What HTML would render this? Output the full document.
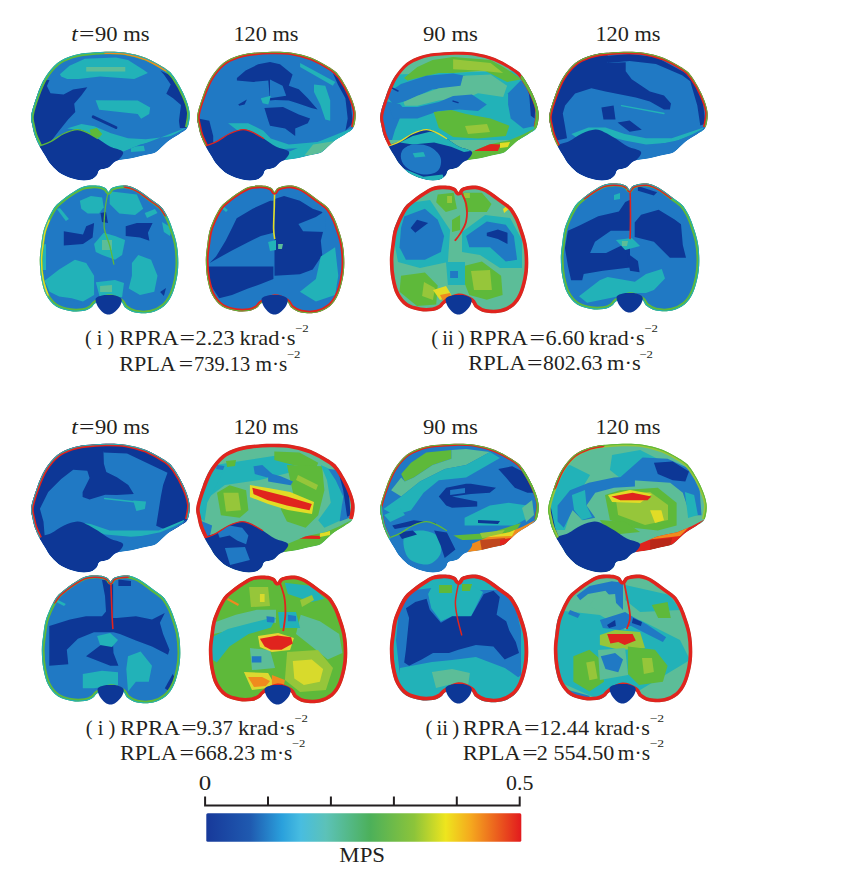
<!DOCTYPE html>
<html><head><meta charset="utf-8"><style>
html,body{margin:0;padding:0;background:#fff;}
svg{display:block;}
text{font-family:"Liberation Serif",serif;fill:#231f20;}
</style></head><body>
<svg width="843" height="876" viewBox="0 0 843 876">
<g transform="translate(0,0)"><clipPath id="sc1"><path d="M31.3,115.0 C30.5,120.1 31.9,122.5 32.5,126.0 C33.1,129.5 33.8,132.7 35.0,136.0 C36.2,139.3 37.8,142.8 39.5,146.0 C41.2,149.2 43.1,152.4 45.0,155.5 C46.9,158.6 48.4,161.7 51.1,164.8 C53.9,167.9 57.1,171.5 61.5,174.0 C65.8,176.5 72.4,178.8 77.2,179.8 C82.0,180.8 86.9,180.6 90.2,179.8 C93.5,179.0 95.3,176.8 96.8,175.2 C98.3,173.6 97.5,171.3 99.4,170.0 C101.4,168.7 105.7,168.9 108.5,167.4 C111.3,165.9 112.4,162.5 116.0,161.0 C119.6,159.5 125.3,159.5 130.2,158.5 C135.1,157.5 141.1,156.0 145.3,155.0 C149.5,154.0 152.4,154.0 155.4,152.4 C158.4,150.8 161.1,147.4 163.4,145.4 C165.8,143.4 166.6,142.3 169.5,140.3 C172.4,138.3 177.6,135.5 180.6,133.3 C183.6,131.1 186.1,130.8 187.6,127.2 C189.1,123.7 190.1,117.3 189.5,112.0 C188.9,106.7 186.9,101.2 184.3,95.4 C181.8,89.6 177.2,81.7 174.2,77.3 C171.2,72.9 170.9,72.4 166.2,69.2 C161.5,66.0 152.7,60.9 146.0,58.1 C139.3,55.4 132.5,53.8 125.8,52.7 C119.1,51.6 112.4,51.6 105.7,51.7 C99.0,51.8 91.2,52.4 85.5,53.1 C79.8,53.8 76.1,54.4 71.4,56.1 C66.7,57.8 61.7,59.6 57.3,63.1 C52.9,66.6 48.6,71.9 45.2,77.3 C41.8,82.7 39.4,89.1 37.1,95.4 C34.8,101.7 32.1,109.9 31.3,115.0Z"/></clipPath><clipPath id="cc1"><path d="M39.5,146.0 C40.5,143.6 47.0,143.4 51.1,141.3 C55.2,139.2 59.6,135.4 64.0,133.5 C68.3,131.6 73.5,129.8 77.2,129.6 C80.9,129.4 82.8,130.7 86.3,132.2 C89.8,133.7 94.1,136.3 98.0,138.7 C101.9,141.1 105.6,144.3 109.8,146.5 C114.0,148.7 121.5,149.5 122.9,151.8 C124.3,154.1 120.4,157.9 118.0,160.5 C115.6,163.1 111.6,165.8 108.5,167.4 C105.4,169.0 101.4,168.7 99.4,170.0 C97.5,171.3 98.3,173.6 96.8,175.2 C95.3,176.8 93.5,179.0 90.2,179.8 C86.9,180.6 82.0,180.8 77.2,179.8 C72.4,178.8 65.8,176.5 61.5,174.0 C57.1,171.5 53.9,167.9 51.1,164.8 C48.4,161.7 46.9,158.6 45.0,155.5 C43.1,152.4 38.5,148.4 39.5,146.0Z"/></clipPath><clipPath id="uc1"><path d="M122.9,151.8 L140.2,144.4 L150.3,142.3 L160.4,140.3 L174.5,134.3 L188.0,127.2 L180.6,133.3 L169.5,140.3 L163.4,145.4 L155.4,152.4 L145.3,155.0 L130.2,158.5 L118.0,160.5Z"/></clipPath><g clip-path="url(#sc1)"><path d="M31.3,115.0 C30.5,120.1 31.9,122.5 32.5,126.0 C33.1,129.5 33.8,132.7 35.0,136.0 C36.2,139.3 37.8,142.8 39.5,146.0 C41.2,149.2 43.1,152.4 45.0,155.5 C46.9,158.6 48.4,161.7 51.1,164.8 C53.9,167.9 57.1,171.5 61.5,174.0 C65.8,176.5 72.4,178.8 77.2,179.8 C82.0,180.8 86.9,180.6 90.2,179.8 C93.5,179.0 95.3,176.8 96.8,175.2 C98.3,173.6 97.5,171.3 99.4,170.0 C101.4,168.7 105.7,168.9 108.5,167.4 C111.3,165.9 112.4,162.5 116.0,161.0 C119.6,159.5 125.3,159.5 130.2,158.5 C135.1,157.5 141.1,156.0 145.3,155.0 C149.5,154.0 152.4,154.0 155.4,152.4 C158.4,150.8 161.1,147.4 163.4,145.4 C165.8,143.4 166.6,142.3 169.5,140.3 C172.4,138.3 177.6,135.5 180.6,133.3 C183.6,131.1 186.1,130.8 187.6,127.2 C189.1,123.7 190.1,117.3 189.5,112.0 C188.9,106.7 186.9,101.2 184.3,95.4 C181.8,89.6 177.2,81.7 174.2,77.3 C171.2,72.9 170.9,72.4 166.2,69.2 C161.5,66.0 152.7,60.9 146.0,58.1 C139.3,55.4 132.5,53.8 125.8,52.7 C119.1,51.6 112.4,51.6 105.7,51.7 C99.0,51.8 91.2,52.4 85.5,53.1 C79.8,53.8 76.1,54.4 71.4,56.1 C66.7,57.8 61.7,59.6 57.3,63.1 C52.9,66.6 48.6,71.9 45.2,77.3 C41.8,82.7 39.4,89.1 37.1,95.4 C34.8,101.7 32.1,109.9 31.3,115.0Z" fill="#2079c4"/><path d="M30.9,79.9 L49.5,79.9 L46.9,86.1 L50.5,93.2 L63.6,94.4 L73.0,89.5 L87.3,87.2 L81.3,95.5 L74.2,103.8 L75.3,112.0 L68.3,119.2 L58.9,131.0 L51.6,140.6 L40.1,150.0 L27.9,139.9 L27.9,90.0Z" fill="#0d3796"/><path d="M59.9,74.2 L69.5,65.8 L84.9,58.8 L115.9,57.5 L128.0,59.9 L143.4,69.7 L147.9,73.1 L134.2,78.9 L100.1,76.5 L78.9,78.9 L67.2,78.9 L61.2,76.5Z" fill="#22b2b8"/><path d="M86.2,66.9 L125.3,66.9 L125.3,71.6 L86.2,71.6Z" fill="#5cbd98"/><path d="M95.6,100.2 L137.7,100.4 L150.2,107.5 L149.2,114.1 L141.1,118.8 L137.7,114.1 L99.2,109.8Z" fill="#22b2b8"/><path d="M93.2,116.9 L115.9,127.5" fill="none" stroke="#0d3796" stroke-width="3.0" stroke-linecap="round"/><path d="M160.5,70.7 L170.7,75.4 L182.3,91.5 L187.8,105.1 L186.8,128.0 L179.9,128.0 L178.9,121.1 L181.0,105.1 L173.1,98.3 L166.3,93.8 L170.7,84.6 L163.9,74.4Z" fill="#0d3796"/><path d="M67.0,128.6 L81.5,123.9 L94.3,126.3 L111.0,133.3 L128.0,138.2 L145.8,139.3 L173.1,135.9 L188.0,126.9 L122.9,151.9 L109.7,146.5 L97.9,138.9 L86.2,132.2 L77.2,129.7Z" fill="#22b2b8"/><path d="M89.6,129.7 L96.9,128.0 L102.2,134.0 L99.0,137.8 L91.5,136.1Z" fill="#5eb93a"/><path d="M122.9,151.8 L140.2,144.4 L150.3,142.3 L160.4,140.3 L174.5,134.3 L188.0,127.2 L180.6,133.3 L169.5,140.3 L163.4,145.4 L155.4,152.4 L145.3,155.0 L130.2,158.5 L118.0,160.5Z" fill="#2079c4"/><g clip-path="url(#uc1)"><path d="M131.0,146.8 L143.8,145.7 L144.9,151.0 L131.0,152.1Z" fill="#22b2b8"/></g><path d="M39.5,146.0 C40.5,143.6 47.0,143.4 51.1,141.3 C55.2,139.2 59.6,135.4 64.0,133.5 C68.3,131.6 73.5,129.8 77.2,129.6 C80.9,129.4 82.8,130.7 86.3,132.2 C89.8,133.7 94.1,136.3 98.0,138.7 C101.9,141.1 105.6,144.3 109.8,146.5 C114.0,148.7 121.5,149.5 122.9,151.8 C124.3,154.1 120.4,157.9 118.0,160.5 C115.6,163.1 111.6,165.8 108.5,167.4 C105.4,169.0 101.4,168.7 99.4,170.0 C97.5,171.3 98.3,173.6 96.8,175.2 C95.3,176.8 93.5,179.0 90.2,179.8 C86.9,180.6 82.0,180.8 77.2,179.8 C72.4,178.8 65.8,176.5 61.5,174.0 C57.1,171.5 53.9,167.9 51.1,164.8 C48.4,161.7 46.9,158.6 45.0,155.5 C43.1,152.4 38.5,148.4 39.5,146.0Z" fill="#0d3796"/><g clip-path="url(#cc1)"></g><path d="M39.5,146.0 C41.4,145.2 47.0,143.4 51.1,141.3 C55.2,139.2 59.6,135.4 64.0,133.5 C68.3,131.6 73.5,129.8 77.2,129.6 C80.9,129.4 82.8,130.7 86.3,132.2 C89.8,133.7 96.0,137.6 98.0,138.7" fill="none" stroke="#5eb93a" stroke-width="1.3"/><path d="M39.5,146.0 C38.8,144.3 36.2,139.3 35.0,136.0 C33.8,132.7 33.1,129.5 32.5,126.0 C31.9,122.5 30.5,120.1 31.3,115.0 C32.1,109.9 34.8,101.7 37.1,95.4 C39.4,89.1 41.8,82.7 45.2,77.3 C48.6,71.9 52.9,66.6 57.3,63.1 C61.7,59.6 66.7,57.8 71.4,56.1 C76.1,54.4 79.8,53.8 85.5,53.1 C91.2,52.4 99.0,51.8 105.7,51.7 C112.4,51.6 119.1,51.6 125.8,52.7 C132.5,53.8 139.3,55.4 146.0,58.1 C152.7,60.9 161.5,66.0 166.2,69.2 C170.9,72.4 171.2,72.9 174.2,77.3 C177.2,81.7 181.8,89.6 184.3,95.4 C186.9,101.2 188.9,106.7 189.5,112.0 C190.1,117.3 187.9,124.7 187.6,127.2" fill="none" stroke="#5eb93a" stroke-width="5.2"/><path d="M105.7,51.7 C109.0,51.9 119.1,51.6 125.8,52.7 C132.5,53.8 139.3,55.4 146.0,58.1 C152.7,60.9 162.8,67.4 166.2,69.2" fill="none" stroke="#f08a1e" stroke-width="4.42" stroke-linecap="round"/><path d="M39.5,146.0 C38.8,144.3 36.2,139.3 35.0,136.0 C33.8,132.7 33.1,129.5 32.5,126.0 C31.9,122.5 30.5,120.1 31.3,115.0 C32.1,109.9 34.8,101.7 37.1,95.4 C39.4,89.1 41.8,82.7 45.2,77.3 C48.6,71.9 52.9,66.6 57.3,63.1 C61.7,59.6 66.7,57.8 71.4,56.1 C76.1,54.4 79.8,53.8 85.5,53.1 C91.2,52.4 99.0,51.8 105.7,51.7 C112.4,51.6 119.1,51.6 125.8,52.7 C132.5,53.8 139.3,55.4 146.0,58.1 C152.7,60.9 161.5,66.0 166.2,69.2 C170.9,72.4 171.2,72.9 174.2,77.3 C177.2,81.7 181.8,89.6 184.3,95.4 C186.9,101.2 188.9,106.7 189.5,112.0 C190.1,117.3 187.9,124.7 187.6,127.2" fill="none" stroke="#22b2b8" stroke-width="2.0"/></g></g><g transform="translate(166,0)"><clipPath id="sc2"><path d="M31.3,115.0 C30.5,120.1 31.9,122.5 32.5,126.0 C33.1,129.5 33.8,132.7 35.0,136.0 C36.2,139.3 37.8,142.8 39.5,146.0 C41.2,149.2 43.1,152.4 45.0,155.5 C46.9,158.6 48.4,161.7 51.1,164.8 C53.9,167.9 57.1,171.5 61.5,174.0 C65.8,176.5 72.4,178.8 77.2,179.8 C82.0,180.8 86.9,180.6 90.2,179.8 C93.5,179.0 95.3,176.8 96.8,175.2 C98.3,173.6 97.5,171.3 99.4,170.0 C101.4,168.7 105.7,168.9 108.5,167.4 C111.3,165.9 112.4,162.5 116.0,161.0 C119.6,159.5 125.3,159.5 130.2,158.5 C135.1,157.5 141.1,156.0 145.3,155.0 C149.5,154.0 152.4,154.0 155.4,152.4 C158.4,150.8 161.1,147.4 163.4,145.4 C165.8,143.4 166.6,142.3 169.5,140.3 C172.4,138.3 177.6,135.5 180.6,133.3 C183.6,131.1 186.1,130.8 187.6,127.2 C189.1,123.7 190.1,117.3 189.5,112.0 C188.9,106.7 186.9,101.2 184.3,95.4 C181.8,89.6 177.2,81.7 174.2,77.3 C171.2,72.9 170.9,72.4 166.2,69.2 C161.5,66.0 152.7,60.9 146.0,58.1 C139.3,55.4 132.5,53.8 125.8,52.7 C119.1,51.6 112.4,51.6 105.7,51.7 C99.0,51.8 91.2,52.4 85.5,53.1 C79.8,53.8 76.1,54.4 71.4,56.1 C66.7,57.8 61.7,59.6 57.3,63.1 C52.9,66.6 48.6,71.9 45.2,77.3 C41.8,82.7 39.4,89.1 37.1,95.4 C34.8,101.7 32.1,109.9 31.3,115.0Z"/></clipPath><clipPath id="cc2"><path d="M39.5,146.0 C40.5,143.6 47.0,143.4 51.1,141.3 C55.2,139.2 59.6,135.4 64.0,133.5 C68.3,131.6 73.5,129.8 77.2,129.6 C80.9,129.4 82.8,130.7 86.3,132.2 C89.8,133.7 94.1,136.3 98.0,138.7 C101.9,141.1 105.6,144.3 109.8,146.5 C114.0,148.7 121.5,149.5 122.9,151.8 C124.3,154.1 120.4,157.9 118.0,160.5 C115.6,163.1 111.6,165.8 108.5,167.4 C105.4,169.0 101.4,168.7 99.4,170.0 C97.5,171.3 98.3,173.6 96.8,175.2 C95.3,176.8 93.5,179.0 90.2,179.8 C86.9,180.6 82.0,180.8 77.2,179.8 C72.4,178.8 65.8,176.5 61.5,174.0 C57.1,171.5 53.9,167.9 51.1,164.8 C48.4,161.7 46.9,158.6 45.0,155.5 C43.1,152.4 38.5,148.4 39.5,146.0Z"/></clipPath><clipPath id="uc2"><path d="M122.9,151.8 L140.2,144.4 L150.3,142.3 L160.4,140.3 L174.5,134.3 L188.0,127.2 L180.6,133.3 L169.5,140.3 L163.4,145.4 L155.4,152.4 L145.3,155.0 L130.2,158.5 L118.0,160.5Z"/></clipPath><g clip-path="url(#sc2)"><path d="M31.3,115.0 C30.5,120.1 31.9,122.5 32.5,126.0 C33.1,129.5 33.8,132.7 35.0,136.0 C36.2,139.3 37.8,142.8 39.5,146.0 C41.2,149.2 43.1,152.4 45.0,155.5 C46.9,158.6 48.4,161.7 51.1,164.8 C53.9,167.9 57.1,171.5 61.5,174.0 C65.8,176.5 72.4,178.8 77.2,179.8 C82.0,180.8 86.9,180.6 90.2,179.8 C93.5,179.0 95.3,176.8 96.8,175.2 C98.3,173.6 97.5,171.3 99.4,170.0 C101.4,168.7 105.7,168.9 108.5,167.4 C111.3,165.9 112.4,162.5 116.0,161.0 C119.6,159.5 125.3,159.5 130.2,158.5 C135.1,157.5 141.1,156.0 145.3,155.0 C149.5,154.0 152.4,154.0 155.4,152.4 C158.4,150.8 161.1,147.4 163.4,145.4 C165.8,143.4 166.6,142.3 169.5,140.3 C172.4,138.3 177.6,135.5 180.6,133.3 C183.6,131.1 186.1,130.8 187.6,127.2 C189.1,123.7 190.1,117.3 189.5,112.0 C188.9,106.7 186.9,101.2 184.3,95.4 C181.8,89.6 177.2,81.7 174.2,77.3 C171.2,72.9 170.9,72.4 166.2,69.2 C161.5,66.0 152.7,60.9 146.0,58.1 C139.3,55.4 132.5,53.8 125.8,52.7 C119.1,51.6 112.4,51.6 105.7,51.7 C99.0,51.8 91.2,52.4 85.5,53.1 C79.8,53.8 76.1,54.4 71.4,56.1 C66.7,57.8 61.7,59.6 57.3,63.1 C52.9,66.6 48.6,71.9 45.2,77.3 C41.8,82.7 39.4,89.1 37.1,95.4 C34.8,101.7 32.1,109.9 31.3,115.0Z" fill="#2079c4"/><path d="M70.9,78.0 L79.6,70.5 L92.2,64.3 L104.0,62.0 L114.0,64.3 L126.6,74.4 L122.8,85.7 L132.8,89.3 L141.8,98.3 L151.6,109.4 L145.4,108.1 L131.5,103.2 L122.8,100.6 L109.1,100.0 L104.0,100.6 L102.3,80.6 L87.3,81.9 L70.9,80.6Z" fill="#0d3796"/><path d="M104.0,79.5 L116.6,85.7 L120.2,95.7 L104.0,98.3Z" fill="#2079c4"/><path d="M98.4,108.1 L117.0,107.0 L132.8,114.5 L144.1,118.4 L141.8,123.3 L129.2,128.4 L129.2,135.9 L119.1,128.4 L104.0,125.8 L102.3,120.7Z" fill="#0d3796"/><path d="M72.2,104.5 L80.9,99.6 L78.6,104.5 L73.4,105.8Z" fill="#0d3796"/><path d="M29.0,117.9 L43.3,120.7 L47.2,135.9 L47.2,143.3 L43.3,147.2 L29.0,139.9Z" fill="#0d3796"/><path d="M94.8,98.3 L104.8,95.7 L102.3,104.5 L96.7,103.2Z" fill="#22b2b8"/><path d="M134.1,63.1 L169.3,81.9 L166.8,85.7 L134.1,66.9Z" fill="#22b2b8"/><path d="M148.0,84.4 L159.3,85.7 L164.2,100.6 L164.2,120.7 L159.3,119.4 L154.2,104.5 L148.0,91.9Z" fill="#22b2b8"/><path d="M166.8,73.1 L175.5,80.6 L184.3,98.3 L186.8,123.3 L179.4,130.7 L181.7,118.4 L179.4,98.3 L171.9,84.4Z" fill="#0d3796"/><path d="M62.1,123.3 L82.2,123.3 L97.4,130.7 L104.8,138.4 L122.8,144.6 L151.6,142.1 L185.5,128.4 L184.3,133.3 L151.6,147.2 L125.3,148.5 L104.0,150.0 L83.9,139.9Z" fill="#22b2b8"/><path d="M122.9,151.8 L140.2,144.4 L150.3,142.3 L160.4,140.3 L174.5,134.3 L188.0,127.2 L180.6,133.3 L169.5,140.3 L163.4,145.4 L155.4,152.4 L145.3,155.0 L130.2,158.5 L118.0,160.5Z" fill="#22b2b8"/><g clip-path="url(#uc2)"><path d="M147.1,144.6 L172.7,140.4 L155.7,155.3 L138.6,155.3Z" fill="#5cbd98"/></g><path d="M39.5,146.0 C40.5,143.6 47.0,143.4 51.1,141.3 C55.2,139.2 59.6,135.4 64.0,133.5 C68.3,131.6 73.5,129.8 77.2,129.6 C80.9,129.4 82.8,130.7 86.3,132.2 C89.8,133.7 94.1,136.3 98.0,138.7 C101.9,141.1 105.6,144.3 109.8,146.5 C114.0,148.7 121.5,149.5 122.9,151.8 C124.3,154.1 120.4,157.9 118.0,160.5 C115.6,163.1 111.6,165.8 108.5,167.4 C105.4,169.0 101.4,168.7 99.4,170.0 C97.5,171.3 98.3,173.6 96.8,175.2 C95.3,176.8 93.5,179.0 90.2,179.8 C86.9,180.6 82.0,180.8 77.2,179.8 C72.4,178.8 65.8,176.5 61.5,174.0 C57.1,171.5 53.9,167.9 51.1,164.8 C48.4,161.7 46.9,158.6 45.0,155.5 C43.1,152.4 38.5,148.4 39.5,146.0Z" fill="#0d3796"/><g clip-path="url(#cc2)"></g><path d="M39.5,146.0 C41.4,145.2 47.0,143.4 51.1,141.3 C55.2,139.2 59.6,135.4 64.0,133.5 C68.3,131.6 73.5,129.8 77.2,129.6 C80.9,129.4 82.8,130.7 86.3,132.2 C89.8,133.7 96.0,137.6 98.0,138.7" fill="none" stroke="#e0241e" stroke-width="1.3"/><path d="M39.5,146.0 C38.8,144.3 36.2,139.3 35.0,136.0 C33.8,132.7 33.1,129.5 32.5,126.0 C31.9,122.5 30.5,120.1 31.3,115.0 C32.1,109.9 34.8,101.7 37.1,95.4 C39.4,89.1 41.8,82.7 45.2,77.3 C48.6,71.9 52.9,66.6 57.3,63.1 C61.7,59.6 66.7,57.8 71.4,56.1 C76.1,54.4 79.8,53.8 85.5,53.1 C91.2,52.4 99.0,51.8 105.7,51.7 C112.4,51.6 119.1,51.6 125.8,52.7 C132.5,53.8 139.3,55.4 146.0,58.1 C152.7,60.9 161.5,66.0 166.2,69.2 C170.9,72.4 171.2,72.9 174.2,77.3 C177.2,81.7 181.8,89.6 184.3,95.4 C186.9,101.2 188.9,106.7 189.5,112.0 C190.1,117.3 187.9,124.7 187.6,127.2" fill="none" stroke="#e0241e" stroke-width="5.2"/><path d="M39.5,146.0 C38.8,144.3 36.2,139.3 35.0,136.0 C33.8,132.7 33.1,129.5 32.5,126.0 C31.9,122.5 30.5,120.1 31.3,115.0 C32.1,109.9 34.8,101.7 37.1,95.4 C39.4,89.1 41.8,82.7 45.2,77.3 C48.6,71.9 52.9,66.6 57.3,63.1 C61.7,59.6 66.7,57.8 71.4,56.1 C76.1,54.4 79.8,53.8 85.5,53.1 C91.2,52.4 99.0,51.8 105.7,51.7 C112.4,51.6 119.1,51.6 125.8,52.7 C132.5,53.8 139.3,55.4 146.0,58.1 C152.7,60.9 161.5,66.0 166.2,69.2 C170.9,72.4 171.2,72.9 174.2,77.3 C177.2,81.7 181.8,89.6 184.3,95.4 C186.9,101.2 188.9,106.7 189.5,112.0 C190.1,117.3 187.9,124.7 187.6,127.2" fill="none" stroke="#5eb93a" stroke-width="2.0"/></g></g><g transform="translate(349,0)"><clipPath id="sc3"><path d="M31.3,115.0 C30.5,120.1 31.9,122.5 32.5,126.0 C33.1,129.5 33.8,132.7 35.0,136.0 C36.2,139.3 37.8,142.8 39.5,146.0 C41.2,149.2 43.1,152.4 45.0,155.5 C46.9,158.6 48.4,161.7 51.1,164.8 C53.9,167.9 57.1,171.5 61.5,174.0 C65.8,176.5 72.4,178.8 77.2,179.8 C82.0,180.8 86.9,180.6 90.2,179.8 C93.5,179.0 95.3,176.8 96.8,175.2 C98.3,173.6 97.5,171.3 99.4,170.0 C101.4,168.7 105.7,168.9 108.5,167.4 C111.3,165.9 112.4,162.5 116.0,161.0 C119.6,159.5 125.3,159.5 130.2,158.5 C135.1,157.5 141.1,156.0 145.3,155.0 C149.5,154.0 152.4,154.0 155.4,152.4 C158.4,150.8 161.1,147.4 163.4,145.4 C165.8,143.4 166.6,142.3 169.5,140.3 C172.4,138.3 177.6,135.5 180.6,133.3 C183.6,131.1 186.1,130.8 187.6,127.2 C189.1,123.7 190.1,117.3 189.5,112.0 C188.9,106.7 186.9,101.2 184.3,95.4 C181.8,89.6 177.2,81.7 174.2,77.3 C171.2,72.9 170.9,72.4 166.2,69.2 C161.5,66.0 152.7,60.9 146.0,58.1 C139.3,55.4 132.5,53.8 125.8,52.7 C119.1,51.6 112.4,51.6 105.7,51.7 C99.0,51.8 91.2,52.4 85.5,53.1 C79.8,53.8 76.1,54.4 71.4,56.1 C66.7,57.8 61.7,59.6 57.3,63.1 C52.9,66.6 48.6,71.9 45.2,77.3 C41.8,82.7 39.4,89.1 37.1,95.4 C34.8,101.7 32.1,109.9 31.3,115.0Z"/></clipPath><clipPath id="cc3"><path d="M39.5,146.0 C40.5,143.6 47.0,143.4 51.1,141.3 C55.2,139.2 59.6,135.4 64.0,133.5 C68.3,131.6 73.5,129.8 77.2,129.6 C80.9,129.4 82.8,130.7 86.3,132.2 C89.8,133.7 94.1,136.3 98.0,138.7 C101.9,141.1 105.6,144.3 109.8,146.5 C114.0,148.7 121.5,149.5 122.9,151.8 C124.3,154.1 120.4,157.9 118.0,160.5 C115.6,163.1 111.6,165.8 108.5,167.4 C105.4,169.0 101.4,168.7 99.4,170.0 C97.5,171.3 98.3,173.6 96.8,175.2 C95.3,176.8 93.5,179.0 90.2,179.8 C86.9,180.6 82.0,180.8 77.2,179.8 C72.4,178.8 65.8,176.5 61.5,174.0 C57.1,171.5 53.9,167.9 51.1,164.8 C48.4,161.7 46.9,158.6 45.0,155.5 C43.1,152.4 38.5,148.4 39.5,146.0Z"/></clipPath><clipPath id="uc3"><path d="M122.9,151.8 L140.2,144.4 L150.3,142.3 L160.4,140.3 L174.5,134.3 L188.0,127.2 L180.6,133.3 L169.5,140.3 L163.4,145.4 L155.4,152.4 L145.3,155.0 L130.2,158.5 L118.0,160.5Z"/></clipPath><g clip-path="url(#sc3)"><path d="M31.3,115.0 C30.5,120.1 31.9,122.5 32.5,126.0 C33.1,129.5 33.8,132.7 35.0,136.0 C36.2,139.3 37.8,142.8 39.5,146.0 C41.2,149.2 43.1,152.4 45.0,155.5 C46.9,158.6 48.4,161.7 51.1,164.8 C53.9,167.9 57.1,171.5 61.5,174.0 C65.8,176.5 72.4,178.8 77.2,179.8 C82.0,180.8 86.9,180.6 90.2,179.8 C93.5,179.0 95.3,176.8 96.8,175.2 C98.3,173.6 97.5,171.3 99.4,170.0 C101.4,168.7 105.7,168.9 108.5,167.4 C111.3,165.9 112.4,162.5 116.0,161.0 C119.6,159.5 125.3,159.5 130.2,158.5 C135.1,157.5 141.1,156.0 145.3,155.0 C149.5,154.0 152.4,154.0 155.4,152.4 C158.4,150.8 161.1,147.4 163.4,145.4 C165.8,143.4 166.6,142.3 169.5,140.3 C172.4,138.3 177.6,135.5 180.6,133.3 C183.6,131.1 186.1,130.8 187.6,127.2 C189.1,123.7 190.1,117.3 189.5,112.0 C188.9,106.7 186.9,101.2 184.3,95.4 C181.8,89.6 177.2,81.7 174.2,77.3 C171.2,72.9 170.9,72.4 166.2,69.2 C161.5,66.0 152.7,60.9 146.0,58.1 C139.3,55.4 132.5,53.8 125.8,52.7 C119.1,51.6 112.4,51.6 105.7,51.7 C99.0,51.8 91.2,52.4 85.5,53.1 C79.8,53.8 76.1,54.4 71.4,56.1 C66.7,57.8 61.7,59.6 57.3,63.1 C52.9,66.6 48.6,71.9 45.2,77.3 C41.8,82.7 39.4,89.1 37.1,95.4 C34.8,101.7 32.1,109.9 31.3,115.0Z" fill="#5cbd98"/><path d="M28.9,75.0 L191.0,69.9 L191.0,139.9 L28.9,139.9Z" fill="#22b2b8"/><path d="M55.0,78.0 L68.4,66.9 L83.6,60.1 L104.1,57.1 L141.6,60.1 L154.2,66.9 L169.4,76.9 L171.7,79.5 L158.1,81.9 L135.4,70.5 L104.1,73.1 L89.8,73.1 L68.4,78.0 L58.4,80.6Z" fill="#5eb93a"/><path d="M104.1,59.2 L141.6,63.1 L154.2,73.1 L129.0,70.5 L104.1,69.3Z" fill="#96c63a"/><path d="M35.9,95.1 L52.0,84.0 L77.2,75.7 L104.1,73.5 L117.1,76.1 L117.1,87.0 L89.8,89.3 L83.6,89.3 L58.4,100.6 L44.7,104.5Z" fill="#2079c4"/><path d="M31.0,100.0 L50.9,104.1 L56.0,110.0 L50.9,117.9 L46.0,130.1 L43.0,139.9 L33.0,139.9Z" fill="#2079c4"/><path d="M54.5,101.9 L68.4,95.7 L89.8,88.3 L111.5,85.7 L114.1,75.7 L141.6,74.4 L158.1,85.7 L154.2,97.0 L129.0,93.2 L117.1,98.3 L89.8,100.6 L68.4,105.8 L55.8,105.8Z" fill="#5cbd98"/><path d="M39.6,107.0 L68.4,107.0 L89.8,101.9 L104.1,95.9 L122.9,94.4 L137.8,104.5 L129.0,110.9 L110.3,109.4 L89.8,110.9 L68.4,118.4 L44.7,118.4Z" fill="#2079c4"/><path d="M84.6,112.0 L102.4,110.0 L117.1,114.1 L141.6,118.4 L160.4,125.8 L156.8,135.9 L129.0,138.4 L104.1,136.9 L89.8,128.0Z" fill="#5eb93a"/><path d="M116.0,126.0 L138.0,123.9 L141.0,132.0 L119.0,134.0Z" fill="#96c63a"/><path d="M159.1,93.2 L171.7,80.6 L179.2,84.4 L185.6,104.5 L186.7,125.8 L174.3,128.4 L161.7,118.4 L159.1,104.5Z" fill="#2079c4"/><path d="M179.2,89.3 L186.7,101.9 L185.6,118.4 L181.8,115.8 L180.5,98.3Z" fill="#0d3796"/><path d="M43.0,88.0 L49.0,91.0" fill="none" stroke="#0d3796" stroke-width="1.5" stroke-linecap="round"/><path d="M104.1,101.1 L109.0,102.6" fill="none" stroke="#0d3796" stroke-width="1.5" stroke-linecap="round"/><path d="M122.9,151.8 L140.2,144.4 L150.3,142.3 L160.4,140.3 L174.5,134.3 L188.0,127.2 L180.6,133.3 L169.5,140.3 L163.4,145.4 L155.4,152.4 L145.3,155.0 L130.2,158.5 L118.0,160.5Z" fill="#5eb93a"/><g clip-path="url(#uc3)"><path d="M124.1,143.3 L151.7,144.6 L148.9,151.0 L126.1,151.0Z" fill="#e0241e"/><path d="M116.0,142.1 L123.9,142.1 L123.9,148.0 L116.0,148.0Z" fill="#e2dc26"/><path d="M151.0,142.9 L161.1,142.1 L158.9,147.0 L151.0,148.0Z" fill="#e2dc26"/></g><path d="M39.5,146.0 C40.5,143.6 47.0,143.4 51.1,141.3 C55.2,139.2 59.6,135.4 64.0,133.5 C68.3,131.6 73.5,129.8 77.2,129.6 C80.9,129.4 82.8,130.7 86.3,132.2 C89.8,133.7 94.1,136.3 98.0,138.7 C101.9,141.1 105.6,144.3 109.8,146.5 C114.0,148.7 121.5,149.5 122.9,151.8 C124.3,154.1 120.4,157.9 118.0,160.5 C115.6,163.1 111.6,165.8 108.5,167.4 C105.4,169.0 101.4,168.7 99.4,170.0 C97.5,171.3 98.3,173.6 96.8,175.2 C95.3,176.8 93.5,179.0 90.2,179.8 C86.9,180.6 82.0,180.8 77.2,179.8 C72.4,178.8 65.8,176.5 61.5,174.0 C57.1,171.5 53.9,167.9 51.1,164.8 C48.4,161.7 46.9,158.6 45.0,155.5 C43.1,152.4 38.5,148.4 39.5,146.0Z" fill="#0d3796"/><g clip-path="url(#cc3)"><path d="M50.9,142.5 L63.7,136.1 L80.8,131.8 L95.7,134.0 L110.7,142.5 L121.4,151.0 L115.0,152.1 L102.1,146.8 L85.1,142.5 L63.7,144.6Z" fill="#22b2b8"/><path d="M53.0,151.0 C54.8,148.2 59.1,145.3 63.7,144.6 C68.3,143.9 76.2,144.6 80.8,146.8 C85.4,148.9 90.0,153.5 91.5,157.4 C92.9,161.4 91.8,167.4 89.3,170.2 C86.8,173.1 81.1,174.5 76.5,174.5 C71.9,174.5 65.5,172.4 61.6,170.2 C57.7,168.1 54.5,164.9 53.0,161.7 C51.6,158.5 51.2,153.9 53.0,151.0Z" fill="#2079c4"/><path d="M63.7,153.2 L74.4,152.1 L76.5,156.4 L65.8,157.4Z" fill="#22b2b8"/><path d="M53.0,168.1 L74.4,176.7 L93.6,174.5 L95.7,180.9 L74.4,183.1 L53.0,176.7Z" fill="#22b2b8"/></g><path d="M39.5,146.0 C41.4,145.2 47.0,143.4 51.1,141.3 C55.2,139.2 59.6,135.4 64.0,133.5 C68.3,131.6 73.5,129.8 77.2,129.6 C80.9,129.4 82.8,130.7 86.3,132.2 C89.8,133.7 96.0,137.6 98.0,138.7" fill="none" stroke="#e2dc26" stroke-width="1.3"/><path d="M39.5,146.0 C38.8,144.3 36.2,139.3 35.0,136.0 C33.8,132.7 33.1,129.5 32.5,126.0 C31.9,122.5 30.5,120.1 31.3,115.0 C32.1,109.9 34.8,101.7 37.1,95.4 C39.4,89.1 41.8,82.7 45.2,77.3 C48.6,71.9 52.9,66.6 57.3,63.1 C61.7,59.6 66.7,57.8 71.4,56.1 C76.1,54.4 79.8,53.8 85.5,53.1 C91.2,52.4 99.0,51.8 105.7,51.7 C112.4,51.6 119.1,51.6 125.8,52.7 C132.5,53.8 139.3,55.4 146.0,58.1 C152.7,60.9 161.5,66.0 166.2,69.2 C170.9,72.4 171.2,72.9 174.2,77.3 C177.2,81.7 181.8,89.6 184.3,95.4 C186.9,101.2 188.9,106.7 189.5,112.0 C190.1,117.3 187.9,124.7 187.6,127.2" fill="none" stroke="#e0241e" stroke-width="6"/><path d="M174.2,77.3 C175.9,80.3 181.8,89.6 184.3,95.4 C186.9,101.2 188.9,106.7 189.5,112.0 C190.1,117.3 187.9,124.7 187.6,127.2" fill="none" stroke="#5eb93a" stroke-width="5.1" stroke-linecap="round"/></g></g><g transform="translate(518,0)"><clipPath id="sc4"><path d="M31.3,115.0 C30.5,120.1 31.9,122.5 32.5,126.0 C33.1,129.5 33.8,132.7 35.0,136.0 C36.2,139.3 37.8,142.8 39.5,146.0 C41.2,149.2 43.1,152.4 45.0,155.5 C46.9,158.6 48.4,161.7 51.1,164.8 C53.9,167.9 57.1,171.5 61.5,174.0 C65.8,176.5 72.4,178.8 77.2,179.8 C82.0,180.8 86.9,180.6 90.2,179.8 C93.5,179.0 95.3,176.8 96.8,175.2 C98.3,173.6 97.5,171.3 99.4,170.0 C101.4,168.7 105.7,168.9 108.5,167.4 C111.3,165.9 112.4,162.5 116.0,161.0 C119.6,159.5 125.3,159.5 130.2,158.5 C135.1,157.5 141.1,156.0 145.3,155.0 C149.5,154.0 152.4,154.0 155.4,152.4 C158.4,150.8 161.1,147.4 163.4,145.4 C165.8,143.4 166.6,142.3 169.5,140.3 C172.4,138.3 177.6,135.5 180.6,133.3 C183.6,131.1 186.1,130.8 187.6,127.2 C189.1,123.7 190.1,117.3 189.5,112.0 C188.9,106.7 186.9,101.2 184.3,95.4 C181.8,89.6 177.2,81.7 174.2,77.3 C171.2,72.9 170.9,72.4 166.2,69.2 C161.5,66.0 152.7,60.9 146.0,58.1 C139.3,55.4 132.5,53.8 125.8,52.7 C119.1,51.6 112.4,51.6 105.7,51.7 C99.0,51.8 91.2,52.4 85.5,53.1 C79.8,53.8 76.1,54.4 71.4,56.1 C66.7,57.8 61.7,59.6 57.3,63.1 C52.9,66.6 48.6,71.9 45.2,77.3 C41.8,82.7 39.4,89.1 37.1,95.4 C34.8,101.7 32.1,109.9 31.3,115.0Z"/></clipPath><clipPath id="cc4"><path d="M39.5,146.0 C40.5,143.6 47.0,143.4 51.1,141.3 C55.2,139.2 59.6,135.4 64.0,133.5 C68.3,131.6 73.5,129.8 77.2,129.6 C80.9,129.4 82.8,130.7 86.3,132.2 C89.8,133.7 94.1,136.3 98.0,138.7 C101.9,141.1 105.6,144.3 109.8,146.5 C114.0,148.7 121.5,149.5 122.9,151.8 C124.3,154.1 120.4,157.9 118.0,160.5 C115.6,163.1 111.6,165.8 108.5,167.4 C105.4,169.0 101.4,168.7 99.4,170.0 C97.5,171.3 98.3,173.6 96.8,175.2 C95.3,176.8 93.5,179.0 90.2,179.8 C86.9,180.6 82.0,180.8 77.2,179.8 C72.4,178.8 65.8,176.5 61.5,174.0 C57.1,171.5 53.9,167.9 51.1,164.8 C48.4,161.7 46.9,158.6 45.0,155.5 C43.1,152.4 38.5,148.4 39.5,146.0Z"/></clipPath><clipPath id="uc4"><path d="M122.9,151.8 L140.2,144.4 L150.3,142.3 L160.4,140.3 L174.5,134.3 L188.0,127.2 L180.6,133.3 L169.5,140.3 L163.4,145.4 L155.4,152.4 L145.3,155.0 L130.2,158.5 L118.0,160.5Z"/></clipPath><g clip-path="url(#sc4)"><path d="M31.3,115.0 C30.5,120.1 31.9,122.5 32.5,126.0 C33.1,129.5 33.8,132.7 35.0,136.0 C36.2,139.3 37.8,142.8 39.5,146.0 C41.2,149.2 43.1,152.4 45.0,155.5 C46.9,158.6 48.4,161.7 51.1,164.8 C53.9,167.9 57.1,171.5 61.5,174.0 C65.8,176.5 72.4,178.8 77.2,179.8 C82.0,180.8 86.9,180.6 90.2,179.8 C93.5,179.0 95.3,176.8 96.8,175.2 C98.3,173.6 97.5,171.3 99.4,170.0 C101.4,168.7 105.7,168.9 108.5,167.4 C111.3,165.9 112.4,162.5 116.0,161.0 C119.6,159.5 125.3,159.5 130.2,158.5 C135.1,157.5 141.1,156.0 145.3,155.0 C149.5,154.0 152.4,154.0 155.4,152.4 C158.4,150.8 161.1,147.4 163.4,145.4 C165.8,143.4 166.6,142.3 169.5,140.3 C172.4,138.3 177.6,135.5 180.6,133.3 C183.6,131.1 186.1,130.8 187.6,127.2 C189.1,123.7 190.1,117.3 189.5,112.0 C188.9,106.7 186.9,101.2 184.3,95.4 C181.8,89.6 177.2,81.7 174.2,77.3 C171.2,72.9 170.9,72.4 166.2,69.2 C161.5,66.0 152.7,60.9 146.0,58.1 C139.3,55.4 132.5,53.8 125.8,52.7 C119.1,51.6 112.4,51.6 105.7,51.7 C99.0,51.8 91.2,52.4 85.5,53.1 C79.8,53.8 76.1,54.4 71.4,56.1 C66.7,57.8 61.7,59.6 57.3,63.1 C52.9,66.6 48.6,71.9 45.2,77.3 C41.8,82.7 39.4,89.1 37.1,95.4 C34.8,101.7 32.1,109.9 31.3,115.0Z" fill="#2079c4"/><path d="M87.5,56.0 L111.6,54.1 L137.9,57.1 L168.2,73.3 L184.2,95.5 L187.4,123.7 L182.3,125.6 L179.3,105.6 L172.2,81.2 L164.1,75.2 L137.9,64.1 L111.6,61.1 L89.6,63.1Z" fill="#0d3796"/><path d="M27.7,115.6 L31.9,91.2 L42.6,69.9 L64.0,54.9 L89.6,50.7 L89.6,63.1 L107.7,62.2 L107.7,71.2 L113.7,79.3 L131.9,91.5 L146.0,95.5 L153.0,103.4 L151.9,109.6 L146.0,109.6 L131.9,101.5 L117.8,97.4 L107.7,95.5 L87.5,91.5 L73.4,88.3 L57.1,93.4 L47.1,105.6 L44.8,113.5 L46.9,125.4 L49.0,138.2 L38.4,140.4 L31.9,129.7Z" fill="#0d3796"/><path d="M83.4,107.5 L95.6,105.6 L97.5,119.6 L85.5,119.6Z" fill="#0d3796"/><path d="M99.6,122.6 L111.6,120.5 L123.8,129.7 L111.6,131.8Z" fill="#0d3796"/><path d="M103.5,105.6 L146.0,113.5" fill="none" stroke="#22b2b8" stroke-width="1.3" stroke-linecap="round"/><path d="M53.3,134.0 L70.4,127.5 L87.5,127.5 L106.7,134.0 L128.0,138.2 L153.7,138.2 L185.7,127.5 L183.5,131.8 L153.7,142.5 L128.0,144.6 L106.7,140.4 L81.1,134.0 L59.7,138.2Z" fill="#22b2b8"/><path d="M122.9,151.8 L140.2,144.4 L150.3,142.3 L160.4,140.3 L174.5,134.3 L188.0,127.2 L180.6,133.3 L169.5,140.3 L163.4,145.4 L155.4,152.4 L145.3,155.0 L130.2,158.5 L118.0,160.5Z" fill="#2079c4"/><g clip-path="url(#uc4)"></g><path d="M39.5,146.0 C40.5,143.6 47.0,143.4 51.1,141.3 C55.2,139.2 59.6,135.4 64.0,133.5 C68.3,131.6 73.5,129.8 77.2,129.6 C80.9,129.4 82.8,130.7 86.3,132.2 C89.8,133.7 94.1,136.3 98.0,138.7 C101.9,141.1 105.6,144.3 109.8,146.5 C114.0,148.7 121.5,149.5 122.9,151.8 C124.3,154.1 120.4,157.9 118.0,160.5 C115.6,163.1 111.6,165.8 108.5,167.4 C105.4,169.0 101.4,168.7 99.4,170.0 C97.5,171.3 98.3,173.6 96.8,175.2 C95.3,176.8 93.5,179.0 90.2,179.8 C86.9,180.6 82.0,180.8 77.2,179.8 C72.4,178.8 65.8,176.5 61.5,174.0 C57.1,171.5 53.9,167.9 51.1,164.8 C48.4,161.7 46.9,158.6 45.0,155.5 C43.1,152.4 38.5,148.4 39.5,146.0Z" fill="#0d3796"/><g clip-path="url(#cc4)"></g><path d="M39.5,146.0 C38.8,144.3 36.2,139.3 35.0,136.0 C33.8,132.7 33.1,129.5 32.5,126.0 C31.9,122.5 30.5,120.1 31.3,115.0 C32.1,109.9 34.8,101.7 37.1,95.4 C39.4,89.1 41.8,82.7 45.2,77.3 C48.6,71.9 52.9,66.6 57.3,63.1 C61.7,59.6 66.7,57.8 71.4,56.1 C76.1,54.4 79.8,53.8 85.5,53.1 C91.2,52.4 99.0,51.8 105.7,51.7 C112.4,51.6 119.1,51.6 125.8,52.7 C132.5,53.8 139.3,55.4 146.0,58.1 C152.7,60.9 161.5,66.0 166.2,69.2 C170.9,72.4 171.2,72.9 174.2,77.3 C177.2,81.7 181.8,89.6 184.3,95.4 C186.9,101.2 188.9,106.7 189.5,112.0 C190.1,117.3 187.9,124.7 187.6,127.2" fill="none" stroke="#e0241e" stroke-width="5.2"/><path d="M39.5,146.0 C38.8,144.3 36.2,139.3 35.0,136.0 C33.8,132.7 33.1,129.5 32.5,126.0 C31.9,122.5 30.5,120.1 31.3,115.0 C32.1,109.9 34.8,101.7 37.1,95.4 C39.4,89.1 41.8,82.7 45.2,77.3 C48.6,71.9 52.9,66.6 57.3,63.1 C61.7,59.6 66.7,57.8 71.4,56.1 C76.1,54.4 79.8,53.8 85.5,53.1 C91.2,52.4 99.0,51.8 105.7,51.7 C112.4,51.6 119.1,51.6 125.8,52.7 C132.5,53.8 139.3,55.4 146.0,58.1 C152.7,60.9 161.5,66.0 166.2,69.2 C170.9,72.4 171.2,72.9 174.2,77.3 C177.2,81.7 181.8,89.6 184.3,95.4 C186.9,101.2 188.9,106.7 189.5,112.0 C190.1,117.3 187.9,124.7 187.6,127.2" fill="none" stroke="#5eb93a" stroke-width="2.0"/></g></g><g transform="translate(0,0)"><clipPath id="kc5"><path d="M108.6,192.0 C109.4,192.0 109.8,189.4 111.0,188.5 C112.2,187.6 113.6,187.0 116.0,186.5 C118.4,186.0 122.8,185.4 125.6,185.6 C128.4,185.8 130.6,186.6 133.0,187.5 C135.4,188.4 137.2,189.4 140.0,191.2 C142.8,193.0 146.6,195.9 150.0,198.5 C153.4,201.1 158.0,203.9 160.7,206.5 C163.4,209.1 164.4,211.2 166.0,214.0 C167.6,216.8 168.5,218.1 170.3,223.1 C172.1,228.1 175.4,237.2 176.7,243.9 C178.0,250.6 178.3,257.2 178.3,263.1 C178.3,269.0 177.8,273.7 176.7,279.0 C175.6,284.3 174.0,290.5 171.9,295.0 C169.8,299.5 167.4,303.3 163.9,306.2 C160.4,309.1 155.9,311.5 151.1,312.6 C146.3,313.7 139.3,313.4 135.1,312.6 C130.8,311.8 128.0,309.7 125.6,307.8 C123.2,305.9 123.6,303.2 120.8,301.4 C118.0,299.6 112.8,296.7 108.6,297.0 C104.4,297.3 98.7,301.2 95.7,303.0 C92.8,304.8 93.0,306.5 90.9,307.8 C88.8,309.1 86.4,310.5 82.9,311.0 C79.4,311.5 74.6,311.8 70.1,311.0 C65.6,310.2 59.8,308.9 55.8,306.2 C51.8,303.5 48.6,299.5 46.2,295.0 C43.8,290.5 42.5,284.9 41.4,279.0 C40.3,273.1 39.8,265.8 39.8,259.9 C39.8,254.0 40.8,248.7 41.4,243.9 C42.0,239.1 42.5,235.0 43.5,231.1 C44.5,227.2 45.9,224.0 47.3,220.7 C48.7,217.4 50.4,213.9 52.0,211.2 C53.6,208.5 54.9,206.6 56.8,204.6 C58.7,202.6 60.8,201.0 63.5,198.9 C66.2,196.8 69.8,194.2 73.0,192.2 C76.2,190.2 79.2,188.1 82.4,187.0 C85.6,185.9 88.9,185.7 92.0,185.6 C95.1,185.5 98.7,185.7 101.0,186.2 C103.3,186.7 104.7,187.5 106.0,188.5 C107.3,189.5 107.8,192.0 108.6,192.0Z"/></clipPath><g clip-path="url(#kc5)"><path d="M108.6,192.0 C109.4,192.0 109.8,189.4 111.0,188.5 C112.2,187.6 113.6,187.0 116.0,186.5 C118.4,186.0 122.8,185.4 125.6,185.6 C128.4,185.8 130.6,186.6 133.0,187.5 C135.4,188.4 137.2,189.4 140.0,191.2 C142.8,193.0 146.6,195.9 150.0,198.5 C153.4,201.1 158.0,203.9 160.7,206.5 C163.4,209.1 164.4,211.2 166.0,214.0 C167.6,216.8 168.5,218.1 170.3,223.1 C172.1,228.1 175.4,237.2 176.7,243.9 C178.0,250.6 178.3,257.2 178.3,263.1 C178.3,269.0 177.8,273.7 176.7,279.0 C175.6,284.3 174.0,290.5 171.9,295.0 C169.8,299.5 167.4,303.3 163.9,306.2 C160.4,309.1 155.9,311.5 151.1,312.6 C146.3,313.7 139.3,313.4 135.1,312.6 C130.8,311.8 128.0,309.7 125.6,307.8 C123.2,305.9 123.6,303.2 120.8,301.4 C118.0,299.6 112.8,296.7 108.6,297.0 C104.4,297.3 98.7,301.2 95.7,303.0 C92.8,304.8 93.0,306.5 90.9,307.8 C88.8,309.1 86.4,310.5 82.9,311.0 C79.4,311.5 74.6,311.8 70.1,311.0 C65.6,310.2 59.8,308.9 55.8,306.2 C51.8,303.5 48.6,299.5 46.2,295.0 C43.8,290.5 42.5,284.9 41.4,279.0 C40.3,273.1 39.8,265.8 39.8,259.9 C39.8,254.0 40.8,248.7 41.4,243.9 C42.0,239.1 42.5,235.0 43.5,231.1 C44.5,227.2 45.9,224.0 47.3,220.7 C48.7,217.4 50.4,213.9 52.0,211.2 C53.6,208.5 54.9,206.6 56.8,204.6 C58.7,202.6 60.8,201.0 63.5,198.9 C66.2,196.8 69.8,194.2 73.0,192.2 C76.2,190.2 79.2,188.1 82.4,187.0 C85.6,185.9 88.9,185.7 92.0,185.6 C95.1,185.5 98.7,185.7 101.0,186.2 C103.3,186.7 104.7,187.5 106.0,188.5 C107.3,189.5 107.8,192.0 108.6,192.0Z" fill="#2079c4"/><path d="M79.8,200.8 L90.9,195.9 L102.2,197.6 L103.7,207.2 L99.0,213.4 L87.7,213.4 L81.3,208.7Z" fill="#22b2b8"/><path d="M56.9,209.0 L59.9,208.1 L68.9,219.0 L65.9,220.9Z" fill="#22b2b8"/><path d="M109.7,191.2 L136.8,194.4 L143.2,208.7 L135.1,215.1 L119.3,213.4 L109.7,204.0Z" fill="#22b2b8"/><path d="M144.7,213.0 L154.9,209.0 L157.5,213.0 L147.0,217.9Z" fill="#22b2b8"/><path d="M63.8,231.2 L83.0,234.4 L86.2,226.2 L94.1,223.0 L92.6,237.6 L83.0,244.0 L63.8,245.5Z" fill="#0d3796"/><path d="M100.5,213.0 L106.0,211.9 L108.0,223.0 L102.0,222.0Z" fill="#0d3796"/><path d="M125.7,226.2 L136.8,223.0 L152.6,223.0 L147.9,232.7 L149.4,240.8 L140.0,237.6 L125.7,235.9Z" fill="#0d3796"/><path d="M94.1,244.0 L103.7,232.7 L115.0,235.9 L125.1,239.9 L122.1,255.1 L115.0,259.8 L102.2,255.1 L95.8,251.9Z" fill="#22b2b8"/><path d="M102.0,239.9 L112.0,239.9 L112.0,249.9 L102.0,249.9Z" fill="#5cbd98"/><path d="M44.6,280.7 L59.1,269.4 L74.9,259.8 L86.2,263.0 L94.1,275.8 L94.1,295.0 L83.0,301.4 L71.7,298.2 L59.1,296.5 L49.5,291.8Z" fill="#22b2b8"/><path d="M55.0,299.1 L70.0,299.9 L84.9,304.0 L70.0,306.1 L56.1,302.9Z" fill="#2079c4"/><path d="M131.9,263.0 L138.3,255.1 L151.1,259.8 L157.5,275.8 L154.3,291.8 L140.0,295.0 L128.7,288.6 L131.9,275.8Z" fill="#22b2b8"/><path d="M95.8,282.2 L115.0,280.1 L124.0,283.0 L122.1,296.9 L100.1,298.2Z" fill="#22b2b8"/><path d="M100.1,286.0 L112.0,285.0 L112.0,292.0 L100.1,292.0Z" fill="#5cbd98"/><path d="M42.0,245.0 L46.0,244.0 L46.0,270.0 L42.0,270.0Z" fill="#22b2b8"/><path d="M162.0,222.0 L172.0,228.0 L169.9,236.1 L163.9,232.0Z" fill="#22b2b8"/><path d="M160.1,292.0 L166.0,288.0 L163.9,296.1Z" fill="#0d3796"/><path d="M108.6,189.9 C108.1,192.8 106.1,200.6 105.4,207.0 C104.7,213.4 103.6,222.0 104.3,228.4 C105.1,234.8 108.1,239.4 109.7,245.5 C111.3,251.5 113.2,261.5 114.0,264.7" fill="none" stroke="#5eb93a" stroke-width="1.3"/><path d="M108.6,192.0 C109.4,192.0 109.8,189.4 111.0,188.5 C112.2,187.6 113.6,187.0 116.0,186.5 C118.4,186.0 122.8,185.4 125.6,185.6 C128.4,185.8 130.6,186.6 133.0,187.5 C135.4,188.4 137.2,189.4 140.0,191.2 C142.8,193.0 146.6,195.9 150.0,198.5 C153.4,201.1 158.0,203.9 160.7,206.5 C163.4,209.1 164.4,211.2 166.0,214.0 C167.6,216.8 168.5,218.1 170.3,223.1 C172.1,228.1 175.4,237.2 176.7,243.9 C178.0,250.6 178.3,257.2 178.3,263.1 C178.3,269.0 177.8,273.7 176.7,279.0 C175.6,284.3 174.0,290.5 171.9,295.0 C169.8,299.5 167.4,303.3 163.9,306.2 C160.4,309.1 155.9,311.5 151.1,312.6 C146.3,313.7 139.3,313.4 135.1,312.6 C130.8,311.8 128.0,309.7 125.6,307.8 C123.2,305.9 123.6,303.2 120.8,301.4 C118.0,299.6 112.8,296.7 108.6,297.0 C104.4,297.3 98.7,301.2 95.7,303.0 C92.8,304.8 93.0,306.5 90.9,307.8 C88.8,309.1 86.4,310.5 82.9,311.0 C79.4,311.5 74.6,311.8 70.1,311.0 C65.6,310.2 59.8,308.9 55.8,306.2 C51.8,303.5 48.6,299.5 46.2,295.0 C43.8,290.5 42.5,284.9 41.4,279.0 C40.3,273.1 39.8,265.8 39.8,259.9 C39.8,254.0 40.8,248.7 41.4,243.9 C42.0,239.1 42.5,235.0 43.5,231.1 C44.5,227.2 45.9,224.0 47.3,220.7 C48.7,217.4 50.4,213.9 52.0,211.2 C53.6,208.5 54.9,206.6 56.8,204.6 C58.7,202.6 60.8,201.0 63.5,198.9 C66.2,196.8 69.8,194.2 73.0,192.2 C76.2,190.2 79.2,188.1 82.4,187.0 C85.6,185.9 88.9,185.7 92.0,185.6 C95.1,185.5 98.7,185.7 101.0,186.2 C103.3,186.7 104.7,187.5 106.0,188.5 C107.3,189.5 107.8,192.0 108.6,192.0Z" fill="none" stroke="#5eb93a" stroke-width="5.6"/><path d="M46.2,295.0 C45.4,292.3 42.5,284.9 41.4,279.0 C40.3,273.1 39.8,265.8 39.8,259.9 C39.8,254.0 40.8,248.7 41.4,243.9 C42.0,239.1 42.5,235.0 43.5,231.1 C44.5,227.2 46.7,222.4 47.3,220.7" fill="none" stroke="#e2dc26" stroke-width="4.76" stroke-linecap="round"/><path d="M125.6,185.6 C126.8,185.9 130.6,186.6 133.0,187.5 C135.4,188.4 137.2,189.4 140.0,191.2 C142.8,193.0 146.6,195.9 150.0,198.5 C153.4,201.1 158.0,203.9 160.7,206.5 C163.4,209.1 165.1,212.8 166.0,214.0" fill="none" stroke="#e0241e" stroke-width="4.76" stroke-linecap="round"/><path d="M108.6,192.0 C109.4,192.0 109.8,189.4 111.0,188.5 C112.2,187.6 113.6,187.0 116.0,186.5 C118.4,186.0 122.8,185.4 125.6,185.6 C128.4,185.8 130.6,186.6 133.0,187.5 C135.4,188.4 137.2,189.4 140.0,191.2 C142.8,193.0 146.6,195.9 150.0,198.5 C153.4,201.1 158.0,203.9 160.7,206.5 C163.4,209.1 164.4,211.2 166.0,214.0 C167.6,216.8 168.5,218.1 170.3,223.1 C172.1,228.1 175.4,237.2 176.7,243.9 C178.0,250.6 178.3,257.2 178.3,263.1 C178.3,269.0 177.8,273.7 176.7,279.0 C175.6,284.3 174.0,290.5 171.9,295.0 C169.8,299.5 167.4,303.3 163.9,306.2 C160.4,309.1 155.9,311.5 151.1,312.6 C146.3,313.7 139.3,313.4 135.1,312.6 C130.8,311.8 128.0,309.7 125.6,307.8 C123.2,305.9 123.6,303.2 120.8,301.4 C118.0,299.6 112.8,296.7 108.6,297.0 C104.4,297.3 98.7,301.2 95.7,303.0 C92.8,304.8 93.0,306.5 90.9,307.8 C88.8,309.1 86.4,310.5 82.9,311.0 C79.4,311.5 74.6,311.8 70.1,311.0 C65.6,310.2 59.8,308.9 55.8,306.2 C51.8,303.5 48.6,299.5 46.2,295.0 C43.8,290.5 42.5,284.9 41.4,279.0 C40.3,273.1 39.8,265.8 39.8,259.9 C39.8,254.0 40.8,248.7 41.4,243.9 C42.0,239.1 42.5,235.0 43.5,231.1 C44.5,227.2 45.9,224.0 47.3,220.7 C48.7,217.4 50.4,213.9 52.0,211.2 C53.6,208.5 54.9,206.6 56.8,204.6 C58.7,202.6 60.8,201.0 63.5,198.9 C66.2,196.8 69.8,194.2 73.0,192.2 C76.2,190.2 79.2,188.1 82.4,187.0 C85.6,185.9 88.9,185.7 92.0,185.6 C95.1,185.5 98.7,185.7 101.0,186.2 C103.3,186.7 104.7,187.5 106.0,188.5 C107.3,189.5 107.8,192.0 108.6,192.0Z" fill="none" stroke="#22b2b8" stroke-width="2.0"/></g><path d="M95.7,298.5 C96.5,296.8 99.8,296.1 102.0,295.5 C104.2,294.9 106.4,295.0 108.6,295.0 C110.8,295.0 112.8,294.8 115.0,295.5 C117.2,296.2 120.7,297.2 121.5,299.0 C122.3,300.8 121.2,303.8 120.0,306.0 C118.8,308.2 115.9,311.1 114.0,312.5 C112.1,313.9 110.4,314.5 108.6,314.5 C106.8,314.5 104.8,313.9 103.0,312.5 C101.2,311.1 98.7,308.3 97.5,306.0 C96.3,303.7 95.0,300.2 95.7,298.5Z" fill="#0d3796"/></g><g transform="translate(166,0)"><clipPath id="kc6"><path d="M108.6,192.0 C109.4,192.0 109.8,189.4 111.0,188.5 C112.2,187.6 113.6,187.0 116.0,186.5 C118.4,186.0 122.8,185.4 125.6,185.6 C128.4,185.8 130.6,186.6 133.0,187.5 C135.4,188.4 137.2,189.4 140.0,191.2 C142.8,193.0 146.6,195.9 150.0,198.5 C153.4,201.1 158.0,203.9 160.7,206.5 C163.4,209.1 164.4,211.2 166.0,214.0 C167.6,216.8 168.5,218.1 170.3,223.1 C172.1,228.1 175.4,237.2 176.7,243.9 C178.0,250.6 178.3,257.2 178.3,263.1 C178.3,269.0 177.8,273.7 176.7,279.0 C175.6,284.3 174.0,290.5 171.9,295.0 C169.8,299.5 167.4,303.3 163.9,306.2 C160.4,309.1 155.9,311.5 151.1,312.6 C146.3,313.7 139.3,313.4 135.1,312.6 C130.8,311.8 128.0,309.7 125.6,307.8 C123.2,305.9 123.6,303.2 120.8,301.4 C118.0,299.6 112.8,296.7 108.6,297.0 C104.4,297.3 98.7,301.2 95.7,303.0 C92.8,304.8 93.0,306.5 90.9,307.8 C88.8,309.1 86.4,310.5 82.9,311.0 C79.4,311.5 74.6,311.8 70.1,311.0 C65.6,310.2 59.8,308.9 55.8,306.2 C51.8,303.5 48.6,299.5 46.2,295.0 C43.8,290.5 42.5,284.9 41.4,279.0 C40.3,273.1 39.8,265.8 39.8,259.9 C39.8,254.0 40.8,248.7 41.4,243.9 C42.0,239.1 42.5,235.0 43.5,231.1 C44.5,227.2 45.9,224.0 47.3,220.7 C48.7,217.4 50.4,213.9 52.0,211.2 C53.6,208.5 54.9,206.6 56.8,204.6 C58.7,202.6 60.8,201.0 63.5,198.9 C66.2,196.8 69.8,194.2 73.0,192.2 C76.2,190.2 79.2,188.1 82.4,187.0 C85.6,185.9 88.9,185.7 92.0,185.6 C95.1,185.5 98.7,185.7 101.0,186.2 C103.3,186.7 104.7,187.5 106.0,188.5 C107.3,189.5 107.8,192.0 108.6,192.0Z"/></clipPath><g clip-path="url(#kc6)"><path d="M108.6,192.0 C109.4,192.0 109.8,189.4 111.0,188.5 C112.2,187.6 113.6,187.0 116.0,186.5 C118.4,186.0 122.8,185.4 125.6,185.6 C128.4,185.8 130.6,186.6 133.0,187.5 C135.4,188.4 137.2,189.4 140.0,191.2 C142.8,193.0 146.6,195.9 150.0,198.5 C153.4,201.1 158.0,203.9 160.7,206.5 C163.4,209.1 164.4,211.2 166.0,214.0 C167.6,216.8 168.5,218.1 170.3,223.1 C172.1,228.1 175.4,237.2 176.7,243.9 C178.0,250.6 178.3,257.2 178.3,263.1 C178.3,269.0 177.8,273.7 176.7,279.0 C175.6,284.3 174.0,290.5 171.9,295.0 C169.8,299.5 167.4,303.3 163.9,306.2 C160.4,309.1 155.9,311.5 151.1,312.6 C146.3,313.7 139.3,313.4 135.1,312.6 C130.8,311.8 128.0,309.7 125.6,307.8 C123.2,305.9 123.6,303.2 120.8,301.4 C118.0,299.6 112.8,296.7 108.6,297.0 C104.4,297.3 98.7,301.2 95.7,303.0 C92.8,304.8 93.0,306.5 90.9,307.8 C88.8,309.1 86.4,310.5 82.9,311.0 C79.4,311.5 74.6,311.8 70.1,311.0 C65.6,310.2 59.8,308.9 55.8,306.2 C51.8,303.5 48.6,299.5 46.2,295.0 C43.8,290.5 42.5,284.9 41.4,279.0 C40.3,273.1 39.8,265.8 39.8,259.9 C39.8,254.0 40.8,248.7 41.4,243.9 C42.0,239.1 42.5,235.0 43.5,231.1 C44.5,227.2 45.9,224.0 47.3,220.7 C48.7,217.4 50.4,213.9 52.0,211.2 C53.6,208.5 54.9,206.6 56.8,204.6 C58.7,202.6 60.8,201.0 63.5,198.9 C66.2,196.8 69.8,194.2 73.0,192.2 C76.2,190.2 79.2,188.1 82.4,187.0 C85.6,185.9 88.9,185.7 92.0,185.6 C95.1,185.5 98.7,185.7 101.0,186.2 C103.3,186.7 104.7,187.5 106.0,188.5 C107.3,189.5 107.8,192.0 108.6,192.0Z" fill="#2079c4"/><path d="M70.7,218.3 L86.7,208.7 L104.2,200.8 L107.4,200.8 L107.4,232.7 L94.8,235.9 L82.0,242.3 L66.0,250.4 L43.6,263.0 L50.0,256.6 L59.6,240.8 L66.0,228.0Z" fill="#0d3796"/><path d="M41.0,266.6 L107.4,266.6 L107.4,279.0 L94.8,283.9 L82.0,288.6 L66.0,295.0 L53.2,298.2 L46.8,288.6 L41.0,275.8Z" fill="#0d3796"/><path d="M108.5,199.1 L118.1,195.9 L133.9,200.8 L146.7,208.7 L156.3,211.9 L158.0,228.0 L154.8,240.8 L156.3,255.1 L146.7,269.4 L133.9,274.3 L108.5,275.8Z" fill="#0d3796"/><path d="M132.4,223.9 L149.9,217.1 L159.1,211.1 L159.9,232.0 L137.1,231.2Z" fill="#2079c4"/><path d="M154.8,256.6 L169.1,247.2 L172.3,275.8 L169.1,295.0 L149.9,301.4 L133.9,291.8 L149.9,279.0Z" fill="#22b2b8"/><path d="M102.1,242.0 L110.0,239.9 L110.0,249.9 L104.0,251.0Z" fill="#22b2b8"/><path d="M112.1,244.0 L117.0,244.0 L115.9,249.1 L112.1,249.1Z" fill="#5cbd98"/><path d="M55.9,204.9 L61.9,210.0 L60.0,211.9 L54.0,207.0Z" fill="#22b2b8"/><path d="M108.7,188.9 C108.6,191.9 108.4,200.4 108.3,207.0 C108.1,213.6 107.5,223.0 107.6,228.4 C107.7,233.7 108.5,237.3 108.7,239.1" fill="none" stroke="#e2dc26" stroke-width="1.6"/><path d="M108.6,192.0 C109.4,192.0 109.8,189.4 111.0,188.5 C112.2,187.6 113.6,187.0 116.0,186.5 C118.4,186.0 122.8,185.4 125.6,185.6 C128.4,185.8 130.6,186.6 133.0,187.5 C135.4,188.4 137.2,189.4 140.0,191.2 C142.8,193.0 146.6,195.9 150.0,198.5 C153.4,201.1 158.0,203.9 160.7,206.5 C163.4,209.1 164.4,211.2 166.0,214.0 C167.6,216.8 168.5,218.1 170.3,223.1 C172.1,228.1 175.4,237.2 176.7,243.9 C178.0,250.6 178.3,257.2 178.3,263.1 C178.3,269.0 177.8,273.7 176.7,279.0 C175.6,284.3 174.0,290.5 171.9,295.0 C169.8,299.5 167.4,303.3 163.9,306.2 C160.4,309.1 155.9,311.5 151.1,312.6 C146.3,313.7 139.3,313.4 135.1,312.6 C130.8,311.8 128.0,309.7 125.6,307.8 C123.2,305.9 123.6,303.2 120.8,301.4 C118.0,299.6 112.8,296.7 108.6,297.0 C104.4,297.3 98.7,301.2 95.7,303.0 C92.8,304.8 93.0,306.5 90.9,307.8 C88.8,309.1 86.4,310.5 82.9,311.0 C79.4,311.5 74.6,311.8 70.1,311.0 C65.6,310.2 59.8,308.9 55.8,306.2 C51.8,303.5 48.6,299.5 46.2,295.0 C43.8,290.5 42.5,284.9 41.4,279.0 C40.3,273.1 39.8,265.8 39.8,259.9 C39.8,254.0 40.8,248.7 41.4,243.9 C42.0,239.1 42.5,235.0 43.5,231.1 C44.5,227.2 45.9,224.0 47.3,220.7 C48.7,217.4 50.4,213.9 52.0,211.2 C53.6,208.5 54.9,206.6 56.8,204.6 C58.7,202.6 60.8,201.0 63.5,198.9 C66.2,196.8 69.8,194.2 73.0,192.2 C76.2,190.2 79.2,188.1 82.4,187.0 C85.6,185.9 88.9,185.7 92.0,185.6 C95.1,185.5 98.7,185.7 101.0,186.2 C103.3,186.7 104.7,187.5 106.0,188.5 C107.3,189.5 107.8,192.0 108.6,192.0Z" fill="none" stroke="#e0241e" stroke-width="5.6"/><path d="M108.6,192.0 C109.4,192.0 109.8,189.4 111.0,188.5 C112.2,187.6 113.6,187.0 116.0,186.5 C118.4,186.0 122.8,185.4 125.6,185.6 C128.4,185.8 130.6,186.6 133.0,187.5 C135.4,188.4 137.2,189.4 140.0,191.2 C142.8,193.0 146.6,195.9 150.0,198.5 C153.4,201.1 158.0,203.9 160.7,206.5 C163.4,209.1 164.4,211.2 166.0,214.0 C167.6,216.8 168.5,218.1 170.3,223.1 C172.1,228.1 175.4,237.2 176.7,243.9 C178.0,250.6 178.3,257.2 178.3,263.1 C178.3,269.0 177.8,273.7 176.7,279.0 C175.6,284.3 174.0,290.5 171.9,295.0 C169.8,299.5 167.4,303.3 163.9,306.2 C160.4,309.1 155.9,311.5 151.1,312.6 C146.3,313.7 139.3,313.4 135.1,312.6 C130.8,311.8 128.0,309.7 125.6,307.8 C123.2,305.9 123.6,303.2 120.8,301.4 C118.0,299.6 112.8,296.7 108.6,297.0 C104.4,297.3 98.7,301.2 95.7,303.0 C92.8,304.8 93.0,306.5 90.9,307.8 C88.8,309.1 86.4,310.5 82.9,311.0 C79.4,311.5 74.6,311.8 70.1,311.0 C65.6,310.2 59.8,308.9 55.8,306.2 C51.8,303.5 48.6,299.5 46.2,295.0 C43.8,290.5 42.5,284.9 41.4,279.0 C40.3,273.1 39.8,265.8 39.8,259.9 C39.8,254.0 40.8,248.7 41.4,243.9 C42.0,239.1 42.5,235.0 43.5,231.1 C44.5,227.2 45.9,224.0 47.3,220.7 C48.7,217.4 50.4,213.9 52.0,211.2 C53.6,208.5 54.9,206.6 56.8,204.6 C58.7,202.6 60.8,201.0 63.5,198.9 C66.2,196.8 69.8,194.2 73.0,192.2 C76.2,190.2 79.2,188.1 82.4,187.0 C85.6,185.9 88.9,185.7 92.0,185.6 C95.1,185.5 98.7,185.7 101.0,186.2 C103.3,186.7 104.7,187.5 106.0,188.5 C107.3,189.5 107.8,192.0 108.6,192.0Z" fill="none" stroke="#5eb93a" stroke-width="2.0"/></g><path d="M95.7,298.5 C96.5,296.8 99.8,296.1 102.0,295.5 C104.2,294.9 106.4,295.0 108.6,295.0 C110.8,295.0 112.8,294.8 115.0,295.5 C117.2,296.2 120.7,297.2 121.5,299.0 C122.3,300.8 121.2,303.8 120.0,306.0 C118.8,308.2 115.9,311.1 114.0,312.5 C112.1,313.9 110.4,314.5 108.6,314.5 C106.8,314.5 104.8,313.9 103.0,312.5 C101.2,311.1 98.7,308.3 97.5,306.0 C96.3,303.7 95.0,300.2 95.7,298.5Z" fill="#0d3796"/></g><g transform="translate(350,0)"><clipPath id="kc7"><path d="M108.6,192.0 C109.4,192.0 109.8,189.4 111.0,188.5 C112.2,187.6 113.6,187.0 116.0,186.5 C118.4,186.0 122.8,185.4 125.6,185.6 C128.4,185.8 130.6,186.6 133.0,187.5 C135.4,188.4 137.2,189.4 140.0,191.2 C142.8,193.0 146.6,195.9 150.0,198.5 C153.4,201.1 158.0,203.9 160.7,206.5 C163.4,209.1 164.4,211.2 166.0,214.0 C167.6,216.8 168.5,218.1 170.3,223.1 C172.1,228.1 175.4,237.2 176.7,243.9 C178.0,250.6 178.3,257.2 178.3,263.1 C178.3,269.0 177.8,273.7 176.7,279.0 C175.6,284.3 174.0,290.5 171.9,295.0 C169.8,299.5 167.4,303.3 163.9,306.2 C160.4,309.1 155.9,311.5 151.1,312.6 C146.3,313.7 139.3,313.4 135.1,312.6 C130.8,311.8 128.0,309.7 125.6,307.8 C123.2,305.9 123.6,303.2 120.8,301.4 C118.0,299.6 112.8,296.7 108.6,297.0 C104.4,297.3 98.7,301.2 95.7,303.0 C92.8,304.8 93.0,306.5 90.9,307.8 C88.8,309.1 86.4,310.5 82.9,311.0 C79.4,311.5 74.6,311.8 70.1,311.0 C65.6,310.2 59.8,308.9 55.8,306.2 C51.8,303.5 48.6,299.5 46.2,295.0 C43.8,290.5 42.5,284.9 41.4,279.0 C40.3,273.1 39.8,265.8 39.8,259.9 C39.8,254.0 40.8,248.7 41.4,243.9 C42.0,239.1 42.5,235.0 43.5,231.1 C44.5,227.2 45.9,224.0 47.3,220.7 C48.7,217.4 50.4,213.9 52.0,211.2 C53.6,208.5 54.9,206.6 56.8,204.6 C58.7,202.6 60.8,201.0 63.5,198.9 C66.2,196.8 69.8,194.2 73.0,192.2 C76.2,190.2 79.2,188.1 82.4,187.0 C85.6,185.9 88.9,185.7 92.0,185.6 C95.1,185.5 98.7,185.7 101.0,186.2 C103.3,186.7 104.7,187.5 106.0,188.5 C107.3,189.5 107.8,192.0 108.6,192.0Z"/></clipPath><g clip-path="url(#kc7)"><path d="M108.6,192.0 C109.4,192.0 109.8,189.4 111.0,188.5 C112.2,187.6 113.6,187.0 116.0,186.5 C118.4,186.0 122.8,185.4 125.6,185.6 C128.4,185.8 130.6,186.6 133.0,187.5 C135.4,188.4 137.2,189.4 140.0,191.2 C142.8,193.0 146.6,195.9 150.0,198.5 C153.4,201.1 158.0,203.9 160.7,206.5 C163.4,209.1 164.4,211.2 166.0,214.0 C167.6,216.8 168.5,218.1 170.3,223.1 C172.1,228.1 175.4,237.2 176.7,243.9 C178.0,250.6 178.3,257.2 178.3,263.1 C178.3,269.0 177.8,273.7 176.7,279.0 C175.6,284.3 174.0,290.5 171.9,295.0 C169.8,299.5 167.4,303.3 163.9,306.2 C160.4,309.1 155.9,311.5 151.1,312.6 C146.3,313.7 139.3,313.4 135.1,312.6 C130.8,311.8 128.0,309.7 125.6,307.8 C123.2,305.9 123.6,303.2 120.8,301.4 C118.0,299.6 112.8,296.7 108.6,297.0 C104.4,297.3 98.7,301.2 95.7,303.0 C92.8,304.8 93.0,306.5 90.9,307.8 C88.8,309.1 86.4,310.5 82.9,311.0 C79.4,311.5 74.6,311.8 70.1,311.0 C65.6,310.2 59.8,308.9 55.8,306.2 C51.8,303.5 48.6,299.5 46.2,295.0 C43.8,290.5 42.5,284.9 41.4,279.0 C40.3,273.1 39.8,265.8 39.8,259.9 C39.8,254.0 40.8,248.7 41.4,243.9 C42.0,239.1 42.5,235.0 43.5,231.1 C44.5,227.2 45.9,224.0 47.3,220.7 C48.7,217.4 50.4,213.9 52.0,211.2 C53.6,208.5 54.9,206.6 56.8,204.6 C58.7,202.6 60.8,201.0 63.5,198.9 C66.2,196.8 69.8,194.2 73.0,192.2 C76.2,190.2 79.2,188.1 82.4,187.0 C85.6,185.9 88.9,185.7 92.0,185.6 C95.1,185.5 98.7,185.7 101.0,186.2 C103.3,186.7 104.7,187.5 106.0,188.5 C107.3,189.5 107.8,192.0 108.6,192.0Z" fill="#5cbd98"/><path d="M45.0,204.9 L80.0,200.0 L100.1,230.1 L97.9,261.9 L70.0,268.1 L48.0,261.9 L42.0,230.1Z" fill="#22b2b8"/><path d="M112.0,232.0 L135.1,214.9 L160.1,217.9 L172.0,239.9 L172.0,268.1 L150.0,268.1 L130.0,255.1 L112.0,252.1Z" fill="#22b2b8"/><path d="M54.2,216.6 L74.9,208.7 L87.7,219.8 L94.1,235.9 L90.9,251.9 L74.9,259.8 L55.9,259.8 L49.5,247.2 L51.0,228.0Z" fill="#2079c4"/><path d="M60.6,228.0 L67.0,219.8 L78.1,223.0 L65.3,232.7Z" fill="#0d3796"/><path d="M87.7,194.4 L103.7,192.7 L106.9,208.7 L95.8,211.9 L86.2,202.3Z" fill="#5eb93a"/><path d="M97.1,195.9 L102.0,195.9 L102.0,203.0 L97.1,203.0Z" fill="#96c63a"/><path d="M112.9,192.7 L131.9,192.7 L141.5,204.0 L136.8,211.9 L116.1,211.9Z" fill="#5eb93a"/><path d="M114.0,192.9 L119.9,192.9 L119.9,198.1 L114.0,198.1Z" fill="#96c63a"/><path d="M116.1,235.9 L136.8,221.5 L155.8,224.8 L163.9,235.9 L167.1,259.8 L155.8,261.5 L140.0,247.2 L119.3,247.2Z" fill="#2079c4"/><path d="M136.8,232.7 L147.9,229.4 L157.5,232.7 L157.5,244.0 L147.9,239.1 L136.8,235.9Z" fill="#0d3796"/><path d="M51.0,275.8 L74.9,272.6 L87.7,285.4 L86.2,304.6 L67.0,306.1 L49.5,291.8Z" fill="#5eb93a"/><path d="M74.0,282.0 L84.9,288.0 L83.0,299.9 L72.1,296.1Z" fill="#96c63a"/><path d="M112.9,266.2 L131.9,261.5 L151.1,275.8 L152.6,295.0 L136.8,299.7 L119.3,295.0 L112.9,279.0Z" fill="#5eb93a"/><path d="M121.0,271.1 L140.0,270.0 L141.9,290.1 L124.0,290.1Z" fill="#96c63a"/><path d="M96.0,261.9 L115.0,261.9 L115.0,285.0 L97.9,285.0Z" fill="#22b2b8"/><path d="M100.1,271.1 L108.0,271.1 L108.0,277.9 L100.1,277.9Z" fill="#2079c4"/><path d="M83.0,290.1 L96.0,286.0 L102.0,296.1 L90.0,299.9Z" fill="#e2dc26"/><path d="M90.0,295.0 L100.1,293.1 L102.0,299.1 L93.0,301.0Z" fill="#f08a1e"/><path d="M153.0,209.0 L159.0,204.0 L160.1,208.1 L154.1,213.0Z" fill="#e2dc26"/><path d="M102.0,220.1 L110.1,214.9 L110.1,230.1 L102.0,232.0Z" fill="#5eb93a"/><path d="M109.7,189.5 C110.7,191.9 115.0,198.5 116.1,203.8 C117.2,209.2 117.2,216.5 116.1,221.5 C115.0,226.6 111.6,231.2 109.7,234.4 C107.8,237.6 105.6,239.7 104.8,240.8" fill="none" stroke="#e0241e" stroke-width="1.8"/><path d="M108.6,192.0 C109.4,192.0 109.8,189.4 111.0,188.5 C112.2,187.6 113.6,187.0 116.0,186.5 C118.4,186.0 122.8,185.4 125.6,185.6 C128.4,185.8 130.6,186.6 133.0,187.5 C135.4,188.4 137.2,189.4 140.0,191.2 C142.8,193.0 146.6,195.9 150.0,198.5 C153.4,201.1 158.0,203.9 160.7,206.5 C163.4,209.1 164.4,211.2 166.0,214.0 C167.6,216.8 168.5,218.1 170.3,223.1 C172.1,228.1 175.4,237.2 176.7,243.9 C178.0,250.6 178.3,257.2 178.3,263.1 C178.3,269.0 177.8,273.7 176.7,279.0 C175.6,284.3 174.0,290.5 171.9,295.0 C169.8,299.5 167.4,303.3 163.9,306.2 C160.4,309.1 155.9,311.5 151.1,312.6 C146.3,313.7 139.3,313.4 135.1,312.6 C130.8,311.8 128.0,309.7 125.6,307.8 C123.2,305.9 123.6,303.2 120.8,301.4 C118.0,299.6 112.8,296.7 108.6,297.0 C104.4,297.3 98.7,301.2 95.7,303.0 C92.8,304.8 93.0,306.5 90.9,307.8 C88.8,309.1 86.4,310.5 82.9,311.0 C79.4,311.5 74.6,311.8 70.1,311.0 C65.6,310.2 59.8,308.9 55.8,306.2 C51.8,303.5 48.6,299.5 46.2,295.0 C43.8,290.5 42.5,284.9 41.4,279.0 C40.3,273.1 39.8,265.8 39.8,259.9 C39.8,254.0 40.8,248.7 41.4,243.9 C42.0,239.1 42.5,235.0 43.5,231.1 C44.5,227.2 45.9,224.0 47.3,220.7 C48.7,217.4 50.4,213.9 52.0,211.2 C53.6,208.5 54.9,206.6 56.8,204.6 C58.7,202.6 60.8,201.0 63.5,198.9 C66.2,196.8 69.8,194.2 73.0,192.2 C76.2,190.2 79.2,188.1 82.4,187.0 C85.6,185.9 88.9,185.7 92.0,185.6 C95.1,185.5 98.7,185.7 101.0,186.2 C103.3,186.7 104.7,187.5 106.0,188.5 C107.3,189.5 107.8,192.0 108.6,192.0Z" fill="none" stroke="#e0241e" stroke-width="7.2"/></g><path d="M95.7,298.5 C96.5,296.8 99.8,296.1 102.0,295.5 C104.2,294.9 106.4,295.0 108.6,295.0 C110.8,295.0 112.8,294.8 115.0,295.5 C117.2,296.2 120.7,297.2 121.5,299.0 C122.3,300.8 121.2,303.8 120.0,306.0 C118.8,308.2 115.9,311.1 114.0,312.5 C112.1,313.9 110.4,314.5 108.6,314.5 C106.8,314.5 104.8,313.9 103.0,312.5 C101.2,311.1 98.7,308.3 97.5,306.0 C96.3,303.7 95.0,300.2 95.7,298.5Z" fill="#0d3796"/></g><g transform="translate(521,-2)"><clipPath id="kc8"><path d="M108.6,192.0 C109.4,192.0 109.8,189.4 111.0,188.5 C112.2,187.6 113.6,187.0 116.0,186.5 C118.4,186.0 122.8,185.4 125.6,185.6 C128.4,185.8 130.6,186.6 133.0,187.5 C135.4,188.4 137.2,189.4 140.0,191.2 C142.8,193.0 146.6,195.9 150.0,198.5 C153.4,201.1 158.0,203.9 160.7,206.5 C163.4,209.1 164.4,211.2 166.0,214.0 C167.6,216.8 168.5,218.1 170.3,223.1 C172.1,228.1 175.4,237.2 176.7,243.9 C178.0,250.6 178.3,257.2 178.3,263.1 C178.3,269.0 177.8,273.7 176.7,279.0 C175.6,284.3 174.0,290.5 171.9,295.0 C169.8,299.5 167.4,303.3 163.9,306.2 C160.4,309.1 155.9,311.5 151.1,312.6 C146.3,313.7 139.3,313.4 135.1,312.6 C130.8,311.8 128.0,309.7 125.6,307.8 C123.2,305.9 123.6,303.2 120.8,301.4 C118.0,299.6 112.8,296.7 108.6,297.0 C104.4,297.3 98.7,301.2 95.7,303.0 C92.8,304.8 93.0,306.5 90.9,307.8 C88.8,309.1 86.4,310.5 82.9,311.0 C79.4,311.5 74.6,311.8 70.1,311.0 C65.6,310.2 59.8,308.9 55.8,306.2 C51.8,303.5 48.6,299.5 46.2,295.0 C43.8,290.5 42.5,284.9 41.4,279.0 C40.3,273.1 39.8,265.8 39.8,259.9 C39.8,254.0 40.8,248.7 41.4,243.9 C42.0,239.1 42.5,235.0 43.5,231.1 C44.5,227.2 45.9,224.0 47.3,220.7 C48.7,217.4 50.4,213.9 52.0,211.2 C53.6,208.5 54.9,206.6 56.8,204.6 C58.7,202.6 60.8,201.0 63.5,198.9 C66.2,196.8 69.8,194.2 73.0,192.2 C76.2,190.2 79.2,188.1 82.4,187.0 C85.6,185.9 88.9,185.7 92.0,185.6 C95.1,185.5 98.7,185.7 101.0,186.2 C103.3,186.7 104.7,187.5 106.0,188.5 C107.3,189.5 107.8,192.0 108.6,192.0Z"/></clipPath><g clip-path="url(#kc8)"><path d="M108.6,192.0 C109.4,192.0 109.8,189.4 111.0,188.5 C112.2,187.6 113.6,187.0 116.0,186.5 C118.4,186.0 122.8,185.4 125.6,185.6 C128.4,185.8 130.6,186.6 133.0,187.5 C135.4,188.4 137.2,189.4 140.0,191.2 C142.8,193.0 146.6,195.9 150.0,198.5 C153.4,201.1 158.0,203.9 160.7,206.5 C163.4,209.1 164.4,211.2 166.0,214.0 C167.6,216.8 168.5,218.1 170.3,223.1 C172.1,228.1 175.4,237.2 176.7,243.9 C178.0,250.6 178.3,257.2 178.3,263.1 C178.3,269.0 177.8,273.7 176.7,279.0 C175.6,284.3 174.0,290.5 171.9,295.0 C169.8,299.5 167.4,303.3 163.9,306.2 C160.4,309.1 155.9,311.5 151.1,312.6 C146.3,313.7 139.3,313.4 135.1,312.6 C130.8,311.8 128.0,309.7 125.6,307.8 C123.2,305.9 123.6,303.2 120.8,301.4 C118.0,299.6 112.8,296.7 108.6,297.0 C104.4,297.3 98.7,301.2 95.7,303.0 C92.8,304.8 93.0,306.5 90.9,307.8 C88.8,309.1 86.4,310.5 82.9,311.0 C79.4,311.5 74.6,311.8 70.1,311.0 C65.6,310.2 59.8,308.9 55.8,306.2 C51.8,303.5 48.6,299.5 46.2,295.0 C43.8,290.5 42.5,284.9 41.4,279.0 C40.3,273.1 39.8,265.8 39.8,259.9 C39.8,254.0 40.8,248.7 41.4,243.9 C42.0,239.1 42.5,235.0 43.5,231.1 C44.5,227.2 45.9,224.0 47.3,220.7 C48.7,217.4 50.4,213.9 52.0,211.2 C53.6,208.5 54.9,206.6 56.8,204.6 C58.7,202.6 60.8,201.0 63.5,198.9 C66.2,196.8 69.8,194.2 73.0,192.2 C76.2,190.2 79.2,188.1 82.4,187.0 C85.6,185.9 88.9,185.7 92.0,185.6 C95.1,185.5 98.7,185.7 101.0,186.2 C103.3,186.7 104.7,187.5 106.0,188.5 C107.3,189.5 107.8,192.0 108.6,192.0Z" fill="#2079c4"/><path d="M46.9,232.7 L58.0,227.8 L77.2,218.2 L97.9,213.5 L104.3,203.9 L107.5,202.4 L109.0,202.0 L109.0,232.7 L89.8,232.7 L74.0,243.8 L69.1,254.9 L85.1,254.9 L97.9,248.7 L109.0,243.8 L109.0,269.5 L81.9,272.7 L62.7,275.9 L61.2,282.3 L50.1,282.3 L46.9,267.7 L43.9,250.0Z" fill="#0d3796"/><path d="M116.9,188.1 L136.1,194.3 L132.9,197.5 L116.9,192.8Z" fill="#0d3796"/><path d="M113.7,224.6 L120.1,216.7 L137.6,211.8 L153.6,221.4 L160.0,226.3 L161.8,247.0 L165.0,259.8 L148.9,259.8 L132.9,243.8 L113.7,239.1Z" fill="#0d3796"/><path d="M105.8,254.9 L116.9,263.0 L118.6,274.2 L109.0,272.7Z" fill="#0d3796"/><path d="M78.7,282.3 L86.6,279.1 L113.9,283.8 L125.0,275.9 L140.8,271.0 L144.0,280.6 L132.9,291.9 L125.0,295.1 L113.9,295.1 L81.9,301.5 L66.1,304.7 L58.0,298.3Z" fill="#22b2b8"/><path d="M93.0,197.1 L99.0,194.9 L99.0,200.9 L93.0,202.0Z" fill="#22b2b8"/><path d="M94.9,241.9 L110.9,240.0 L119.1,248.1 L104.1,251.9Z" fill="#22b2b8"/><path d="M100.9,243.0 L107.1,243.0 L106.0,248.1 L100.9,248.1Z" fill="#5cbd98"/><path d="M109.0,189.8 C109.1,193.0 109.4,202.6 109.4,209.0 C109.5,215.4 109.5,222.9 109.4,228.2 C109.4,233.6 109.1,238.9 109.0,241.1" fill="none" stroke="#e0241e" stroke-width="1.6"/><path d="M108.6,192.0 C109.4,192.0 109.8,189.4 111.0,188.5 C112.2,187.6 113.6,187.0 116.0,186.5 C118.4,186.0 122.8,185.4 125.6,185.6 C128.4,185.8 130.6,186.6 133.0,187.5 C135.4,188.4 137.2,189.4 140.0,191.2 C142.8,193.0 146.6,195.9 150.0,198.5 C153.4,201.1 158.0,203.9 160.7,206.5 C163.4,209.1 164.4,211.2 166.0,214.0 C167.6,216.8 168.5,218.1 170.3,223.1 C172.1,228.1 175.4,237.2 176.7,243.9 C178.0,250.6 178.3,257.2 178.3,263.1 C178.3,269.0 177.8,273.7 176.7,279.0 C175.6,284.3 174.0,290.5 171.9,295.0 C169.8,299.5 167.4,303.3 163.9,306.2 C160.4,309.1 155.9,311.5 151.1,312.6 C146.3,313.7 139.3,313.4 135.1,312.6 C130.8,311.8 128.0,309.7 125.6,307.8 C123.2,305.9 123.6,303.2 120.8,301.4 C118.0,299.6 112.8,296.7 108.6,297.0 C104.4,297.3 98.7,301.2 95.7,303.0 C92.8,304.8 93.0,306.5 90.9,307.8 C88.8,309.1 86.4,310.5 82.9,311.0 C79.4,311.5 74.6,311.8 70.1,311.0 C65.6,310.2 59.8,308.9 55.8,306.2 C51.8,303.5 48.6,299.5 46.2,295.0 C43.8,290.5 42.5,284.9 41.4,279.0 C40.3,273.1 39.8,265.8 39.8,259.9 C39.8,254.0 40.8,248.7 41.4,243.9 C42.0,239.1 42.5,235.0 43.5,231.1 C44.5,227.2 45.9,224.0 47.3,220.7 C48.7,217.4 50.4,213.9 52.0,211.2 C53.6,208.5 54.9,206.6 56.8,204.6 C58.7,202.6 60.8,201.0 63.5,198.9 C66.2,196.8 69.8,194.2 73.0,192.2 C76.2,190.2 79.2,188.1 82.4,187.0 C85.6,185.9 88.9,185.7 92.0,185.6 C95.1,185.5 98.7,185.7 101.0,186.2 C103.3,186.7 104.7,187.5 106.0,188.5 C107.3,189.5 107.8,192.0 108.6,192.0Z" fill="none" stroke="#5eb93a" stroke-width="5.6"/><path d="M63.5,198.9 C65.1,197.8 69.8,194.2 73.0,192.2 C76.2,190.2 79.2,188.1 82.4,187.0 C85.6,185.9 88.9,185.7 92.0,185.6 C95.1,185.5 98.7,185.7 101.0,186.2 C103.3,186.7 105.2,188.1 106.0,188.5" fill="none" stroke="#e0241e" stroke-width="4.76" stroke-linecap="round"/><path d="M108.6,192.0 C109.0,191.4 109.8,189.4 111.0,188.5 C112.2,187.6 113.6,187.0 116.0,186.5 C118.4,186.0 122.8,185.4 125.6,185.6 C128.4,185.8 130.6,186.6 133.0,187.5 C135.4,188.4 137.2,189.4 140.0,191.2 C142.8,193.0 148.3,197.3 150.0,198.5" fill="none" stroke="#e0241e" stroke-width="4.76" stroke-linecap="round"/><path d="M108.6,192.0 C109.4,192.0 109.8,189.4 111.0,188.5 C112.2,187.6 113.6,187.0 116.0,186.5 C118.4,186.0 122.8,185.4 125.6,185.6 C128.4,185.8 130.6,186.6 133.0,187.5 C135.4,188.4 137.2,189.4 140.0,191.2 C142.8,193.0 146.6,195.9 150.0,198.5 C153.4,201.1 158.0,203.9 160.7,206.5 C163.4,209.1 164.4,211.2 166.0,214.0 C167.6,216.8 168.5,218.1 170.3,223.1 C172.1,228.1 175.4,237.2 176.7,243.9 C178.0,250.6 178.3,257.2 178.3,263.1 C178.3,269.0 177.8,273.7 176.7,279.0 C175.6,284.3 174.0,290.5 171.9,295.0 C169.8,299.5 167.4,303.3 163.9,306.2 C160.4,309.1 155.9,311.5 151.1,312.6 C146.3,313.7 139.3,313.4 135.1,312.6 C130.8,311.8 128.0,309.7 125.6,307.8 C123.2,305.9 123.6,303.2 120.8,301.4 C118.0,299.6 112.8,296.7 108.6,297.0 C104.4,297.3 98.7,301.2 95.7,303.0 C92.8,304.8 93.0,306.5 90.9,307.8 C88.8,309.1 86.4,310.5 82.9,311.0 C79.4,311.5 74.6,311.8 70.1,311.0 C65.6,310.2 59.8,308.9 55.8,306.2 C51.8,303.5 48.6,299.5 46.2,295.0 C43.8,290.5 42.5,284.9 41.4,279.0 C40.3,273.1 39.8,265.8 39.8,259.9 C39.8,254.0 40.8,248.7 41.4,243.9 C42.0,239.1 42.5,235.0 43.5,231.1 C44.5,227.2 45.9,224.0 47.3,220.7 C48.7,217.4 50.4,213.9 52.0,211.2 C53.6,208.5 54.9,206.6 56.8,204.6 C58.7,202.6 60.8,201.0 63.5,198.9 C66.2,196.8 69.8,194.2 73.0,192.2 C76.2,190.2 79.2,188.1 82.4,187.0 C85.6,185.9 88.9,185.7 92.0,185.6 C95.1,185.5 98.7,185.7 101.0,186.2 C103.3,186.7 104.7,187.5 106.0,188.5 C107.3,189.5 107.8,192.0 108.6,192.0Z" fill="none" stroke="#22b2b8" stroke-width="2.0"/></g><path d="M95.7,298.5 C96.5,296.8 99.8,296.1 102.0,295.5 C104.2,294.9 106.4,295.0 108.6,295.0 C110.8,295.0 112.8,294.8 115.0,295.5 C117.2,296.2 120.7,297.2 121.5,299.0 C122.3,300.8 121.2,303.8 120.0,306.0 C118.8,308.2 115.9,311.1 114.0,312.5 C112.1,313.9 110.4,314.5 108.6,314.5 C106.8,314.5 104.8,313.9 103.0,312.5 C101.2,311.1 98.7,308.3 97.5,306.0 C96.3,303.7 95.0,300.2 95.7,298.5Z" fill="#0d3796"/></g><g transform="translate(0,392)"><clipPath id="sc9"><path d="M31.3,115.0 C30.5,120.1 31.9,122.5 32.5,126.0 C33.1,129.5 33.8,132.7 35.0,136.0 C36.2,139.3 37.8,142.8 39.5,146.0 C41.2,149.2 43.1,152.4 45.0,155.5 C46.9,158.6 48.4,161.7 51.1,164.8 C53.9,167.9 57.1,171.5 61.5,174.0 C65.8,176.5 72.4,178.8 77.2,179.8 C82.0,180.8 86.9,180.6 90.2,179.8 C93.5,179.0 95.3,176.8 96.8,175.2 C98.3,173.6 97.5,171.3 99.4,170.0 C101.4,168.7 105.7,168.9 108.5,167.4 C111.3,165.9 112.4,162.5 116.0,161.0 C119.6,159.5 125.3,159.5 130.2,158.5 C135.1,157.5 141.1,156.0 145.3,155.0 C149.5,154.0 152.4,154.0 155.4,152.4 C158.4,150.8 161.1,147.4 163.4,145.4 C165.8,143.4 166.6,142.3 169.5,140.3 C172.4,138.3 177.6,135.5 180.6,133.3 C183.6,131.1 186.1,130.8 187.6,127.2 C189.1,123.7 190.1,117.3 189.5,112.0 C188.9,106.7 186.9,101.2 184.3,95.4 C181.8,89.6 177.2,81.7 174.2,77.3 C171.2,72.9 170.9,72.4 166.2,69.2 C161.5,66.0 152.7,60.9 146.0,58.1 C139.3,55.4 132.5,53.8 125.8,52.7 C119.1,51.6 112.4,51.6 105.7,51.7 C99.0,51.8 91.2,52.4 85.5,53.1 C79.8,53.8 76.1,54.4 71.4,56.1 C66.7,57.8 61.7,59.6 57.3,63.1 C52.9,66.6 48.6,71.9 45.2,77.3 C41.8,82.7 39.4,89.1 37.1,95.4 C34.8,101.7 32.1,109.9 31.3,115.0Z"/></clipPath><clipPath id="cc9"><path d="M39.5,146.0 C40.5,143.6 47.0,143.4 51.1,141.3 C55.2,139.2 59.6,135.4 64.0,133.5 C68.3,131.6 73.5,129.8 77.2,129.6 C80.9,129.4 82.8,130.7 86.3,132.2 C89.8,133.7 94.1,136.3 98.0,138.7 C101.9,141.1 105.6,144.3 109.8,146.5 C114.0,148.7 121.5,149.5 122.9,151.8 C124.3,154.1 120.4,157.9 118.0,160.5 C115.6,163.1 111.6,165.8 108.5,167.4 C105.4,169.0 101.4,168.7 99.4,170.0 C97.5,171.3 98.3,173.6 96.8,175.2 C95.3,176.8 93.5,179.0 90.2,179.8 C86.9,180.6 82.0,180.8 77.2,179.8 C72.4,178.8 65.8,176.5 61.5,174.0 C57.1,171.5 53.9,167.9 51.1,164.8 C48.4,161.7 46.9,158.6 45.0,155.5 C43.1,152.4 38.5,148.4 39.5,146.0Z"/></clipPath><clipPath id="uc9"><path d="M122.9,151.8 L140.2,144.4 L150.3,142.3 L160.4,140.3 L174.5,134.3 L188.0,127.2 L180.6,133.3 L169.5,140.3 L163.4,145.4 L155.4,152.4 L145.3,155.0 L130.2,158.5 L118.0,160.5Z"/></clipPath><g clip-path="url(#sc9)"><path d="M31.3,115.0 C30.5,120.1 31.9,122.5 32.5,126.0 C33.1,129.5 33.8,132.7 35.0,136.0 C36.2,139.3 37.8,142.8 39.5,146.0 C41.2,149.2 43.1,152.4 45.0,155.5 C46.9,158.6 48.4,161.7 51.1,164.8 C53.9,167.9 57.1,171.5 61.5,174.0 C65.8,176.5 72.4,178.8 77.2,179.8 C82.0,180.8 86.9,180.6 90.2,179.8 C93.5,179.0 95.3,176.8 96.8,175.2 C98.3,173.6 97.5,171.3 99.4,170.0 C101.4,168.7 105.7,168.9 108.5,167.4 C111.3,165.9 112.4,162.5 116.0,161.0 C119.6,159.5 125.3,159.5 130.2,158.5 C135.1,157.5 141.1,156.0 145.3,155.0 C149.5,154.0 152.4,154.0 155.4,152.4 C158.4,150.8 161.1,147.4 163.4,145.4 C165.8,143.4 166.6,142.3 169.5,140.3 C172.4,138.3 177.6,135.5 180.6,133.3 C183.6,131.1 186.1,130.8 187.6,127.2 C189.1,123.7 190.1,117.3 189.5,112.0 C188.9,106.7 186.9,101.2 184.3,95.4 C181.8,89.6 177.2,81.7 174.2,77.3 C171.2,72.9 170.9,72.4 166.2,69.2 C161.5,66.0 152.7,60.9 146.0,58.1 C139.3,55.4 132.5,53.8 125.8,52.7 C119.1,51.6 112.4,51.6 105.7,51.7 C99.0,51.8 91.2,52.4 85.5,53.1 C79.8,53.8 76.1,54.4 71.4,56.1 C66.7,57.8 61.7,59.6 57.3,63.1 C52.9,66.6 48.6,71.9 45.2,77.3 C41.8,82.7 39.4,89.1 37.1,95.4 C34.8,101.7 32.1,109.9 31.3,115.0Z" fill="#2079c4"/><path d="M24.9,148.0 L24.9,48.0 L103.5,48.0 L103.5,60.4 L103.9,71.7 L106.3,80.1 L116.9,85.2 L128.3,93.1 L133.8,102.1 L116.9,103.1 L105.2,102.7 L89.6,107.4 L82.6,105.0 L82.6,100.1 L89.6,86.0 L87.3,78.8 L73.2,77.7 L61.2,87.1 L48.2,100.1 L39.9,116.8 L43.5,129.8 L45.0,148.0Z" fill="#0d3796"/><path d="M100.1,48.0 L169.9,63.0 L195.1,98.0 L195.1,148.0 L160.9,135.8 L156.2,133.7 L160.9,104.2 L163.1,93.1 L167.5,80.7 L127.0,61.5 L103.5,60.4Z" fill="#0d3796"/><path d="M104.6,106.5 L144.9,111.0" fill="none" stroke="#22b2b8" stroke-width="1.4" stroke-linecap="round"/><path d="M133.2,108.5 L146.0,109.5 L144.9,117.0 L136.4,119.1Z" fill="#22b2b8"/><path d="M73.4,129.8 L90.5,132.0 L109.7,138.4 L137.4,138.4 L158.8,138.4 L184.4,127.7 L182.3,132.0 L158.8,142.6 L131.0,144.8 L105.4,142.6 L84.1,136.2Z" fill="#22b2b8"/><path d="M122.9,151.8 L140.2,144.4 L150.3,142.3 L160.4,140.3 L174.5,134.3 L188.0,127.2 L180.6,133.3 L169.5,140.3 L163.4,145.4 L155.4,152.4 L145.3,155.0 L130.2,158.5 L118.0,160.5Z" fill="#2079c4"/><g clip-path="url(#uc9)"></g><path d="M39.5,146.0 C40.5,143.6 47.0,143.4 51.1,141.3 C55.2,139.2 59.6,135.4 64.0,133.5 C68.3,131.6 73.5,129.8 77.2,129.6 C80.9,129.4 82.8,130.7 86.3,132.2 C89.8,133.7 94.1,136.3 98.0,138.7 C101.9,141.1 105.6,144.3 109.8,146.5 C114.0,148.7 121.5,149.5 122.9,151.8 C124.3,154.1 120.4,157.9 118.0,160.5 C115.6,163.1 111.6,165.8 108.5,167.4 C105.4,169.0 101.4,168.7 99.4,170.0 C97.5,171.3 98.3,173.6 96.8,175.2 C95.3,176.8 93.5,179.0 90.2,179.8 C86.9,180.6 82.0,180.8 77.2,179.8 C72.4,178.8 65.8,176.5 61.5,174.0 C57.1,171.5 53.9,167.9 51.1,164.8 C48.4,161.7 46.9,158.6 45.0,155.5 C43.1,152.4 38.5,148.4 39.5,146.0Z" fill="#0d3796"/><g clip-path="url(#cc9)"></g><path d="M39.5,146.0 C38.8,144.3 36.2,139.3 35.0,136.0 C33.8,132.7 33.1,129.5 32.5,126.0 C31.9,122.5 30.5,120.1 31.3,115.0 C32.1,109.9 34.8,101.7 37.1,95.4 C39.4,89.1 41.8,82.7 45.2,77.3 C48.6,71.9 52.9,66.6 57.3,63.1 C61.7,59.6 66.7,57.8 71.4,56.1 C76.1,54.4 79.8,53.8 85.5,53.1 C91.2,52.4 99.0,51.8 105.7,51.7 C112.4,51.6 119.1,51.6 125.8,52.7 C132.5,53.8 139.3,55.4 146.0,58.1 C152.7,60.9 161.5,66.0 166.2,69.2 C170.9,72.4 171.2,72.9 174.2,77.3 C177.2,81.7 181.8,89.6 184.3,95.4 C186.9,101.2 188.9,106.7 189.5,112.0 C190.1,117.3 187.9,124.7 187.6,127.2" fill="none" stroke="#e0241e" stroke-width="5.2"/><path d="M39.5,146.0 C38.8,144.3 36.2,139.3 35.0,136.0 C33.8,132.7 33.1,129.5 32.5,126.0 C31.9,122.5 30.5,120.1 31.3,115.0 C32.1,109.9 34.8,101.7 37.1,95.4 C39.4,89.1 41.8,82.7 45.2,77.3 C48.6,71.9 52.9,66.6 57.3,63.1 C61.7,59.6 66.7,57.8 71.4,56.1 C76.1,54.4 79.8,53.8 85.5,53.1 C91.2,52.4 99.0,51.8 105.7,51.7 C112.4,51.6 119.1,51.6 125.8,52.7 C132.5,53.8 139.3,55.4 146.0,58.1 C152.7,60.9 161.5,66.0 166.2,69.2 C170.9,72.4 171.2,72.9 174.2,77.3 C177.2,81.7 181.8,89.6 184.3,95.4 C186.9,101.2 188.9,106.7 189.5,112.0 C190.1,117.3 187.9,124.7 187.6,127.2" fill="none" stroke="#22b2b8" stroke-width="2.0"/></g></g><g transform="translate(165,392)"><clipPath id="sc10"><path d="M31.3,115.0 C30.5,120.1 31.9,122.5 32.5,126.0 C33.1,129.5 33.8,132.7 35.0,136.0 C36.2,139.3 37.8,142.8 39.5,146.0 C41.2,149.2 43.1,152.4 45.0,155.5 C46.9,158.6 48.4,161.7 51.1,164.8 C53.9,167.9 57.1,171.5 61.5,174.0 C65.8,176.5 72.4,178.8 77.2,179.8 C82.0,180.8 86.9,180.6 90.2,179.8 C93.5,179.0 95.3,176.8 96.8,175.2 C98.3,173.6 97.5,171.3 99.4,170.0 C101.4,168.7 105.7,168.9 108.5,167.4 C111.3,165.9 112.4,162.5 116.0,161.0 C119.6,159.5 125.3,159.5 130.2,158.5 C135.1,157.5 141.1,156.0 145.3,155.0 C149.5,154.0 152.4,154.0 155.4,152.4 C158.4,150.8 161.1,147.4 163.4,145.4 C165.8,143.4 166.6,142.3 169.5,140.3 C172.4,138.3 177.6,135.5 180.6,133.3 C183.6,131.1 186.1,130.8 187.6,127.2 C189.1,123.7 190.1,117.3 189.5,112.0 C188.9,106.7 186.9,101.2 184.3,95.4 C181.8,89.6 177.2,81.7 174.2,77.3 C171.2,72.9 170.9,72.4 166.2,69.2 C161.5,66.0 152.7,60.9 146.0,58.1 C139.3,55.4 132.5,53.8 125.8,52.7 C119.1,51.6 112.4,51.6 105.7,51.7 C99.0,51.8 91.2,52.4 85.5,53.1 C79.8,53.8 76.1,54.4 71.4,56.1 C66.7,57.8 61.7,59.6 57.3,63.1 C52.9,66.6 48.6,71.9 45.2,77.3 C41.8,82.7 39.4,89.1 37.1,95.4 C34.8,101.7 32.1,109.9 31.3,115.0Z"/></clipPath><clipPath id="cc10"><path d="M39.5,146.0 C40.5,143.6 47.0,143.4 51.1,141.3 C55.2,139.2 59.6,135.4 64.0,133.5 C68.3,131.6 73.5,129.8 77.2,129.6 C80.9,129.4 82.8,130.7 86.3,132.2 C89.8,133.7 94.1,136.3 98.0,138.7 C101.9,141.1 105.6,144.3 109.8,146.5 C114.0,148.7 121.5,149.5 122.9,151.8 C124.3,154.1 120.4,157.9 118.0,160.5 C115.6,163.1 111.6,165.8 108.5,167.4 C105.4,169.0 101.4,168.7 99.4,170.0 C97.5,171.3 98.3,173.6 96.8,175.2 C95.3,176.8 93.5,179.0 90.2,179.8 C86.9,180.6 82.0,180.8 77.2,179.8 C72.4,178.8 65.8,176.5 61.5,174.0 C57.1,171.5 53.9,167.9 51.1,164.8 C48.4,161.7 46.9,158.6 45.0,155.5 C43.1,152.4 38.5,148.4 39.5,146.0Z"/></clipPath><clipPath id="uc10"><path d="M122.9,151.8 L140.2,144.4 L150.3,142.3 L160.4,140.3 L174.5,134.3 L188.0,127.2 L180.6,133.3 L169.5,140.3 L163.4,145.4 L155.4,152.4 L145.3,155.0 L130.2,158.5 L118.0,160.5Z"/></clipPath><g clip-path="url(#sc10)"><path d="M31.3,115.0 C30.5,120.1 31.9,122.5 32.5,126.0 C33.1,129.5 33.8,132.7 35.0,136.0 C36.2,139.3 37.8,142.8 39.5,146.0 C41.2,149.2 43.1,152.4 45.0,155.5 C46.9,158.6 48.4,161.7 51.1,164.8 C53.9,167.9 57.1,171.5 61.5,174.0 C65.8,176.5 72.4,178.8 77.2,179.8 C82.0,180.8 86.9,180.6 90.2,179.8 C93.5,179.0 95.3,176.8 96.8,175.2 C98.3,173.6 97.5,171.3 99.4,170.0 C101.4,168.7 105.7,168.9 108.5,167.4 C111.3,165.9 112.4,162.5 116.0,161.0 C119.6,159.5 125.3,159.5 130.2,158.5 C135.1,157.5 141.1,156.0 145.3,155.0 C149.5,154.0 152.4,154.0 155.4,152.4 C158.4,150.8 161.1,147.4 163.4,145.4 C165.8,143.4 166.6,142.3 169.5,140.3 C172.4,138.3 177.6,135.5 180.6,133.3 C183.6,131.1 186.1,130.8 187.6,127.2 C189.1,123.7 190.1,117.3 189.5,112.0 C188.9,106.7 186.9,101.2 184.3,95.4 C181.8,89.6 177.2,81.7 174.2,77.3 C171.2,72.9 170.9,72.4 166.2,69.2 C161.5,66.0 152.7,60.9 146.0,58.1 C139.3,55.4 132.5,53.8 125.8,52.7 C119.1,51.6 112.4,51.6 105.7,51.7 C99.0,51.8 91.2,52.4 85.5,53.1 C79.8,53.8 76.1,54.4 71.4,56.1 C66.7,57.8 61.7,59.6 57.3,63.1 C52.9,66.6 48.6,71.9 45.2,77.3 C41.8,82.7 39.4,89.1 37.1,95.4 C34.8,101.7 32.1,109.9 31.3,115.0Z" fill="#5cbd98"/><path d="M49.9,73.0 L115.0,63.0 L135.1,77.9 L94.9,88.0 L59.9,93.1 L40.1,108.0 L34.9,77.9Z" fill="#22b2b8"/><path d="M88.5,74.3 L97.3,73.0 L107.3,82.0 L102.2,85.6 L89.8,82.0Z" fill="#2079c4"/><path d="M52.0,73.0 L59.5,74.1 L58.0,78.1 L51.0,77.1Z" fill="#2079c4"/><path d="M34.5,98.2 L45.8,85.6 L58.4,79.4 L52.0,91.8 L42.2,110.8 L39.6,129.6 L34.5,125.8Z" fill="#22b2b8"/><path d="M34.5,128.3 L47.1,133.4 L44.6,145.8 L37.1,140.9Z" fill="#2079c4"/><path d="M52.0,100.8 L64.6,93.3 L81.1,98.2 L83.4,118.3 L74.7,125.8 L55.9,123.2Z" fill="#5eb93a"/><path d="M58.4,100.8 L73.4,100.8 L75.9,118.3 L61.0,119.6Z" fill="#96c63a"/><path d="M61.0,69.0 L71.0,67.9 L70.0,74.1 L62.1,74.9Z" fill="#5eb93a"/><path d="M109.3,59.4 L134.4,60.6 L153.2,70.7 L150.7,76.9 L128.0,73.0 L109.3,68.1Z" fill="#5eb93a"/><path d="M121.9,73.0 L157.1,74.3 L159.4,98.2 L153.2,123.2 L140.6,135.8 L121.9,129.6 L115.7,117.0 L128.0,100.8Z" fill="#5eb93a"/><path d="M103.1,80.7 L115.7,84.3 L128.0,89.5 L125.7,93.3 L103.1,89.5Z" fill="#2079c4"/><path d="M133.0,83.1 L153.0,93.1 L151.1,98.0 L131.0,88.0Z" fill="#96c63a"/><path d="M155.8,73.0 L173.3,80.7 L178.2,100.8 L175.9,128.3 L159.4,135.8 L153.2,128.3 L165.8,110.8 L162.0,88.2Z" fill="#22b2b8"/><path d="M163.3,76.9 L173.3,78.1 L184.6,98.2 L184.6,125.8 L174.6,129.6 L178.2,104.4 L170.7,88.2Z" fill="#2079c4"/><path d="M173.3,79.4 L183.3,95.7 L185.7,123.2 L182.1,124.7 L178.2,98.2Z" fill="#0d3796"/><path d="M84.9,93.1 L103.1,96.1 L125.1,99.9 L149.0,110.0 L147.0,121.9 L122.9,118.1 L103.1,112.1 L84.9,105.0Z" fill="#e2dc26"/><path d="M87.3,95.7 L97.3,98.2 L121.9,104.4 L146.8,112.1 L144.5,118.3 L121.9,113.4 L102.2,108.0 L88.5,102.1Z" fill="#e0241e"/><path d="M122.9,151.8 L140.2,144.4 L150.3,142.3 L160.4,140.3 L174.5,134.3 L188.0,127.2 L180.6,133.3 L169.5,140.3 L163.4,145.4 L155.4,152.4 L145.3,155.0 L130.2,158.5 L118.0,160.5Z" fill="#5eb93a"/><g clip-path="url(#uc10)"><path d="M125.7,142.4 L155.8,143.9 L154.9,146.9 L125.1,146.5Z" fill="#e0241e"/><path d="M154.9,140.9 L165.0,139.0 L165.0,143.1 L154.9,145.0Z" fill="#e2dc26"/></g><path d="M39.5,146.0 C40.5,143.6 47.0,143.4 51.1,141.3 C55.2,139.2 59.6,135.4 64.0,133.5 C68.3,131.6 73.5,129.8 77.2,129.6 C80.9,129.4 82.8,130.7 86.3,132.2 C89.8,133.7 94.1,136.3 98.0,138.7 C101.9,141.1 105.6,144.3 109.8,146.5 C114.0,148.7 121.5,149.5 122.9,151.8 C124.3,154.1 120.4,157.9 118.0,160.5 C115.6,163.1 111.6,165.8 108.5,167.4 C105.4,169.0 101.4,168.7 99.4,170.0 C97.5,171.3 98.3,173.6 96.8,175.2 C95.3,176.8 93.5,179.0 90.2,179.8 C86.9,180.6 82.0,180.8 77.2,179.8 C72.4,178.8 65.8,176.5 61.5,174.0 C57.1,171.5 53.9,167.9 51.1,164.8 C48.4,161.7 46.9,158.6 45.0,155.5 C43.1,152.4 38.5,148.4 39.5,146.0Z" fill="#0d3796"/><g clip-path="url(#cc10)"><path d="M52.0,138.4 L64.6,133.4 L77.2,135.8 L83.4,143.5 L81.1,152.2 L72.1,148.4 L64.6,143.5 L54.6,145.8Z" fill="#2079c4"/><path d="M59.9,156.1 L80.0,155.0 L84.9,168.0 L65.1,172.9Z" fill="#2079c4"/></g><path d="M39.5,146.0 C41.4,145.2 47.0,143.4 51.1,141.3 C55.2,139.2 59.6,135.4 64.0,133.5 C68.3,131.6 73.5,129.8 77.2,129.6 C80.9,129.4 82.8,130.7 86.3,132.2 C89.8,133.7 96.0,137.6 98.0,138.7" fill="none" stroke="#e0241e" stroke-width="1.3"/><path d="M39.5,146.0 C38.8,144.3 36.2,139.3 35.0,136.0 C33.8,132.7 33.1,129.5 32.5,126.0 C31.9,122.5 30.5,120.1 31.3,115.0 C32.1,109.9 34.8,101.7 37.1,95.4 C39.4,89.1 41.8,82.7 45.2,77.3 C48.6,71.9 52.9,66.6 57.3,63.1 C61.7,59.6 66.7,57.8 71.4,56.1 C76.1,54.4 79.8,53.8 85.5,53.1 C91.2,52.4 99.0,51.8 105.7,51.7 C112.4,51.6 119.1,51.6 125.8,52.7 C132.5,53.8 139.3,55.4 146.0,58.1 C152.7,60.9 161.5,66.0 166.2,69.2 C170.9,72.4 171.2,72.9 174.2,77.3 C177.2,81.7 181.8,89.6 184.3,95.4 C186.9,101.2 188.9,106.7 189.5,112.0 C190.1,117.3 187.9,124.7 187.6,127.2" fill="none" stroke="#e0241e" stroke-width="7.2"/></g></g><g transform="translate(349,392)"><clipPath id="sc11"><path d="M31.3,115.0 C30.5,120.1 31.9,122.5 32.5,126.0 C33.1,129.5 33.8,132.7 35.0,136.0 C36.2,139.3 37.8,142.8 39.5,146.0 C41.2,149.2 43.1,152.4 45.0,155.5 C46.9,158.6 48.4,161.7 51.1,164.8 C53.9,167.9 57.1,171.5 61.5,174.0 C65.8,176.5 72.4,178.8 77.2,179.8 C82.0,180.8 86.9,180.6 90.2,179.8 C93.5,179.0 95.3,176.8 96.8,175.2 C98.3,173.6 97.5,171.3 99.4,170.0 C101.4,168.7 105.7,168.9 108.5,167.4 C111.3,165.9 112.4,162.5 116.0,161.0 C119.6,159.5 125.3,159.5 130.2,158.5 C135.1,157.5 141.1,156.0 145.3,155.0 C149.5,154.0 152.4,154.0 155.4,152.4 C158.4,150.8 161.1,147.4 163.4,145.4 C165.8,143.4 166.6,142.3 169.5,140.3 C172.4,138.3 177.6,135.5 180.6,133.3 C183.6,131.1 186.1,130.8 187.6,127.2 C189.1,123.7 190.1,117.3 189.5,112.0 C188.9,106.7 186.9,101.2 184.3,95.4 C181.8,89.6 177.2,81.7 174.2,77.3 C171.2,72.9 170.9,72.4 166.2,69.2 C161.5,66.0 152.7,60.9 146.0,58.1 C139.3,55.4 132.5,53.8 125.8,52.7 C119.1,51.6 112.4,51.6 105.7,51.7 C99.0,51.8 91.2,52.4 85.5,53.1 C79.8,53.8 76.1,54.4 71.4,56.1 C66.7,57.8 61.7,59.6 57.3,63.1 C52.9,66.6 48.6,71.9 45.2,77.3 C41.8,82.7 39.4,89.1 37.1,95.4 C34.8,101.7 32.1,109.9 31.3,115.0Z"/></clipPath><clipPath id="cc11"><path d="M39.5,146.0 C40.5,143.6 47.0,143.4 51.1,141.3 C55.2,139.2 59.6,135.4 64.0,133.5 C68.3,131.6 73.5,129.8 77.2,129.6 C80.9,129.4 82.8,130.7 86.3,132.2 C89.8,133.7 94.1,136.3 98.0,138.7 C101.9,141.1 105.6,144.3 109.8,146.5 C114.0,148.7 121.5,149.5 122.9,151.8 C124.3,154.1 120.4,157.9 118.0,160.5 C115.6,163.1 111.6,165.8 108.5,167.4 C105.4,169.0 101.4,168.7 99.4,170.0 C97.5,171.3 98.3,173.6 96.8,175.2 C95.3,176.8 93.5,179.0 90.2,179.8 C86.9,180.6 82.0,180.8 77.2,179.8 C72.4,178.8 65.8,176.5 61.5,174.0 C57.1,171.5 53.9,167.9 51.1,164.8 C48.4,161.7 46.9,158.6 45.0,155.5 C43.1,152.4 38.5,148.4 39.5,146.0Z"/></clipPath><clipPath id="uc11"><path d="M122.9,151.8 L140.2,144.4 L150.3,142.3 L160.4,140.3 L174.5,134.3 L188.0,127.2 L180.6,133.3 L169.5,140.3 L163.4,145.4 L155.4,152.4 L145.3,155.0 L130.2,158.5 L118.0,160.5Z"/></clipPath><g clip-path="url(#sc11)"><path d="M31.3,115.0 C30.5,120.1 31.9,122.5 32.5,126.0 C33.1,129.5 33.8,132.7 35.0,136.0 C36.2,139.3 37.8,142.8 39.5,146.0 C41.2,149.2 43.1,152.4 45.0,155.5 C46.9,158.6 48.4,161.7 51.1,164.8 C53.9,167.9 57.1,171.5 61.5,174.0 C65.8,176.5 72.4,178.8 77.2,179.8 C82.0,180.8 86.9,180.6 90.2,179.8 C93.5,179.0 95.3,176.8 96.8,175.2 C98.3,173.6 97.5,171.3 99.4,170.0 C101.4,168.7 105.7,168.9 108.5,167.4 C111.3,165.9 112.4,162.5 116.0,161.0 C119.6,159.5 125.3,159.5 130.2,158.5 C135.1,157.5 141.1,156.0 145.3,155.0 C149.5,154.0 152.4,154.0 155.4,152.4 C158.4,150.8 161.1,147.4 163.4,145.4 C165.8,143.4 166.6,142.3 169.5,140.3 C172.4,138.3 177.6,135.5 180.6,133.3 C183.6,131.1 186.1,130.8 187.6,127.2 C189.1,123.7 190.1,117.3 189.5,112.0 C188.9,106.7 186.9,101.2 184.3,95.4 C181.8,89.6 177.2,81.7 174.2,77.3 C171.2,72.9 170.9,72.4 166.2,69.2 C161.5,66.0 152.7,60.9 146.0,58.1 C139.3,55.4 132.5,53.8 125.8,52.7 C119.1,51.6 112.4,51.6 105.7,51.7 C99.0,51.8 91.2,52.4 85.5,53.1 C79.8,53.8 76.1,54.4 71.4,56.1 C66.7,57.8 61.7,59.6 57.3,63.1 C52.9,66.6 48.6,71.9 45.2,77.3 C41.8,82.7 39.4,89.1 37.1,95.4 C34.8,101.7 32.1,109.9 31.3,115.0Z" fill="#2079c4"/><path d="M52.2,82.0 L62.0,70.7 L77.2,60.6 L102.4,58.1 L102.4,66.8 L83.6,73.0 L64.8,85.6 L55.8,89.5Z" fill="#5eb93a"/><path d="M42.1,98.2 L52.2,85.6 L55.8,89.5 L64.8,85.6 L83.6,73.0 L102.4,66.8 L102.4,58.1 L117.1,57.0 L141.0,60.0 L117.1,73.0 L95.9,76.9 L71.0,89.5 L52.2,104.4Z" fill="#5cbd98"/><path d="M34.5,117.0 L52.2,104.4 L71.0,89.5 L95.9,76.9 L117.1,73.0 L141.0,60.0 L151.0,66.0 L117.1,85.6 L89.8,88.2 L74.6,100.8 L62.0,118.3 L45.8,123.2Z" fill="#22b2b8"/><path d="M89.8,104.4 L97.2,95.7 L117.1,91.8 L121.8,91.8 L147.0,95.7 L140.8,100.8 L121.8,102.1 L103.0,104.4 L128.2,109.5 L128.2,114.4 L103.0,115.7 L97.2,113.4Z" fill="#0d3796"/><path d="M101.1,98.0 L116.0,96.1 L116.0,101.0 L101.1,102.9Z" fill="#2079c4"/><path d="M149.3,76.9 L163.2,74.3 L178.4,82.0 L184.6,100.8 L178.4,100.8 L165.8,95.7 L157.0,85.6Z" fill="#0d3796"/><path d="M115.6,125.8 L140.8,113.4 L159.6,110.8 L178.4,113.4 L183.3,123.2 L165.8,133.4 L140.8,133.4 L115.6,133.4Z" fill="#22b2b8"/><path d="M173.0,115.9 L183.1,108.0 L185.0,123.0 L177.1,130.0Z" fill="#5cbd98"/><path d="M43.2,133.4 L64.8,128.3 L87.2,130.9 L84.6,134.5 L64.8,133.4 L45.8,137.1Z" fill="#0d3796"/><path d="M129.0,128.1 L151.0,129.0 L148.9,132.0 L129.0,131.1Z" fill="#0d3796"/><path d="M35.1,123.0 L50.9,115.9 L56.0,123.0 L41.1,130.0Z" fill="#22b2b8"/><path d="M103.0,143.5 L140.8,140.9 L172.0,130.9 L165.8,140.9 L140.8,147.1 L103.0,148.4Z" fill="#5eb93a"/><path d="M131.0,140.9 L155.9,137.9 L151.0,143.9 L133.1,146.0Z" fill="#96c63a"/><path d="M122.9,151.8 L140.2,144.4 L150.3,142.3 L160.4,140.3 L174.5,134.3 L188.0,127.2 L180.6,133.3 L169.5,140.3 L163.4,145.4 L155.4,152.4 L145.3,155.0 L130.2,158.5 L118.0,160.5Z" fill="#f08a1e"/><g clip-path="url(#uc11)"><path d="M131.0,148.0 L155.9,146.0 L161.1,158.0 L133.1,159.9Z" fill="#c0481e"/><path d="M151.0,148.0 L166.0,145.0 L163.0,156.1 L151.0,156.9Z" fill="#e0241e"/><path d="M120.9,140.9 L166.0,137.9 L163.0,143.9 L120.9,146.0Z" fill="#e2dc26"/></g><path d="M39.5,146.0 C40.5,143.6 47.0,143.4 51.1,141.3 C55.2,139.2 59.6,135.4 64.0,133.5 C68.3,131.6 73.5,129.8 77.2,129.6 C80.9,129.4 82.8,130.7 86.3,132.2 C89.8,133.7 94.1,136.3 98.0,138.7 C101.9,141.1 105.6,144.3 109.8,146.5 C114.0,148.7 121.5,149.5 122.9,151.8 C124.3,154.1 120.4,157.9 118.0,160.5 C115.6,163.1 111.6,165.8 108.5,167.4 C105.4,169.0 101.4,168.7 99.4,170.0 C97.5,171.3 98.3,173.6 96.8,175.2 C95.3,176.8 93.5,179.0 90.2,179.8 C86.9,180.6 82.0,180.8 77.2,179.8 C72.4,178.8 65.8,176.5 61.5,174.0 C57.1,171.5 53.9,167.9 51.1,164.8 C48.4,161.7 46.9,158.6 45.0,155.5 C43.1,152.4 38.5,148.4 39.5,146.0Z" fill="#2079c4"/><g clip-path="url(#cc11)"><path d="M55.2,144.8 C57.3,140.1 66.6,138.4 72.2,138.4 C77.9,138.4 86.1,140.8 89.3,144.8 C92.5,148.7 93.2,157.2 91.5,161.8 C89.7,166.5 84.0,171.8 78.7,172.5 C73.3,173.2 63.3,170.7 59.4,166.1 C55.5,161.5 53.0,149.4 55.2,144.8Z" fill="#22b2b8"/><path d="M85.1,138.4 L97.9,140.5 L106.4,157.6 L95.7,166.1 L91.5,153.3Z" fill="#0d3796"/><path d="M48.8,140.5 L63.7,138.4 L68.0,142.6 L53.0,146.9Z" fill="#0d3796"/></g><path d="M39.5,146.0 C41.4,145.2 47.0,143.4 51.1,141.3 C55.2,139.2 59.6,135.4 64.0,133.5 C68.3,131.6 73.5,129.8 77.2,129.6 C80.9,129.4 82.8,130.7 86.3,132.2 C89.8,133.7 96.0,137.6 98.0,138.7" fill="none" stroke="#5eb93a" stroke-width="1.3"/><path d="M39.5,146.0 C38.8,144.3 36.2,139.3 35.0,136.0 C33.8,132.7 33.1,129.5 32.5,126.0 C31.9,122.5 30.5,120.1 31.3,115.0 C32.1,109.9 34.8,101.7 37.1,95.4 C39.4,89.1 41.8,82.7 45.2,77.3 C48.6,71.9 52.9,66.6 57.3,63.1 C61.7,59.6 66.7,57.8 71.4,56.1 C76.1,54.4 79.8,53.8 85.5,53.1 C91.2,52.4 99.0,51.8 105.7,51.7 C112.4,51.6 119.1,51.6 125.8,52.7 C132.5,53.8 139.3,55.4 146.0,58.1 C152.7,60.9 161.5,66.0 166.2,69.2 C170.9,72.4 171.2,72.9 174.2,77.3 C177.2,81.7 181.8,89.6 184.3,95.4 C186.9,101.2 188.9,106.7 189.5,112.0 C190.1,117.3 187.9,124.7 187.6,127.2" fill="none" stroke="#e0241e" stroke-width="4.4"/><path d="M174.2,77.3 C175.9,80.3 181.8,89.6 184.3,95.4 C186.9,101.2 188.9,106.7 189.5,112.0 C190.1,117.3 187.9,124.7 187.6,127.2" fill="none" stroke="#5eb93a" stroke-width="3.74" stroke-linecap="round"/><path d="M39.5,146.0 C38.8,144.3 36.2,139.3 35.0,136.0 C33.8,132.7 33.1,129.5 32.5,126.0 C31.9,122.5 31.5,116.8 31.3,115.0" fill="none" stroke="#22b2b8" stroke-width="3.74" stroke-linecap="round"/><path d="M39.5,146.0 C38.8,144.3 36.2,139.3 35.0,136.0 C33.8,132.7 33.1,129.5 32.5,126.0 C31.9,122.5 30.5,120.1 31.3,115.0 C32.1,109.9 34.8,101.7 37.1,95.4 C39.4,89.1 41.8,82.7 45.2,77.3 C48.6,71.9 52.9,66.6 57.3,63.1 C61.7,59.6 66.7,57.8 71.4,56.1 C76.1,54.4 79.8,53.8 85.5,53.1 C91.2,52.4 99.0,51.8 105.7,51.7 C112.4,51.6 119.1,51.6 125.8,52.7 C132.5,53.8 139.3,55.4 146.0,58.1 C152.7,60.9 161.5,66.0 166.2,69.2 C170.9,72.4 171.2,72.9 174.2,77.3 C177.2,81.7 181.8,89.6 184.3,95.4 C186.9,101.2 188.9,106.7 189.5,112.0 C190.1,117.3 187.9,124.7 187.6,127.2" fill="none" stroke="#5eb93a" stroke-width="2.0"/></g></g><g transform="translate(517,392)"><clipPath id="sc12"><path d="M31.3,115.0 C30.5,120.1 31.9,122.5 32.5,126.0 C33.1,129.5 33.8,132.7 35.0,136.0 C36.2,139.3 37.8,142.8 39.5,146.0 C41.2,149.2 43.1,152.4 45.0,155.5 C46.9,158.6 48.4,161.7 51.1,164.8 C53.9,167.9 57.1,171.5 61.5,174.0 C65.8,176.5 72.4,178.8 77.2,179.8 C82.0,180.8 86.9,180.6 90.2,179.8 C93.5,179.0 95.3,176.8 96.8,175.2 C98.3,173.6 97.5,171.3 99.4,170.0 C101.4,168.7 105.7,168.9 108.5,167.4 C111.3,165.9 112.4,162.5 116.0,161.0 C119.6,159.5 125.3,159.5 130.2,158.5 C135.1,157.5 141.1,156.0 145.3,155.0 C149.5,154.0 152.4,154.0 155.4,152.4 C158.4,150.8 161.1,147.4 163.4,145.4 C165.8,143.4 166.6,142.3 169.5,140.3 C172.4,138.3 177.6,135.5 180.6,133.3 C183.6,131.1 186.1,130.8 187.6,127.2 C189.1,123.7 190.1,117.3 189.5,112.0 C188.9,106.7 186.9,101.2 184.3,95.4 C181.8,89.6 177.2,81.7 174.2,77.3 C171.2,72.9 170.9,72.4 166.2,69.2 C161.5,66.0 152.7,60.9 146.0,58.1 C139.3,55.4 132.5,53.8 125.8,52.7 C119.1,51.6 112.4,51.6 105.7,51.7 C99.0,51.8 91.2,52.4 85.5,53.1 C79.8,53.8 76.1,54.4 71.4,56.1 C66.7,57.8 61.7,59.6 57.3,63.1 C52.9,66.6 48.6,71.9 45.2,77.3 C41.8,82.7 39.4,89.1 37.1,95.4 C34.8,101.7 32.1,109.9 31.3,115.0Z"/></clipPath><clipPath id="cc12"><path d="M39.5,146.0 C40.5,143.6 47.0,143.4 51.1,141.3 C55.2,139.2 59.6,135.4 64.0,133.5 C68.3,131.6 73.5,129.8 77.2,129.6 C80.9,129.4 82.8,130.7 86.3,132.2 C89.8,133.7 94.1,136.3 98.0,138.7 C101.9,141.1 105.6,144.3 109.8,146.5 C114.0,148.7 121.5,149.5 122.9,151.8 C124.3,154.1 120.4,157.9 118.0,160.5 C115.6,163.1 111.6,165.8 108.5,167.4 C105.4,169.0 101.4,168.7 99.4,170.0 C97.5,171.3 98.3,173.6 96.8,175.2 C95.3,176.8 93.5,179.0 90.2,179.8 C86.9,180.6 82.0,180.8 77.2,179.8 C72.4,178.8 65.8,176.5 61.5,174.0 C57.1,171.5 53.9,167.9 51.1,164.8 C48.4,161.7 46.9,158.6 45.0,155.5 C43.1,152.4 38.5,148.4 39.5,146.0Z"/></clipPath><clipPath id="uc12"><path d="M122.9,151.8 L140.2,144.4 L150.3,142.3 L160.4,140.3 L174.5,134.3 L188.0,127.2 L180.6,133.3 L169.5,140.3 L163.4,145.4 L155.4,152.4 L145.3,155.0 L130.2,158.5 L118.0,160.5Z"/></clipPath><g clip-path="url(#sc12)"><path d="M31.3,115.0 C30.5,120.1 31.9,122.5 32.5,126.0 C33.1,129.5 33.8,132.7 35.0,136.0 C36.2,139.3 37.8,142.8 39.5,146.0 C41.2,149.2 43.1,152.4 45.0,155.5 C46.9,158.6 48.4,161.7 51.1,164.8 C53.9,167.9 57.1,171.5 61.5,174.0 C65.8,176.5 72.4,178.8 77.2,179.8 C82.0,180.8 86.9,180.6 90.2,179.8 C93.5,179.0 95.3,176.8 96.8,175.2 C98.3,173.6 97.5,171.3 99.4,170.0 C101.4,168.7 105.7,168.9 108.5,167.4 C111.3,165.9 112.4,162.5 116.0,161.0 C119.6,159.5 125.3,159.5 130.2,158.5 C135.1,157.5 141.1,156.0 145.3,155.0 C149.5,154.0 152.4,154.0 155.4,152.4 C158.4,150.8 161.1,147.4 163.4,145.4 C165.8,143.4 166.6,142.3 169.5,140.3 C172.4,138.3 177.6,135.5 180.6,133.3 C183.6,131.1 186.1,130.8 187.6,127.2 C189.1,123.7 190.1,117.3 189.5,112.0 C188.9,106.7 186.9,101.2 184.3,95.4 C181.8,89.6 177.2,81.7 174.2,77.3 C171.2,72.9 170.9,72.4 166.2,69.2 C161.5,66.0 152.7,60.9 146.0,58.1 C139.3,55.4 132.5,53.8 125.8,52.7 C119.1,51.6 112.4,51.6 105.7,51.7 C99.0,51.8 91.2,52.4 85.5,53.1 C79.8,53.8 76.1,54.4 71.4,56.1 C66.7,57.8 61.7,59.6 57.3,63.1 C52.9,66.6 48.6,71.9 45.2,77.3 C41.8,82.7 39.4,89.1 37.1,95.4 C34.8,101.7 32.1,109.9 31.3,115.0Z" fill="#5cbd98"/><path d="M95.1,63.0 L123.1,58.1 L142.9,67.9 L133.1,86.0 L103.0,86.0 L92.9,77.9Z" fill="#22b2b8"/><path d="M31.0,77.9 L53.0,73.0 L73.1,83.1 L57.9,108.0 L47.9,137.9 L32.9,137.9Z" fill="#22b2b8"/><path d="M40.6,113.4 L53.0,98.2 L71.8,90.7 L97.0,85.6 L117.9,84.3 L117.9,94.4 L97.0,95.7 L78.2,100.8 L69.5,113.4 L78.2,125.8 L65.6,128.3 L55.6,118.3 L46.8,135.8 L40.6,129.6Z" fill="#2079c4"/><path d="M32.1,108.0 L34.2,117.0 L38.1,135.8 L43.2,148.4 L38.9,148.0 L32.1,128.1Z" fill="#0d3796"/><path d="M54.9,102.9 L68.0,98.0 L69.5,113.4 L75.0,124.9 L65.0,128.1 L57.1,118.1Z" fill="#22b2b8"/><path d="M125.6,65.5 L150.6,66.8 L173.2,76.9 L182.2,91.8 L184.5,123.2 L173.2,123.2 L165.8,100.8 L153.2,90.7 L134.4,89.5 L115.6,88.2 L103.0,93.3 L103.0,85.6Z" fill="#2079c4"/><path d="M136.9,70.7 L155.7,69.4 L172.0,79.4 L168.3,89.5 L155.7,88.2 L140.8,82.0Z" fill="#0d3796"/><path d="M167.9,99.9 L177.1,102.9 L180.9,123.0 L171.1,126.0Z" fill="#22b2b8"/><path d="M88.0,102.9 L103.0,98.2 L140.8,95.7 L159.6,110.8 L159.6,133.4 L140.8,138.4 L115.6,135.8 L92.9,128.1Z" fill="#5eb93a"/><path d="M98.1,102.1 L133.1,99.9 L151.0,112.9 L151.0,128.1 L128.0,133.0 L101.1,123.0Z" fill="#96c63a"/><path d="M133.1,118.3 L144.4,118.3 L147.0,128.3 L138.0,130.9Z" fill="#e2dc26"/><path d="M91.0,102.9 L113.0,98.0 L135.0,102.1 L123.1,111.0 L95.1,110.0Z" fill="#e2dc26"/><path d="M94.4,104.4 L115.6,100.8 L134.4,104.4 L130.5,108.2 L103.2,108.2Z" fill="#e0241e"/><path d="M82.9,128.1 L108.1,130.0 L123.1,140.1 L92.9,143.1Z" fill="#5eb93a"/><path d="M122.9,151.8 L140.2,144.4 L150.3,142.3 L160.4,140.3 L174.5,134.3 L188.0,127.2 L180.6,133.3 L169.5,140.3 L163.4,145.4 L155.4,152.4 L145.3,155.0 L130.2,158.5 L118.0,160.5Z" fill="#e0241e"/><g clip-path="url(#uc12)"><path d="M123.1,140.1 L152.9,137.9 L173.0,134.1 L163.0,143.9 L128.0,148.0Z" fill="#f08a1e"/><path d="M133.1,148.0 L155.1,146.0 L152.9,156.1 L133.1,158.0Z" fill="#b82818"/></g><path d="M39.5,146.0 C40.5,143.6 47.0,143.4 51.1,141.3 C55.2,139.2 59.6,135.4 64.0,133.5 C68.3,131.6 73.5,129.8 77.2,129.6 C80.9,129.4 82.8,130.7 86.3,132.2 C89.8,133.7 94.1,136.3 98.0,138.7 C101.9,141.1 105.6,144.3 109.8,146.5 C114.0,148.7 121.5,149.5 122.9,151.8 C124.3,154.1 120.4,157.9 118.0,160.5 C115.6,163.1 111.6,165.8 108.5,167.4 C105.4,169.0 101.4,168.7 99.4,170.0 C97.5,171.3 98.3,173.6 96.8,175.2 C95.3,176.8 93.5,179.0 90.2,179.8 C86.9,180.6 82.0,180.8 77.2,179.8 C72.4,178.8 65.8,176.5 61.5,174.0 C57.1,171.5 53.9,167.9 51.1,164.8 C48.4,161.7 46.9,158.6 45.0,155.5 C43.1,152.4 38.5,148.4 39.5,146.0Z" fill="#0d3796"/><g clip-path="url(#cc12)"></g><path d="M39.5,146.0 C38.8,144.3 36.2,139.3 35.0,136.0 C33.8,132.7 33.1,129.5 32.5,126.0 C31.9,122.5 30.5,120.1 31.3,115.0 C32.1,109.9 34.8,101.7 37.1,95.4 C39.4,89.1 41.8,82.7 45.2,77.3 C48.6,71.9 52.9,66.6 57.3,63.1 C61.7,59.6 66.7,57.8 71.4,56.1 C76.1,54.4 79.8,53.8 85.5,53.1 C91.2,52.4 99.0,51.8 105.7,51.7 C112.4,51.6 119.1,51.6 125.8,52.7 C132.5,53.8 139.3,55.4 146.0,58.1 C152.7,60.9 161.5,66.0 166.2,69.2 C170.9,72.4 171.2,72.9 174.2,77.3 C177.2,81.7 181.8,89.6 184.3,95.4 C186.9,101.2 188.9,106.7 189.5,112.0 C190.1,117.3 187.9,124.7 187.6,127.2" fill="none" stroke="#96c63a" stroke-width="5.2"/><path d="M37.1,95.4 C38.5,92.4 41.8,82.7 45.2,77.3 C48.6,71.9 52.9,66.6 57.3,63.1 C61.7,59.6 66.7,57.8 71.4,56.1 C76.1,54.4 83.2,53.6 85.5,53.1" fill="none" stroke="#e0241e" stroke-width="4.42" stroke-linecap="round"/><path d="M39.5,146.0 C38.8,144.3 36.2,139.3 35.0,136.0 C33.8,132.7 33.1,129.5 32.5,126.0 C31.9,122.5 30.5,120.1 31.3,115.0 C32.1,109.9 34.8,101.7 37.1,95.4 C39.4,89.1 41.8,82.7 45.2,77.3 C48.6,71.9 52.9,66.6 57.3,63.1 C61.7,59.6 66.7,57.8 71.4,56.1 C76.1,54.4 79.8,53.8 85.5,53.1 C91.2,52.4 99.0,51.8 105.7,51.7 C112.4,51.6 119.1,51.6 125.8,52.7 C132.5,53.8 139.3,55.4 146.0,58.1 C152.7,60.9 161.5,66.0 166.2,69.2 C170.9,72.4 171.2,72.9 174.2,77.3 C177.2,81.7 181.8,89.6 184.3,95.4 C186.9,101.2 188.9,106.7 189.5,112.0 C190.1,117.3 187.9,124.7 187.6,127.2" fill="none" stroke="#5eb93a" stroke-width="2.0"/></g></g><g transform="translate(2,390)"><clipPath id="kc13"><path d="M108.6,192.0 C109.4,192.0 109.8,189.4 111.0,188.5 C112.2,187.6 113.6,187.0 116.0,186.5 C118.4,186.0 122.8,185.4 125.6,185.6 C128.4,185.8 130.6,186.6 133.0,187.5 C135.4,188.4 137.2,189.4 140.0,191.2 C142.8,193.0 146.6,195.9 150.0,198.5 C153.4,201.1 158.0,203.9 160.7,206.5 C163.4,209.1 164.4,211.2 166.0,214.0 C167.6,216.8 168.5,218.1 170.3,223.1 C172.1,228.1 175.4,237.2 176.7,243.9 C178.0,250.6 178.3,257.2 178.3,263.1 C178.3,269.0 177.8,273.7 176.7,279.0 C175.6,284.3 174.0,290.5 171.9,295.0 C169.8,299.5 167.4,303.3 163.9,306.2 C160.4,309.1 155.9,311.5 151.1,312.6 C146.3,313.7 139.3,313.4 135.1,312.6 C130.8,311.8 128.0,309.7 125.6,307.8 C123.2,305.9 123.6,303.2 120.8,301.4 C118.0,299.6 112.8,296.7 108.6,297.0 C104.4,297.3 98.7,301.2 95.7,303.0 C92.8,304.8 93.0,306.5 90.9,307.8 C88.8,309.1 86.4,310.5 82.9,311.0 C79.4,311.5 74.6,311.8 70.1,311.0 C65.6,310.2 59.8,308.9 55.8,306.2 C51.8,303.5 48.6,299.5 46.2,295.0 C43.8,290.5 42.5,284.9 41.4,279.0 C40.3,273.1 39.8,265.8 39.8,259.9 C39.8,254.0 40.8,248.7 41.4,243.9 C42.0,239.1 42.5,235.0 43.5,231.1 C44.5,227.2 45.9,224.0 47.3,220.7 C48.7,217.4 50.4,213.9 52.0,211.2 C53.6,208.5 54.9,206.6 56.8,204.6 C58.7,202.6 60.8,201.0 63.5,198.9 C66.2,196.8 69.8,194.2 73.0,192.2 C76.2,190.2 79.2,188.1 82.4,187.0 C85.6,185.9 88.9,185.7 92.0,185.6 C95.1,185.5 98.7,185.7 101.0,186.2 C103.3,186.7 104.7,187.5 106.0,188.5 C107.3,189.5 107.8,192.0 108.6,192.0Z"/></clipPath><g clip-path="url(#kc13)"><path d="M108.6,192.0 C109.4,192.0 109.8,189.4 111.0,188.5 C112.2,187.6 113.6,187.0 116.0,186.5 C118.4,186.0 122.8,185.4 125.6,185.6 C128.4,185.8 130.6,186.6 133.0,187.5 C135.4,188.4 137.2,189.4 140.0,191.2 C142.8,193.0 146.6,195.9 150.0,198.5 C153.4,201.1 158.0,203.9 160.7,206.5 C163.4,209.1 164.4,211.2 166.0,214.0 C167.6,216.8 168.5,218.1 170.3,223.1 C172.1,228.1 175.4,237.2 176.7,243.9 C178.0,250.6 178.3,257.2 178.3,263.1 C178.3,269.0 177.8,273.7 176.7,279.0 C175.6,284.3 174.0,290.5 171.9,295.0 C169.8,299.5 167.4,303.3 163.9,306.2 C160.4,309.1 155.9,311.5 151.1,312.6 C146.3,313.7 139.3,313.4 135.1,312.6 C130.8,311.8 128.0,309.7 125.6,307.8 C123.2,305.9 123.6,303.2 120.8,301.4 C118.0,299.6 112.8,296.7 108.6,297.0 C104.4,297.3 98.7,301.2 95.7,303.0 C92.8,304.8 93.0,306.5 90.9,307.8 C88.8,309.1 86.4,310.5 82.9,311.0 C79.4,311.5 74.6,311.8 70.1,311.0 C65.6,310.2 59.8,308.9 55.8,306.2 C51.8,303.5 48.6,299.5 46.2,295.0 C43.8,290.5 42.5,284.9 41.4,279.0 C40.3,273.1 39.8,265.8 39.8,259.9 C39.8,254.0 40.8,248.7 41.4,243.9 C42.0,239.1 42.5,235.0 43.5,231.1 C44.5,227.2 45.9,224.0 47.3,220.7 C48.7,217.4 50.4,213.9 52.0,211.2 C53.6,208.5 54.9,206.6 56.8,204.6 C58.7,202.6 60.8,201.0 63.5,198.9 C66.2,196.8 69.8,194.2 73.0,192.2 C76.2,190.2 79.2,188.1 82.4,187.0 C85.6,185.9 88.9,185.7 92.0,185.6 C95.1,185.5 98.7,185.7 101.0,186.2 C103.3,186.7 104.7,187.5 106.0,188.5 C107.3,189.5 107.8,192.0 108.6,192.0Z" fill="#2079c4"/><path d="M47.3,235.9 L68.0,229.4 L84.0,226.2 L100.0,226.2 L104.0,221.5 L103.0,206.0 L100.0,189.9 L111.1,189.5 L111.1,228.0 L114.7,228.0 L133.9,226.2 L150.0,229.4 L162.8,223.0 L157.9,232.7 L161.1,244.0 L167.5,259.8 L166.0,264.7 L150.0,256.6 L133.9,250.4 L117.9,244.0 L111.5,242.3 L103.2,242.3 L91.9,242.3 L75.9,248.7 L64.8,259.8 L66.3,274.3 L47.3,275.8Z" fill="#0d3796"/><path d="M84.0,266.2 L96.8,256.6 L104.7,250.4 L111.1,255.1 L111.5,263.0 L116.4,275.8 L108.3,275.8 L100.0,272.6Z" fill="#0d3796"/><path d="M116.4,189.5 L129.0,191.0 L129.0,195.9 L116.4,195.9Z" fill="#0d3796"/><path d="M170.7,283.9 L174.1,290.1 L167.5,301.4 L162.8,298.2Z" fill="#0d3796"/><path d="M95.1,246.1 L108.1,242.9 L116.0,249.9 L110.0,257.0 L98.1,255.1Z" fill="#22b2b8"/><path d="M80.8,283.9 L100.0,280.7 L116.0,282.2 L116.0,295.0 L91.9,298.2 L80.8,298.2Z" fill="#22b2b8"/><path d="M126.0,266.2 L138.6,261.5 L150.0,275.8 L146.8,291.8 L133.9,291.8 L126.0,301.4 L124.3,279.0Z" fill="#22b2b8"/><path d="M56.0,210.0 L63.9,214.1 L62.0,216.0 L54.1,211.9Z" fill="#22b2b8"/><path d="M108.7,189.9 C108.9,192.8 109.1,200.6 109.4,207.0 C109.6,213.4 110.0,223.0 110.2,228.4 C110.5,233.7 110.8,237.3 110.9,239.1" fill="none" stroke="#e0241e" stroke-width="1.6"/><path d="M108.6,192.0 C109.4,192.0 109.8,189.4 111.0,188.5 C112.2,187.6 113.6,187.0 116.0,186.5 C118.4,186.0 122.8,185.4 125.6,185.6 C128.4,185.8 130.6,186.6 133.0,187.5 C135.4,188.4 137.2,189.4 140.0,191.2 C142.8,193.0 146.6,195.9 150.0,198.5 C153.4,201.1 158.0,203.9 160.7,206.5 C163.4,209.1 164.4,211.2 166.0,214.0 C167.6,216.8 168.5,218.1 170.3,223.1 C172.1,228.1 175.4,237.2 176.7,243.9 C178.0,250.6 178.3,257.2 178.3,263.1 C178.3,269.0 177.8,273.7 176.7,279.0 C175.6,284.3 174.0,290.5 171.9,295.0 C169.8,299.5 167.4,303.3 163.9,306.2 C160.4,309.1 155.9,311.5 151.1,312.6 C146.3,313.7 139.3,313.4 135.1,312.6 C130.8,311.8 128.0,309.7 125.6,307.8 C123.2,305.9 123.6,303.2 120.8,301.4 C118.0,299.6 112.8,296.7 108.6,297.0 C104.4,297.3 98.7,301.2 95.7,303.0 C92.8,304.8 93.0,306.5 90.9,307.8 C88.8,309.1 86.4,310.5 82.9,311.0 C79.4,311.5 74.6,311.8 70.1,311.0 C65.6,310.2 59.8,308.9 55.8,306.2 C51.8,303.5 48.6,299.5 46.2,295.0 C43.8,290.5 42.5,284.9 41.4,279.0 C40.3,273.1 39.8,265.8 39.8,259.9 C39.8,254.0 40.8,248.7 41.4,243.9 C42.0,239.1 42.5,235.0 43.5,231.1 C44.5,227.2 45.9,224.0 47.3,220.7 C48.7,217.4 50.4,213.9 52.0,211.2 C53.6,208.5 54.9,206.6 56.8,204.6 C58.7,202.6 60.8,201.0 63.5,198.9 C66.2,196.8 69.8,194.2 73.0,192.2 C76.2,190.2 79.2,188.1 82.4,187.0 C85.6,185.9 88.9,185.7 92.0,185.6 C95.1,185.5 98.7,185.7 101.0,186.2 C103.3,186.7 104.7,187.5 106.0,188.5 C107.3,189.5 107.8,192.0 108.6,192.0Z" fill="none" stroke="#5eb93a" stroke-width="5.6"/><path d="M52.0,211.2 C52.8,210.1 54.9,206.6 56.8,204.6 C58.7,202.6 60.8,201.0 63.5,198.9 C66.2,196.8 69.8,194.2 73.0,192.2 C76.2,190.2 79.2,188.1 82.4,187.0 C85.6,185.9 88.9,185.7 92.0,185.6 C95.1,185.5 98.7,185.7 101.0,186.2 C103.3,186.7 105.2,188.1 106.0,188.5" fill="none" stroke="#e0241e" stroke-width="4.76" stroke-linecap="round"/><path d="M108.6,192.0 C109.0,191.4 109.8,189.4 111.0,188.5 C112.2,187.6 113.6,187.0 116.0,186.5 C118.4,186.0 124.0,185.8 125.6,185.6" fill="none" stroke="#e0241e" stroke-width="4.76" stroke-linecap="round"/><path d="M108.6,192.0 C109.4,192.0 109.8,189.4 111.0,188.5 C112.2,187.6 113.6,187.0 116.0,186.5 C118.4,186.0 122.8,185.4 125.6,185.6 C128.4,185.8 130.6,186.6 133.0,187.5 C135.4,188.4 137.2,189.4 140.0,191.2 C142.8,193.0 146.6,195.9 150.0,198.5 C153.4,201.1 158.0,203.9 160.7,206.5 C163.4,209.1 164.4,211.2 166.0,214.0 C167.6,216.8 168.5,218.1 170.3,223.1 C172.1,228.1 175.4,237.2 176.7,243.9 C178.0,250.6 178.3,257.2 178.3,263.1 C178.3,269.0 177.8,273.7 176.7,279.0 C175.6,284.3 174.0,290.5 171.9,295.0 C169.8,299.5 167.4,303.3 163.9,306.2 C160.4,309.1 155.9,311.5 151.1,312.6 C146.3,313.7 139.3,313.4 135.1,312.6 C130.8,311.8 128.0,309.7 125.6,307.8 C123.2,305.9 123.6,303.2 120.8,301.4 C118.0,299.6 112.8,296.7 108.6,297.0 C104.4,297.3 98.7,301.2 95.7,303.0 C92.8,304.8 93.0,306.5 90.9,307.8 C88.8,309.1 86.4,310.5 82.9,311.0 C79.4,311.5 74.6,311.8 70.1,311.0 C65.6,310.2 59.8,308.9 55.8,306.2 C51.8,303.5 48.6,299.5 46.2,295.0 C43.8,290.5 42.5,284.9 41.4,279.0 C40.3,273.1 39.8,265.8 39.8,259.9 C39.8,254.0 40.8,248.7 41.4,243.9 C42.0,239.1 42.5,235.0 43.5,231.1 C44.5,227.2 45.9,224.0 47.3,220.7 C48.7,217.4 50.4,213.9 52.0,211.2 C53.6,208.5 54.9,206.6 56.8,204.6 C58.7,202.6 60.8,201.0 63.5,198.9 C66.2,196.8 69.8,194.2 73.0,192.2 C76.2,190.2 79.2,188.1 82.4,187.0 C85.6,185.9 88.9,185.7 92.0,185.6 C95.1,185.5 98.7,185.7 101.0,186.2 C103.3,186.7 104.7,187.5 106.0,188.5 C107.3,189.5 107.8,192.0 108.6,192.0Z" fill="none" stroke="#22b2b8" stroke-width="2.0"/></g><path d="M95.7,298.5 C96.5,296.8 99.8,296.1 102.0,295.5 C104.2,294.9 106.4,295.0 108.6,295.0 C110.8,295.0 112.8,294.8 115.0,295.5 C117.2,296.2 120.7,297.2 121.5,299.0 C122.3,300.8 121.2,303.8 120.0,306.0 C118.8,308.2 115.9,311.1 114.0,312.5 C112.1,313.9 110.4,314.5 108.6,314.5 C106.8,314.5 104.8,313.9 103.0,312.5 C101.2,311.1 98.7,308.3 97.5,306.0 C96.3,303.7 95.0,300.2 95.7,298.5Z" fill="#0d3796"/></g><g transform="translate(169,390)"><clipPath id="kc14"><path d="M108.6,192.0 C109.4,192.0 109.8,189.4 111.0,188.5 C112.2,187.6 113.6,187.0 116.0,186.5 C118.4,186.0 122.8,185.4 125.6,185.6 C128.4,185.8 130.6,186.6 133.0,187.5 C135.4,188.4 137.2,189.4 140.0,191.2 C142.8,193.0 146.6,195.9 150.0,198.5 C153.4,201.1 158.0,203.9 160.7,206.5 C163.4,209.1 164.4,211.2 166.0,214.0 C167.6,216.8 168.5,218.1 170.3,223.1 C172.1,228.1 175.4,237.2 176.7,243.9 C178.0,250.6 178.3,257.2 178.3,263.1 C178.3,269.0 177.8,273.7 176.7,279.0 C175.6,284.3 174.0,290.5 171.9,295.0 C169.8,299.5 167.4,303.3 163.9,306.2 C160.4,309.1 155.9,311.5 151.1,312.6 C146.3,313.7 139.3,313.4 135.1,312.6 C130.8,311.8 128.0,309.7 125.6,307.8 C123.2,305.9 123.6,303.2 120.8,301.4 C118.0,299.6 112.8,296.7 108.6,297.0 C104.4,297.3 98.7,301.2 95.7,303.0 C92.8,304.8 93.0,306.5 90.9,307.8 C88.8,309.1 86.4,310.5 82.9,311.0 C79.4,311.5 74.6,311.8 70.1,311.0 C65.6,310.2 59.8,308.9 55.8,306.2 C51.8,303.5 48.6,299.5 46.2,295.0 C43.8,290.5 42.5,284.9 41.4,279.0 C40.3,273.1 39.8,265.8 39.8,259.9 C39.8,254.0 40.8,248.7 41.4,243.9 C42.0,239.1 42.5,235.0 43.5,231.1 C44.5,227.2 45.9,224.0 47.3,220.7 C48.7,217.4 50.4,213.9 52.0,211.2 C53.6,208.5 54.9,206.6 56.8,204.6 C58.7,202.6 60.8,201.0 63.5,198.9 C66.2,196.8 69.8,194.2 73.0,192.2 C76.2,190.2 79.2,188.1 82.4,187.0 C85.6,185.9 88.9,185.7 92.0,185.6 C95.1,185.5 98.7,185.7 101.0,186.2 C103.3,186.7 104.7,187.5 106.0,188.5 C107.3,189.5 107.8,192.0 108.6,192.0Z"/></clipPath><g clip-path="url(#kc14)"><path d="M108.6,192.0 C109.4,192.0 109.8,189.4 111.0,188.5 C112.2,187.6 113.6,187.0 116.0,186.5 C118.4,186.0 122.8,185.4 125.6,185.6 C128.4,185.8 130.6,186.6 133.0,187.5 C135.4,188.4 137.2,189.4 140.0,191.2 C142.8,193.0 146.6,195.9 150.0,198.5 C153.4,201.1 158.0,203.9 160.7,206.5 C163.4,209.1 164.4,211.2 166.0,214.0 C167.6,216.8 168.5,218.1 170.3,223.1 C172.1,228.1 175.4,237.2 176.7,243.9 C178.0,250.6 178.3,257.2 178.3,263.1 C178.3,269.0 177.8,273.7 176.7,279.0 C175.6,284.3 174.0,290.5 171.9,295.0 C169.8,299.5 167.4,303.3 163.9,306.2 C160.4,309.1 155.9,311.5 151.1,312.6 C146.3,313.7 139.3,313.4 135.1,312.6 C130.8,311.8 128.0,309.7 125.6,307.8 C123.2,305.9 123.6,303.2 120.8,301.4 C118.0,299.6 112.8,296.7 108.6,297.0 C104.4,297.3 98.7,301.2 95.7,303.0 C92.8,304.8 93.0,306.5 90.9,307.8 C88.8,309.1 86.4,310.5 82.9,311.0 C79.4,311.5 74.6,311.8 70.1,311.0 C65.6,310.2 59.8,308.9 55.8,306.2 C51.8,303.5 48.6,299.5 46.2,295.0 C43.8,290.5 42.5,284.9 41.4,279.0 C40.3,273.1 39.8,265.8 39.8,259.9 C39.8,254.0 40.8,248.7 41.4,243.9 C42.0,239.1 42.5,235.0 43.5,231.1 C44.5,227.2 45.9,224.0 47.3,220.7 C48.7,217.4 50.4,213.9 52.0,211.2 C53.6,208.5 54.9,206.6 56.8,204.6 C58.7,202.6 60.8,201.0 63.5,198.9 C66.2,196.8 69.8,194.2 73.0,192.2 C76.2,190.2 79.2,188.1 82.4,187.0 C85.6,185.9 88.9,185.7 92.0,185.6 C95.1,185.5 98.7,185.7 101.0,186.2 C103.3,186.7 104.7,187.5 106.0,188.5 C107.3,189.5 107.8,192.0 108.6,192.0Z" fill="#5eb93a"/><path d="M80.1,197.0 L99.1,197.0 L101.0,216.0 L82.0,217.1Z" fill="#96c63a"/><path d="M90.9,204.0 L95.6,204.0 L95.6,211.9 L90.9,211.9Z" fill="#d8da2c"/><path d="M58.9,208.1 L70.0,214.1 L69.0,216.0 L58.1,210.0Z" fill="#f08a1e"/><path d="M44.6,232.7 L66.8,224.8 L87.7,219.8 L107.0,219.8 L107.0,232.7 L87.7,234.4 L66.8,239.1 L44.6,244.0Z" fill="#5cbd98"/><path d="M42.9,247.2 L58.9,239.1 L82.8,232.7 L102.0,228.0 L107.0,228.0 L102.0,237.6 L79.6,244.0 L60.4,256.6 L47.8,272.6 L41.0,267.9Z" fill="#22b2b8"/><path d="M115.7,192.7 L142.8,195.9 L155.6,208.7 L142.8,211.9 L118.9,204.0Z" fill="#22b2b8"/><path d="M131.7,224.8 L150.9,231.2 L170.2,244.0 L173.4,263.0 L158.8,269.4 L142.8,256.6 L127.0,244.0Z" fill="#5cbd98"/><path d="M109.1,222.0 L127.0,222.0 L131.1,238.0 L111.0,238.0Z" fill="#22b2b8"/><path d="M118.9,224.8 L127.0,226.0 L127.0,231.2 L118.9,231.2Z" fill="#2079c4"/><path d="M97.4,226.2 L105.3,227.1 L105.3,232.7 L98.0,232.0Z" fill="#2079c4"/><path d="M131.1,210.0 L143.0,204.9 L145.0,210.0 L133.0,217.1Z" fill="#96c63a"/><path d="M80.9,258.1 L101.0,260.0 L106.1,277.9 L83.0,280.1Z" fill="#5cbd98"/><path d="M82.8,266.2 L92.4,266.2 L92.4,272.6 L82.8,272.6Z" fill="#2079c4"/><path d="M118.1,261.9 L149.0,260.0 L164.0,277.9 L156.9,299.9 L131.1,302.0 L115.9,290.1Z" fill="#96c63a"/><path d="M123.8,271.1 L142.8,269.4 L154.1,279.0 L150.9,291.8 L134.9,295.0 L125.3,288.6Z" fill="#d8da2c"/><path d="M89.0,246.1 L109.1,242.9 L124.9,248.0 L121.1,260.0 L102.9,261.9 L90.9,257.0Z" fill="#e6d634"/><path d="M90.9,248.7 L108.5,245.5 L122.1,247.2 L123.8,253.6 L112.5,259.8 L102.0,259.8 L95.6,256.6Z" fill="#e0241e"/><path d="M74.9,282.0 L99.1,283.0 L107.0,296.9 L83.0,299.9Z" fill="#dcd830"/><path d="M79.0,287.1 L93.1,287.1 L101.0,290.9 L96.9,296.1 L85.0,296.9Z" fill="#f08a1e"/><path d="M102.9,285.0 L115.9,290.1 L114.0,299.9 L102.9,298.0Z" fill="#f08a1e"/><path d="M110.0,189.9 C110.8,192.8 114.2,201.3 115.3,207.0 C116.4,212.7 116.5,218.4 116.4,224.1 C116.2,229.8 114.6,238.3 114.2,241.2" fill="none" stroke="#e0241e" stroke-width="1.8"/><path d="M108.6,192.0 C109.4,192.0 109.8,189.4 111.0,188.5 C112.2,187.6 113.6,187.0 116.0,186.5 C118.4,186.0 122.8,185.4 125.6,185.6 C128.4,185.8 130.6,186.6 133.0,187.5 C135.4,188.4 137.2,189.4 140.0,191.2 C142.8,193.0 146.6,195.9 150.0,198.5 C153.4,201.1 158.0,203.9 160.7,206.5 C163.4,209.1 164.4,211.2 166.0,214.0 C167.6,216.8 168.5,218.1 170.3,223.1 C172.1,228.1 175.4,237.2 176.7,243.9 C178.0,250.6 178.3,257.2 178.3,263.1 C178.3,269.0 177.8,273.7 176.7,279.0 C175.6,284.3 174.0,290.5 171.9,295.0 C169.8,299.5 167.4,303.3 163.9,306.2 C160.4,309.1 155.9,311.5 151.1,312.6 C146.3,313.7 139.3,313.4 135.1,312.6 C130.8,311.8 128.0,309.7 125.6,307.8 C123.2,305.9 123.6,303.2 120.8,301.4 C118.0,299.6 112.8,296.7 108.6,297.0 C104.4,297.3 98.7,301.2 95.7,303.0 C92.8,304.8 93.0,306.5 90.9,307.8 C88.8,309.1 86.4,310.5 82.9,311.0 C79.4,311.5 74.6,311.8 70.1,311.0 C65.6,310.2 59.8,308.9 55.8,306.2 C51.8,303.5 48.6,299.5 46.2,295.0 C43.8,290.5 42.5,284.9 41.4,279.0 C40.3,273.1 39.8,265.8 39.8,259.9 C39.8,254.0 40.8,248.7 41.4,243.9 C42.0,239.1 42.5,235.0 43.5,231.1 C44.5,227.2 45.9,224.0 47.3,220.7 C48.7,217.4 50.4,213.9 52.0,211.2 C53.6,208.5 54.9,206.6 56.8,204.6 C58.7,202.6 60.8,201.0 63.5,198.9 C66.2,196.8 69.8,194.2 73.0,192.2 C76.2,190.2 79.2,188.1 82.4,187.0 C85.6,185.9 88.9,185.7 92.0,185.6 C95.1,185.5 98.7,185.7 101.0,186.2 C103.3,186.7 104.7,187.5 106.0,188.5 C107.3,189.5 107.8,192.0 108.6,192.0Z" fill="none" stroke="#e0241e" stroke-width="7.2"/></g><path d="M95.7,298.5 C96.5,296.8 99.8,296.1 102.0,295.5 C104.2,294.9 106.4,295.0 108.6,295.0 C110.8,295.0 112.8,294.8 115.0,295.5 C117.2,296.2 120.7,297.2 121.5,299.0 C122.3,300.8 121.2,303.8 120.0,306.0 C118.8,308.2 115.9,311.1 114.0,312.5 C112.1,313.9 110.4,314.5 108.6,314.5 C106.8,314.5 104.8,313.9 103.0,312.5 C101.2,311.1 98.7,308.3 97.5,306.0 C96.3,303.7 95.0,300.2 95.7,298.5Z" fill="#0d3796"/></g><g transform="translate(350,389)"><clipPath id="kc15"><path d="M108.6,192.0 C109.4,192.0 109.8,189.4 111.0,188.5 C112.2,187.6 113.6,187.0 116.0,186.5 C118.4,186.0 122.8,185.4 125.6,185.6 C128.4,185.8 130.6,186.6 133.0,187.5 C135.4,188.4 137.2,189.4 140.0,191.2 C142.8,193.0 146.6,195.9 150.0,198.5 C153.4,201.1 158.0,203.9 160.7,206.5 C163.4,209.1 164.4,211.2 166.0,214.0 C167.6,216.8 168.5,218.1 170.3,223.1 C172.1,228.1 175.4,237.2 176.7,243.9 C178.0,250.6 178.3,257.2 178.3,263.1 C178.3,269.0 177.8,273.7 176.7,279.0 C175.6,284.3 174.0,290.5 171.9,295.0 C169.8,299.5 167.4,303.3 163.9,306.2 C160.4,309.1 155.9,311.5 151.1,312.6 C146.3,313.7 139.3,313.4 135.1,312.6 C130.8,311.8 128.0,309.7 125.6,307.8 C123.2,305.9 123.6,303.2 120.8,301.4 C118.0,299.6 112.8,296.7 108.6,297.0 C104.4,297.3 98.7,301.2 95.7,303.0 C92.8,304.8 93.0,306.5 90.9,307.8 C88.8,309.1 86.4,310.5 82.9,311.0 C79.4,311.5 74.6,311.8 70.1,311.0 C65.6,310.2 59.8,308.9 55.8,306.2 C51.8,303.5 48.6,299.5 46.2,295.0 C43.8,290.5 42.5,284.9 41.4,279.0 C40.3,273.1 39.8,265.8 39.8,259.9 C39.8,254.0 40.8,248.7 41.4,243.9 C42.0,239.1 42.5,235.0 43.5,231.1 C44.5,227.2 45.9,224.0 47.3,220.7 C48.7,217.4 50.4,213.9 52.0,211.2 C53.6,208.5 54.9,206.6 56.8,204.6 C58.7,202.6 60.8,201.0 63.5,198.9 C66.2,196.8 69.8,194.2 73.0,192.2 C76.2,190.2 79.2,188.1 82.4,187.0 C85.6,185.9 88.9,185.7 92.0,185.6 C95.1,185.5 98.7,185.7 101.0,186.2 C103.3,186.7 104.7,187.5 106.0,188.5 C107.3,189.5 107.8,192.0 108.6,192.0Z"/></clipPath><g clip-path="url(#kc15)"><path d="M108.6,192.0 C109.4,192.0 109.8,189.4 111.0,188.5 C112.2,187.6 113.6,187.0 116.0,186.5 C118.4,186.0 122.8,185.4 125.6,185.6 C128.4,185.8 130.6,186.6 133.0,187.5 C135.4,188.4 137.2,189.4 140.0,191.2 C142.8,193.0 146.6,195.9 150.0,198.5 C153.4,201.1 158.0,203.9 160.7,206.5 C163.4,209.1 164.4,211.2 166.0,214.0 C167.6,216.8 168.5,218.1 170.3,223.1 C172.1,228.1 175.4,237.2 176.7,243.9 C178.0,250.6 178.3,257.2 178.3,263.1 C178.3,269.0 177.8,273.7 176.7,279.0 C175.6,284.3 174.0,290.5 171.9,295.0 C169.8,299.5 167.4,303.3 163.9,306.2 C160.4,309.1 155.9,311.5 151.1,312.6 C146.3,313.7 139.3,313.4 135.1,312.6 C130.8,311.8 128.0,309.7 125.6,307.8 C123.2,305.9 123.6,303.2 120.8,301.4 C118.0,299.6 112.8,296.7 108.6,297.0 C104.4,297.3 98.7,301.2 95.7,303.0 C92.8,304.8 93.0,306.5 90.9,307.8 C88.8,309.1 86.4,310.5 82.9,311.0 C79.4,311.5 74.6,311.8 70.1,311.0 C65.6,310.2 59.8,308.9 55.8,306.2 C51.8,303.5 48.6,299.5 46.2,295.0 C43.8,290.5 42.5,284.9 41.4,279.0 C40.3,273.1 39.8,265.8 39.8,259.9 C39.8,254.0 40.8,248.7 41.4,243.9 C42.0,239.1 42.5,235.0 43.5,231.1 C44.5,227.2 45.9,224.0 47.3,220.7 C48.7,217.4 50.4,213.9 52.0,211.2 C53.6,208.5 54.9,206.6 56.8,204.6 C58.7,202.6 60.8,201.0 63.5,198.9 C66.2,196.8 69.8,194.2 73.0,192.2 C76.2,190.2 79.2,188.1 82.4,187.0 C85.6,185.9 88.9,185.7 92.0,185.6 C95.1,185.5 98.7,185.7 101.0,186.2 C103.3,186.7 104.7,187.5 106.0,188.5 C107.3,189.5 107.8,192.0 108.6,192.0Z" fill="#22b2b8"/><path d="M49.9,211.0 L65.1,201.0 L81.9,199.1 L94.9,211.0 L102.0,228.1 L110.1,211.0 L125.1,201.0 L150.0,201.0 L165.0,215.9 L171.0,240.9 L171.0,286.0 L154.9,299.0 L130.0,299.0 L112.0,296.0 L102.0,289.0 L90.0,296.0 L65.1,299.0 L49.9,286.0 L46.0,250.9Z" fill="#2079c4"/><path d="M83.0,195.4 L105.2,193.7 L119.9,195.0 L133.0,202.9 L121.2,227.2 L115.0,229.0 L102.2,227.2 L90.9,232.2 L81.3,219.3 L78.1,205.0Z" fill="#22b2b8"/><path d="M89.0,196.1 L102.0,196.1 L102.0,204.0 L89.0,204.0Z" fill="#5eb93a"/><path d="M112.0,195.0 L122.1,195.0 L119.9,202.0 L112.0,202.0Z" fill="#5eb93a"/><path d="M55.9,219.3 L65.3,212.9 L76.6,209.7 L79.8,220.8 L90.9,233.7 L102.2,227.2 L121.2,227.2 L133.8,205.0 L143.4,201.8 L149.8,208.0 L146.6,225.8 L156.2,232.2 L159.4,241.8 L165.8,252.9 L169.0,264.0 L154.7,270.4 L143.4,257.6 L125.9,256.1 L108.4,260.8 L99.0,264.0 L83.0,264.0 L71.7,270.4 L59.1,276.8 L54.2,273.6 L55.9,260.8 L59.1,229.0Z" fill="#0d3796"/><path d="M49.9,278.9 L81.9,272.9 L102.0,271.0 L125.9,268.0 L154.9,278.9 L172.0,291.1 L165.0,310.9 L130.0,316.1 L102.0,306.0 L70.0,316.1 L48.0,306.0Z" fill="#22b2b8"/><path d="M81.9,283.0 L102.0,280.0 L119.9,284.0 L118.0,297.1 L102.0,294.9 L86.0,299.0Z" fill="#5cbd98"/><path d="M109.3,190.9 C108.6,194.5 105.7,205.9 105.4,212.3 C105.1,218.7 106.5,223.7 107.5,229.4 C108.6,235.1 111.1,243.6 111.8,246.5" fill="none" stroke="#e0241e" stroke-width="1.5"/><path d="M108.6,192.0 C109.4,192.0 109.8,189.4 111.0,188.5 C112.2,187.6 113.6,187.0 116.0,186.5 C118.4,186.0 122.8,185.4 125.6,185.6 C128.4,185.8 130.6,186.6 133.0,187.5 C135.4,188.4 137.2,189.4 140.0,191.2 C142.8,193.0 146.6,195.9 150.0,198.5 C153.4,201.1 158.0,203.9 160.7,206.5 C163.4,209.1 164.4,211.2 166.0,214.0 C167.6,216.8 168.5,218.1 170.3,223.1 C172.1,228.1 175.4,237.2 176.7,243.9 C178.0,250.6 178.3,257.2 178.3,263.1 C178.3,269.0 177.8,273.7 176.7,279.0 C175.6,284.3 174.0,290.5 171.9,295.0 C169.8,299.5 167.4,303.3 163.9,306.2 C160.4,309.1 155.9,311.5 151.1,312.6 C146.3,313.7 139.3,313.4 135.1,312.6 C130.8,311.8 128.0,309.7 125.6,307.8 C123.2,305.9 123.6,303.2 120.8,301.4 C118.0,299.6 112.8,296.7 108.6,297.0 C104.4,297.3 98.7,301.2 95.7,303.0 C92.8,304.8 93.0,306.5 90.9,307.8 C88.8,309.1 86.4,310.5 82.9,311.0 C79.4,311.5 74.6,311.8 70.1,311.0 C65.6,310.2 59.8,308.9 55.8,306.2 C51.8,303.5 48.6,299.5 46.2,295.0 C43.8,290.5 42.5,284.9 41.4,279.0 C40.3,273.1 39.8,265.8 39.8,259.9 C39.8,254.0 40.8,248.7 41.4,243.9 C42.0,239.1 42.5,235.0 43.5,231.1 C44.5,227.2 45.9,224.0 47.3,220.7 C48.7,217.4 50.4,213.9 52.0,211.2 C53.6,208.5 54.9,206.6 56.8,204.6 C58.7,202.6 60.8,201.0 63.5,198.9 C66.2,196.8 69.8,194.2 73.0,192.2 C76.2,190.2 79.2,188.1 82.4,187.0 C85.6,185.9 88.9,185.7 92.0,185.6 C95.1,185.5 98.7,185.7 101.0,186.2 C103.3,186.7 104.7,187.5 106.0,188.5 C107.3,189.5 107.8,192.0 108.6,192.0Z" fill="none" stroke="#e0241e" stroke-width="7.6"/></g><path d="M95.7,298.5 C96.5,296.8 99.8,296.1 102.0,295.5 C104.2,294.9 106.4,295.0 108.6,295.0 C110.8,295.0 112.8,294.8 115.0,295.5 C117.2,296.2 120.7,297.2 121.5,299.0 C122.3,300.8 121.2,303.8 120.0,306.0 C118.8,308.2 115.9,311.1 114.0,312.5 C112.1,313.9 110.4,314.5 108.6,314.5 C106.8,314.5 104.8,313.9 103.0,312.5 C101.2,311.1 98.7,308.3 97.5,306.0 C96.3,303.7 95.0,300.2 95.7,298.5Z" fill="#0d3796"/></g><g transform="translate(514,389)"><clipPath id="kc16"><path d="M108.6,192.0 C109.4,192.0 109.8,189.4 111.0,188.5 C112.2,187.6 113.6,187.0 116.0,186.5 C118.4,186.0 122.8,185.4 125.6,185.6 C128.4,185.8 130.6,186.6 133.0,187.5 C135.4,188.4 137.2,189.4 140.0,191.2 C142.8,193.0 146.6,195.9 150.0,198.5 C153.4,201.1 158.0,203.9 160.7,206.5 C163.4,209.1 164.4,211.2 166.0,214.0 C167.6,216.8 168.5,218.1 170.3,223.1 C172.1,228.1 175.4,237.2 176.7,243.9 C178.0,250.6 178.3,257.2 178.3,263.1 C178.3,269.0 177.8,273.7 176.7,279.0 C175.6,284.3 174.0,290.5 171.9,295.0 C169.8,299.5 167.4,303.3 163.9,306.2 C160.4,309.1 155.9,311.5 151.1,312.6 C146.3,313.7 139.3,313.4 135.1,312.6 C130.8,311.8 128.0,309.7 125.6,307.8 C123.2,305.9 123.6,303.2 120.8,301.4 C118.0,299.6 112.8,296.7 108.6,297.0 C104.4,297.3 98.7,301.2 95.7,303.0 C92.8,304.8 93.0,306.5 90.9,307.8 C88.8,309.1 86.4,310.5 82.9,311.0 C79.4,311.5 74.6,311.8 70.1,311.0 C65.6,310.2 59.8,308.9 55.8,306.2 C51.8,303.5 48.6,299.5 46.2,295.0 C43.8,290.5 42.5,284.9 41.4,279.0 C40.3,273.1 39.8,265.8 39.8,259.9 C39.8,254.0 40.8,248.7 41.4,243.9 C42.0,239.1 42.5,235.0 43.5,231.1 C44.5,227.2 45.9,224.0 47.3,220.7 C48.7,217.4 50.4,213.9 52.0,211.2 C53.6,208.5 54.9,206.6 56.8,204.6 C58.7,202.6 60.8,201.0 63.5,198.9 C66.2,196.8 69.8,194.2 73.0,192.2 C76.2,190.2 79.2,188.1 82.4,187.0 C85.6,185.9 88.9,185.7 92.0,185.6 C95.1,185.5 98.7,185.7 101.0,186.2 C103.3,186.7 104.7,187.5 106.0,188.5 C107.3,189.5 107.8,192.0 108.6,192.0Z"/></clipPath><g clip-path="url(#kc16)"><path d="M108.6,192.0 C109.4,192.0 109.8,189.4 111.0,188.5 C112.2,187.6 113.6,187.0 116.0,186.5 C118.4,186.0 122.8,185.4 125.6,185.6 C128.4,185.8 130.6,186.6 133.0,187.5 C135.4,188.4 137.2,189.4 140.0,191.2 C142.8,193.0 146.6,195.9 150.0,198.5 C153.4,201.1 158.0,203.9 160.7,206.5 C163.4,209.1 164.4,211.2 166.0,214.0 C167.6,216.8 168.5,218.1 170.3,223.1 C172.1,228.1 175.4,237.2 176.7,243.9 C178.0,250.6 178.3,257.2 178.3,263.1 C178.3,269.0 177.8,273.7 176.7,279.0 C175.6,284.3 174.0,290.5 171.9,295.0 C169.8,299.5 167.4,303.3 163.9,306.2 C160.4,309.1 155.9,311.5 151.1,312.6 C146.3,313.7 139.3,313.4 135.1,312.6 C130.8,311.8 128.0,309.7 125.6,307.8 C123.2,305.9 123.6,303.2 120.8,301.4 C118.0,299.6 112.8,296.7 108.6,297.0 C104.4,297.3 98.7,301.2 95.7,303.0 C92.8,304.8 93.0,306.5 90.9,307.8 C88.8,309.1 86.4,310.5 82.9,311.0 C79.4,311.5 74.6,311.8 70.1,311.0 C65.6,310.2 59.8,308.9 55.8,306.2 C51.8,303.5 48.6,299.5 46.2,295.0 C43.8,290.5 42.5,284.9 41.4,279.0 C40.3,273.1 39.8,265.8 39.8,259.9 C39.8,254.0 40.8,248.7 41.4,243.9 C42.0,239.1 42.5,235.0 43.5,231.1 C44.5,227.2 45.9,224.0 47.3,220.7 C48.7,217.4 50.4,213.9 52.0,211.2 C53.6,208.5 54.9,206.6 56.8,204.6 C58.7,202.6 60.8,201.0 63.5,198.9 C66.2,196.8 69.8,194.2 73.0,192.2 C76.2,190.2 79.2,188.1 82.4,187.0 C85.6,185.9 88.9,185.7 92.0,185.6 C95.1,185.5 98.7,185.7 101.0,186.2 C103.3,186.7 104.7,187.5 106.0,188.5 C107.3,189.5 107.8,192.0 108.6,192.0Z" fill="#5cbd98"/><path d="M41.1,221.1 L85.9,226.0 L111.1,240.9 L126.1,231.1 L166.0,250.9 L176.0,271.0 L126.1,300.9 L85.9,310.9 L41.1,291.1Z" fill="#22b2b8"/><path d="M111.1,196.1 L155.9,205.9 L166.0,221.1 L126.1,223.0 L111.1,211.0Z" fill="#22b2b8"/><path d="M62.6,206.5 L75.4,196.9 L97.9,192.2 L109.0,193.7 L109.0,221.1 L101.1,212.9 L91.5,201.8 L74.0,205.0 L66.1,211.2Z" fill="#2079c4"/><path d="M81.9,206.5 L101.1,205.0 L102.8,221.1 L88.3,224.0 L75.4,217.6Z" fill="#5cbd98"/><path d="M56.0,221.1 L66.1,224.9 L63.9,229.0 L54.1,224.9Z" fill="#2079c4"/><path d="M85.9,231.1 L111.1,223.0 L117.9,227.2 L132.9,235.4 L152.1,248.2 L148.9,252.9 L132.9,245.0 L117.1,236.9 L106.0,240.9 L88.9,239.0Z" fill="#2079c4"/><path d="M93.0,236.0 L101.1,231.1 L101.9,237.1 L95.1,239.0Z" fill="#0d3796"/><path d="M119.0,229.0 L128.0,233.0 L126.9,237.1 L117.9,234.1Z" fill="#0d3796"/><path d="M137.8,216.1 L153.6,212.9 L156.8,229.0 L144.2,229.0Z" fill="#5eb93a"/><path d="M85.9,246.0 L101.1,240.9 L126.1,243.0 L131.0,259.1 L106.0,261.0 L85.9,256.1Z" fill="#96c63a"/><path d="M93.2,245.0 L106.0,245.0 L118.6,245.0 L121.8,251.4 L110.7,256.1 L104.3,252.9 L96.4,254.6Z" fill="#e0241e"/><path d="M59.4,267.2 L75.4,260.8 L86.8,270.4 L90.0,292.8 L75.4,302.4 L59.4,292.8Z" fill="#5eb93a"/><path d="M72.2,273.6 L80.4,272.1 L83.6,289.6 L75.4,291.3Z" fill="#96c63a"/><path d="M113.9,257.6 L141.0,260.8 L153.6,276.8 L148.9,292.8 L125.0,296.0 L113.9,284.9Z" fill="#5eb93a"/><path d="M128.0,269.1 L138.0,269.1 L139.9,283.0 L129.9,284.9Z" fill="#96c63a"/><path d="M84.0,261.0 L111.1,259.1 L114.1,286.0 L85.9,291.1Z" fill="#5cbd98"/><path d="M86.8,267.2 L101.1,264.0 L109.0,270.4 L104.3,283.2 L91.5,280.0Z" fill="#2079c4"/><path d="M54.1,300.9 L76.1,307.1 L71.0,310.9 L50.9,306.0Z" fill="#2079c4"/><path d="M109.6,190.9 C110.5,195.6 113.9,212.3 115.0,218.7 C116.0,225.1 116.4,225.8 116.0,229.4 C115.7,232.9 113.3,238.3 112.8,240.1" fill="none" stroke="#e0241e" stroke-width="1.8"/><path d="M108.6,192.0 C109.4,192.0 109.8,189.4 111.0,188.5 C112.2,187.6 113.6,187.0 116.0,186.5 C118.4,186.0 122.8,185.4 125.6,185.6 C128.4,185.8 130.6,186.6 133.0,187.5 C135.4,188.4 137.2,189.4 140.0,191.2 C142.8,193.0 146.6,195.9 150.0,198.5 C153.4,201.1 158.0,203.9 160.7,206.5 C163.4,209.1 164.4,211.2 166.0,214.0 C167.6,216.8 168.5,218.1 170.3,223.1 C172.1,228.1 175.4,237.2 176.7,243.9 C178.0,250.6 178.3,257.2 178.3,263.1 C178.3,269.0 177.8,273.7 176.7,279.0 C175.6,284.3 174.0,290.5 171.9,295.0 C169.8,299.5 167.4,303.3 163.9,306.2 C160.4,309.1 155.9,311.5 151.1,312.6 C146.3,313.7 139.3,313.4 135.1,312.6 C130.8,311.8 128.0,309.7 125.6,307.8 C123.2,305.9 123.6,303.2 120.8,301.4 C118.0,299.6 112.8,296.7 108.6,297.0 C104.4,297.3 98.7,301.2 95.7,303.0 C92.8,304.8 93.0,306.5 90.9,307.8 C88.8,309.1 86.4,310.5 82.9,311.0 C79.4,311.5 74.6,311.8 70.1,311.0 C65.6,310.2 59.8,308.9 55.8,306.2 C51.8,303.5 48.6,299.5 46.2,295.0 C43.8,290.5 42.5,284.9 41.4,279.0 C40.3,273.1 39.8,265.8 39.8,259.9 C39.8,254.0 40.8,248.7 41.4,243.9 C42.0,239.1 42.5,235.0 43.5,231.1 C44.5,227.2 45.9,224.0 47.3,220.7 C48.7,217.4 50.4,213.9 52.0,211.2 C53.6,208.5 54.9,206.6 56.8,204.6 C58.7,202.6 60.8,201.0 63.5,198.9 C66.2,196.8 69.8,194.2 73.0,192.2 C76.2,190.2 79.2,188.1 82.4,187.0 C85.6,185.9 88.9,185.7 92.0,185.6 C95.1,185.5 98.7,185.7 101.0,186.2 C103.3,186.7 104.7,187.5 106.0,188.5 C107.3,189.5 107.8,192.0 108.6,192.0Z" fill="none" stroke="#e0241e" stroke-width="7.2"/></g><path d="M95.7,298.5 C96.5,296.8 99.8,296.1 102.0,295.5 C104.2,294.9 106.4,295.0 108.6,295.0 C110.8,295.0 112.8,294.8 115.0,295.5 C117.2,296.2 120.7,297.2 121.5,299.0 C122.3,300.8 121.2,303.8 120.0,306.0 C118.8,308.2 115.9,311.1 114.0,312.5 C112.1,313.9 110.4,314.5 108.6,314.5 C106.8,314.5 104.8,313.9 103.0,312.5 C101.2,311.1 98.7,308.3 97.5,306.0 C96.3,303.7 95.0,300.2 95.7,298.5Z" fill="#0d3796"/></g><text x="71.22" y="40.9" font-size="22" textLength="6.64" lengthAdjust="spacingAndGlyphs"><tspan font-style="italic">t</tspan></text><text x="78.96" y="40.9" font-size="22" textLength="15.4" lengthAdjust="spacingAndGlyphs">=</text><text x="94.97" y="40.9" font-size="22" textLength="54.65" lengthAdjust="spacingAndGlyphs">90 ms</text><text x="233.46" y="40.9" font-size="22" textLength="65.04" lengthAdjust="spacingAndGlyphs">120 ms</text><text x="422.97" y="40.9" font-size="22" textLength="54.96" lengthAdjust="spacingAndGlyphs">90 ms</text><text x="595.46" y="40.9" font-size="22" textLength="65.04" lengthAdjust="spacingAndGlyphs">120 ms</text><text x="71.22" y="433.7" font-size="22" textLength="6.64" lengthAdjust="spacingAndGlyphs"><tspan font-style="italic">t</tspan></text><text x="78.96" y="433.7" font-size="22" textLength="15.4" lengthAdjust="spacingAndGlyphs">=</text><text x="94.97" y="433.7" font-size="22" textLength="54.65" lengthAdjust="spacingAndGlyphs">90 ms</text><text x="233.46" y="433.7" font-size="22" textLength="65.04" lengthAdjust="spacingAndGlyphs">120 ms</text><text x="422.97" y="433.7" font-size="22" textLength="54.96" lengthAdjust="spacingAndGlyphs">90 ms</text><text x="595.46" y="433.7" font-size="22" textLength="65.04" lengthAdjust="spacingAndGlyphs">120 ms</text><text x="85.08" y="344.6" font-size="22" textLength="29.12" lengthAdjust="spacingAndGlyphs">( i )</text><text x="119.16" y="344.6" font-size="22" textLength="59.54" lengthAdjust="spacingAndGlyphs">RPRA</text><text x="179.55" y="344.6" font-size="22" textLength="15.53" lengthAdjust="spacingAndGlyphs">=</text><text x="195.59" y="344.6" font-size="22" textLength="38.92" lengthAdjust="spacingAndGlyphs">2.23</text><text x="239.58" y="344.6" font-size="22" textLength="56.02" lengthAdjust="spacingAndGlyphs">krad·s</text><text x="295.03" y="332.0" font-size="11" textLength="13.71" lengthAdjust="spacingAndGlyphs">−2</text><text x="119.19" y="370.6" font-size="22" textLength="56.56" lengthAdjust="spacingAndGlyphs">RPLA</text><text x="178.84" y="370.6" font-size="22" textLength="14.41" lengthAdjust="spacingAndGlyphs">=</text><text x="193.97" y="370.6" font-size="22" textLength="56.19" lengthAdjust="spacingAndGlyphs">739.13</text><text x="255.44" y="370.6" font-size="22" textLength="31.83" lengthAdjust="spacingAndGlyphs">m·s</text><text x="286.84" y="358.0" font-size="11" textLength="13.59" lengthAdjust="spacingAndGlyphs">−2</text><text x="431.26" y="344.8" font-size="22" textLength="33.48" lengthAdjust="spacingAndGlyphs">( ii )</text><text x="468.98" y="344.8" font-size="22" textLength="58.92" lengthAdjust="spacingAndGlyphs">RPRA</text><text x="529.55" y="344.8" font-size="22" textLength="15.53" lengthAdjust="spacingAndGlyphs">=</text><text x="545.59" y="344.8" font-size="22" textLength="38.92" lengthAdjust="spacingAndGlyphs">6.60</text><text x="588.78" y="344.8" font-size="22" textLength="56.02" lengthAdjust="spacingAndGlyphs">krad·s</text><text x="644.24" y="332.2" font-size="11" textLength="13.59" lengthAdjust="spacingAndGlyphs">−2</text><text x="468.38" y="370.4" font-size="22" textLength="57.38" lengthAdjust="spacingAndGlyphs">RPLA</text><text x="527.05" y="370.4" font-size="22" textLength="15.53" lengthAdjust="spacingAndGlyphs">=</text><text x="543.12" y="370.4" font-size="22" textLength="59.58" lengthAdjust="spacingAndGlyphs">802.63</text><text x="606.98" y="370.4" font-size="22" textLength="33.64" lengthAdjust="spacingAndGlyphs">m·s</text><text x="639.24" y="357.8" font-size="11" textLength="13.59" lengthAdjust="spacingAndGlyphs">−2</text><text x="85.87" y="734.6" font-size="22" textLength="29.44" lengthAdjust="spacingAndGlyphs">( i )</text><text x="119.95" y="734.6" font-size="22" textLength="60.15" lengthAdjust="spacingAndGlyphs">RPRA</text><text x="181.26" y="734.6" font-size="22" textLength="15.4" lengthAdjust="spacingAndGlyphs">=</text><text x="196.46" y="734.6" font-size="22" textLength="36.31" lengthAdjust="spacingAndGlyphs">9.37</text><text x="237.97" y="734.6" font-size="22" textLength="56.85" lengthAdjust="spacingAndGlyphs">krad·s</text><text x="294.24" y="722.0" font-size="11" textLength="13.59" lengthAdjust="spacingAndGlyphs">−2</text><text x="119.99" y="759.8" font-size="22" textLength="57.07" lengthAdjust="spacingAndGlyphs">RPLA</text><text x="179.64" y="759.8" font-size="22" textLength="14.41" lengthAdjust="spacingAndGlyphs">=</text><text x="194.8" y="759.8" font-size="22" textLength="60.4" lengthAdjust="spacingAndGlyphs">668.23</text><text x="260.44" y="759.8" font-size="22" textLength="31.83" lengthAdjust="spacingAndGlyphs">m·s</text><text x="291.85" y="747.2" font-size="11" textLength="13.48" lengthAdjust="spacingAndGlyphs">−2</text><text x="425.56" y="734.6" font-size="22" textLength="33.59" lengthAdjust="spacingAndGlyphs">( ii )</text><text x="462.66" y="734.6" font-size="22" textLength="59.64" lengthAdjust="spacingAndGlyphs">RPRA</text><text x="524.05" y="734.6" font-size="22" textLength="15.53" lengthAdjust="spacingAndGlyphs">=</text><text x="539.18" y="734.6" font-size="22" textLength="49.82" lengthAdjust="spacingAndGlyphs">12.44</text><text x="594.59" y="734.6" font-size="22" textLength="55.4" lengthAdjust="spacingAndGlyphs">krad·s</text><text x="649.56" y="722.0" font-size="11" textLength="14.53" lengthAdjust="spacingAndGlyphs">−2</text><text x="462.67" y="759.8" font-size="22" textLength="58.09" lengthAdjust="spacingAndGlyphs">RPLA</text><text x="522.36" y="759.8" font-size="22" textLength="15.4" lengthAdjust="spacingAndGlyphs">=</text><text x="536.79" y="759.8" font-size="22" textLength="77.62" lengthAdjust="spacingAndGlyphs">2 554.50</text><text x="617.83" y="759.8" font-size="22" textLength="32.15" lengthAdjust="spacingAndGlyphs">m·s</text><text x="649.56" y="747.2" font-size="11" textLength="14.53" lengthAdjust="spacingAndGlyphs">−2</text><text x="198.87" y="790.2" font-size="22" textLength="12.47" lengthAdjust="spacingAndGlyphs">0</text><text x="506.0" y="790.3" font-size="22" textLength="27.39" lengthAdjust="spacingAndGlyphs">0.5</text><text x="339.36" y="862" font-size="22" textLength="45.72" lengthAdjust="spacingAndGlyphs">MPS</text><path d="M205.1,796.5 V805.6 H519.7 V796.5" fill="none" stroke="#231f20" stroke-width="2"/><path d="M268.0,796.5 V805.6" stroke="#231f20" stroke-width="2"/><path d="M330.9,796.5 V805.6" stroke="#231f20" stroke-width="2"/><path d="M393.9,796.5 V805.6" stroke="#231f20" stroke-width="2"/><path d="M456.8,796.5 V805.6" stroke="#231f20" stroke-width="2"/><defs><linearGradient id="mps" x1="0" x2="1" y1="0" y2="0"><stop offset="0" stop-color="#17399a"/><stop offset="0.14" stop-color="#1f5ab0"/><stop offset="0.24" stop-color="#2aa0dc"/><stop offset="0.30" stop-color="#48bde0"/><stop offset="0.38" stop-color="#5cc2b8"/><stop offset="0.52" stop-color="#4cb05a"/><stop offset="0.66" stop-color="#8cc43a"/><stop offset="0.76" stop-color="#eee51e"/><stop offset="0.84" stop-color="#f5a81e"/><stop offset="1" stop-color="#e21a1e"/></linearGradient></defs><rect x="206.3" y="813.3" width="315" height="28.5" rx="1.5" fill="url(#mps)"/>
</svg></body></html>
